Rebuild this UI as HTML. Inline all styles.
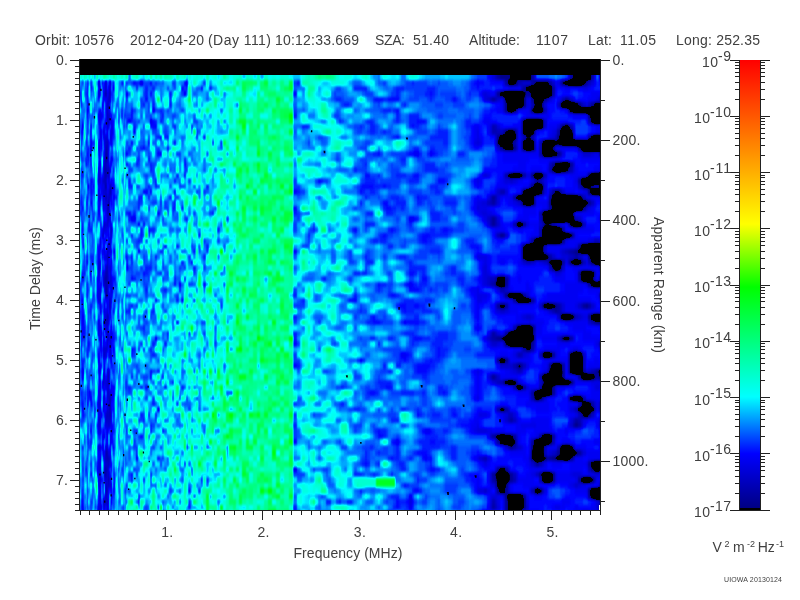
<!DOCTYPE html>
<html><head><meta charset="utf-8"><title>MARSIS AIS ionogram</title>
<style>
html,body{margin:0;padding:0;background:#fff;}
body{width:800px;height:600px;overflow:hidden;}
svg{display:block;}
text{font-family:"Liberation Sans",Arial,Helvetica,sans-serif;font-size:14px;fill:#404040;}
.t{stroke:#222;stroke-width:1;shape-rendering:crispEdges;fill:none;}
</style></head><body>
<svg width="800" height="600" viewBox="0 0 800 600">
<rect width="800" height="600" fill="#fff"/>
<defs><clipPath id="pc"><rect x="80" y="59" width="520" height="451"/></clipPath><filter id="spl" x="70" y="60" width="540" height="460" filterUnits="userSpaceOnUse" color-interpolation-filters="sRGB"><feConvolveMatrix order="3 1" kernelMatrix="0.22 0.56 0.22" edgeMode="duplicate" preserveAlpha="true"/><feGaussianBlur stdDeviation="0.1 1.5"/><feComponentTransfer><feFuncR type="table" tableValues="0 0 0 0 0 0 0 0 0 0 0 0 0 0 0 0 0 0 0 0 0 0 0 0 0 0 0 0 0 0 0 0 0 0 0 0 0 0 0 0 0 0 0 0 0 0 0 0 0 0 0 0 0 0 0 0 0 0 0 0 0 0 0 0 0 0 0 0 0 0 0 0 0 0 0 0 0 0 0 0 0 0 0 0 0 0 0 0 0 0 0 0 0 0 0 0 0 0 0 0 0 0 0 0 0 0 0 0 0 0 0.027 0.0721 0.117 0.162 0.207 0.252 0.297 0.342 0.387 0.432 0.477"/><feFuncG type="table" tableValues="0 0 0 0 0 0 0 0 0 0 0 0 0 0 0 0 0 0 0 0 0 0 0 0 0 0 0 0 0 0 0 0 0 0 0 0 0 0 0 0 0 0 0 0 0 0 0 0 0 0 0 0.05 0.1 0.15 0.2 0.25 0.3 0.35 0.4 0.45 0.5 0.55 0.6 0.65 0.7 0.75 0.8 0.85 0.9 0.95 1 1 1 1 1 1 1 1 1 1 1 1 1 1 1 1 1 1 1 1 1 1 1 1 1 1 1 1 1 1 1 1 1 1 1 1 1 1 1 1 1 1 1 1 1 1 1 1 1 1 1"/><feFuncB type="table" tableValues="0 0 0 0 0 0 0 0 0 0 0 0 0 0 0 0 0 0 0 0 0 0 0 0 0 0 0 0 0 0 0.54 0.563 0.586 0.609 0.632 0.655 0.678 0.701 0.724 0.747 0.77 0.793 0.816 0.839 0.862 0.885 0.908 0.931 0.954 0.977 1 1 1 1 1 1 1 1 1 1 1 1 1 1 1 1 1 1 1 1 1 0.975 0.949 0.924 0.898 0.873 0.848 0.822 0.797 0.772 0.746 0.721 0.695 0.67 0.645 0.619 0.594 0.569 0.543 0.518 0.492 0.467 0.442 0.416 0.391 0.365 0.34 0.315 0.289 0.264 0.239 0.213 0.188 0.162 0.137 0.112 0.0863 0.0609 0.0355 0.0102 0 0 0 0 0 0 0 0 0 0 0"/><feFuncA type="linear" slope="0" intercept="1"/></feComponentTransfer></filter></defs>
<g clip-path="url(#pc)" shape-rendering="crispEdges" fill="none" stroke-width="1"><g filter="url(#spl)"><g transform="translate(70,69.5625) scale(1,5.4375)"><path stroke="#4a4a4a" d="M36.5 8.5h1.1M35.3 15.5h1.2M35.3 16.5h1.2M35.3 21.5h1.2M39.9 21.5h1.2M37.6 24.5h1.2M37.6 25.5h1.2M36.5 36.5h1.1M35.3 38.5h1.2M35.3 40.5h1.2M35.3 41.5h1.2M38.8 43.5h1.1M39.9 51.5h1.2M37.6 57.5h1.2M39.9 61.5h1.2M37.6 75.5h1.2"/><path stroke="#4f4f4f" d="M39.9 2.5h1.2M35.3 4.5h1.2M38.8 4.5h1.1M38.8 5.5h1.1M36.5 7.5h1.1M38.8 8.5h1.1M36.5 9.5h1.1M35.3 14.5h1.2M36.5 15.5h1.1M37.6 17.5h1.2M34.2 18.5h2.3M37.6 18.5h1.2M35.3 19.5h1.2M39.9 22.5h1.2M35.3 23.5h1.2M38.8 23.5h1.1M33 24.5h1.2M36.5 25.5h1.1M36.5 26.5h1.1M34.2 28.5h1.1M33 30.5h1.2M29.6 31.5h1.1M36.5 34.5h1.1M35.3 37.5h2.3M35.3 39.5h1.2M38.8 42.5h1.1M36.5 44.5h1.1M36.5 45.5h1.1M36.5 48.5h1.1M39.9 50.5h1.2M33 51.5h1.2M37.6 56.5h1.2M33 57.5h1.2M39.9 60.5h1.2M33 61.5h1.2M38.8 61.5h1.1M39.9 62.5h1.2M39.9 63.5h1.2M36.5 67.5h1.1M35.3 70.5h2.3M36.5 71.5h1.1M35.3 73.5h1.2M34.2 74.5h2.3M37.6 74.5h1.2M29.6 75.5h1.1M37.6 76.5h1.2M35.3 77.5h1.2M29.6 78.5h1.1"/><path stroke="#535353" d="M36.5 6.5h1.1M37.6 9.5h1.2M36.5 10.5h1.1M36.5 11.5h1.1M39.9 12.5h1.2M36.5 13.5h1.1M36.5 14.5h1.1M33 16.5h1.2M34.2 17.5h2.3M34.2 19.5h1.1M37.6 19.5h1.2M34.2 20.5h2.3M38.8 22.5h1.1M33 23.5h1.2M38.8 24.5h1.1M37.6 27.5h1.2M39.9 28.5h1.2M41.1 29.5h1.1M37.6 30.5h1.2M39.9 31.5h1.2M39.9 32.5h1.2M36.5 33.5h1.1M36.5 35.5h1.1M41.1 35.5h1.1M39.9 37.5h1.2M34.2 38.5h1.1M36.5 38.5h2.3M39.9 38.5h1.2M36.5 39.5h1.1M36.5 40.5h1.1M36.5 41.5h1.1M36.5 43.5h1.1M38.8 44.5h1.1M37.6 45.5h1.2M34.2 46.5h3.4M30.7 48.5h1.2M36.5 49.5h1.1M33 50.5h1.2M36.5 50.5h1.1M33 52.5h1.2M34.2 55.5h1.1M33 56.5h1.2M36.5 59.5h1.1M34.2 60.5h1.1M36.5 60.5h1.1M38.8 60.5h1.1M36.5 62.5h1.1M38.8 62.5h1.1M36.5 63.5h1.1M38.8 63.5h1.1M33 70.5h1.2M29.6 71.5h1.1M35.3 71.5h1.2M37.6 71.5h1.2M37.6 72.5h1.2M29.6 73.5h1.1M34.2 73.5h1.1M35.3 76.5h1.2M36.5 77.5h1.1M35.3 78.5h1.2M41.1 78.5h1.1M29.6 79.5h1.1M33 79.5h2.3M36.5 79.5h1.1M36.5 80.5h1.1"/><path stroke="#585858" d="M28.4 2.5h1.2M35.3 2.5h1.2M35.3 3.5h1.2M38.8 3.5h1.1M28.4 4.5h1.2M39.9 4.5h1.2M37.6 5.5h1.2M37.6 6.5h1.2M38.8 9.5h1.1M41.1 9.5h1.1M29.6 11.5h1.1M33 11.5h1.2M36.5 12.5h1.1M35.3 13.5h1.2M36.5 16.5h2.3M28.4 19.5h1.2M28.4 20.5h1.2M31.9 20.5h2.3M37.6 20.5h1.2M33 22.5h1.2M35.3 22.5h1.2M41.1 22.5h1.1M28.4 23.5h1.2M37.6 23.5h1.2M35.3 24.5h1.2M33 25.5h1.2M37.6 26.5h1.2M36.5 27.5h1.1M39.9 27.5h1.2M36.5 28.5h1.1M33 29.5h1.2M39.9 29.5h1.2M31.9 30.5h1.1M39.9 30.5h2.3M29.6 32.5h1.1M34.2 33.5h1.1M28.4 36.5h1.2M35.3 36.5h1.2M39.9 36.5h1.2M33 38.5h1.2M33 39.5h2.3M39.9 39.5h1.2M41.1 40.5h1.1M29.6 42.5h1.1M39.9 42.5h1.2M29.6 43.5h1.1M34.2 43.5h1.1M39.9 43.5h1.2M34.2 44.5h1.1M37.6 46.5h1.2M36.5 47.5h1.1M33 48.5h1.2M37.6 48.5h1.2M30.7 49.5h1.2M33 49.5h1.2M37.6 49.5h1.2M39.9 49.5h1.2M35.3 51.5h1.2M34.2 52.5h1.1M39.9 52.5h1.2M36.5 55.5h2.3M34.2 56.5h1.1M36.5 56.5h1.1M29.6 57.5h1.1M37.6 58.5h1.2M37.6 59.5h1.2M29.6 61.5h1.1M36.5 61.5h1.1M33 62.5h1.2M35.3 63.5h1.2M37.6 63.5h1.2M28.4 64.5h1.2M35.3 64.5h5.8M37.6 65.5h2.3M36.5 66.5h1.1M39.9 68.5h1.2M28.4 69.5h2.3M36.5 69.5h1.1M38.8 71.5h2.3M29.6 72.5h1.1M35.3 72.5h2.3M38.8 72.5h1.1M36.5 73.5h2.3M29.6 74.5h1.1M35.3 75.5h1.2M39.9 76.5h2.3M35.3 79.5h1.2M37.6 79.5h1.2M30.7 80.5h1.2M34.2 80.5h1.1M37.6 81.5h1.2"/><path stroke="#5d5d5d" d="M29.6 3.5h1.1M39.9 3.5h1.2M34.2 4.5h1.1M30.7 8.5h1.2M41.1 10.5h1.1M41.1 11.5h1.1M29.6 12.5h2.3M34.2 12.5h2.3M30.7 13.5h1.2M34.2 13.5h1.1M37.6 13.5h1.2M28.4 14.5h1.2M37.6 14.5h1.2M29.6 17.5h1.1M33 17.5h1.2M39.9 17.5h1.2M28.4 18.5h1.2M36.5 18.5h1.1M38.8 18.5h1.1M36.5 19.5h1.1M38.8 19.5h1.1M29.6 20.5h1.1M31.9 21.5h1.1M34.2 21.5h1.1M41.1 21.5h1.1M30.7 22.5h1.2M34.2 22.5h1.1M41.1 23.5h1.1M41.1 24.5h1.1M38.8 26.5h1.1M35.3 28.5h1.2M37.6 28.5h1.2M37.6 29.5h1.2M36.5 32.5h1.1M38.8 32.5h1.1M31.9 33.5h1.1M37.6 33.5h3.5M31.9 34.5h1.1M34.2 34.5h1.1M41.1 34.5h1.1M28.4 35.5h2.3M29.6 36.5h1.1M38.8 36.5h1.1M28.4 37.5h1.2M37.6 37.5h1.2M41.1 38.5h1.1M30.7 39.5h1.2M37.6 39.5h1.2M41.1 39.5h1.1M29.6 41.5h1.1M28.4 42.5h1.2M29.6 44.5h1.1M39.9 44.5h1.2M34.2 45.5h2.3M28.4 46.5h1.2M41.1 46.5h1.1M28.4 47.5h1.2M30.7 47.5h1.2M35.3 47.5h1.2M41.1 47.5h1.1M28.4 48.5h1.2M29.6 49.5h1.1M29.6 50.5h2.3M30.7 51.5h1.2M34.2 51.5h1.1M36.5 51.5h1.1M30.7 52.5h1.2M35.3 52.5h1.2M28.4 53.5h1.2M41.1 53.5h1.1M34.2 54.5h1.1M12.3 55.5h1.2M35.3 57.5h2.3M29.6 58.5h1.1M33 58.5h1.2M36.5 58.5h1.1M41.1 58.5h1.1M28.4 59.5h1.2M39.9 59.5h1.2M33 60.5h1.2M37.6 60.5h1.2M41.1 60.5h1.1M28.4 61.5h1.2M37.6 62.5h1.2M4.2 63.5h1.2M41.1 63.5h1.1M29.6 64.5h1.1M28.4 65.5h2.3M35.3 65.5h1.2M29.6 66.5h1.1M33 67.5h1.2M36.5 68.5h1.1M31.9 69.5h2.3M35.3 69.5h1.2M39.9 69.5h1.2M39.9 70.5h1.2M34.2 72.5h1.1M41.1 73.5h1.1M38.8 75.5h1.1M28.4 76.5h2.3M36.5 76.5h1.1M38.8 76.5h1.1M41.1 77.5h1.1M28.4 80.5h2.3M33 80.5h1.2M28.4 81.5h1.2M36.5 81.5h1.1"/><path stroke="#616161" d="M31.9 2.5h1.1M70.4 2.5h2.4M28.4 3.5h1.2M37.6 4.5h1.2M33 5.5h1.2M36.5 5.5h1.1M39.9 5.5h1.2M31.9 6.5h2.3M38.8 6.5h1.1M16.9 7.5h1.2M29.6 7.5h1.1M38.8 7.5h1.1M28.4 8.5h2.3M37.6 8.5h1.2M41.1 8.5h1.1M80 9.5h2.4M12.3 10.5h1.2M34.2 10.5h1.1M37.6 10.5h1.2M42.2 10.5h1.2M34.2 11.5h1.1M42.2 11.5h1.2M41.1 12.5h1.1M11.2 13.5h1.1M23.8 13.5h1.2M28.4 13.5h1.2M41.1 13.5h1.1M20.4 14.5h1.1M30.7 14.5h1.2M37.6 15.5h1.2M41.1 16.5h1.1M36.5 17.5h1.1M33 18.5h1.2M39.9 18.5h1.2M38.8 20.5h1.1M41.1 20.5h1.1M18.1 21.5h1.1M38.8 21.5h1.1M28.4 22.5h1.2M37.6 22.5h1.2M29.6 23.5h1.1M36.5 23.5h1.1M36.5 24.5h1.1M28.4 25.5h1.2M35.3 25.5h1.2M38.8 25.5h1.1M33 26.5h1.2M33 27.5h1.2M38.8 27.5h1.1M34.2 29.5h2.3M29.6 30.5h1.1M37.6 31.5h1.2M37.6 32.5h1.2M41.1 33.5h1.1M35.3 34.5h1.2M37.6 34.5h1.2M16.9 35.5h1.2M31.9 36.5h1.1M31.9 37.5h3.4M28.4 38.5h1.2M27.3 39.5h1.1M28.4 40.5h2.3M37.6 40.5h1.2M27.3 41.5h2.3M38.8 41.5h1.1M41.1 41.5h1.1M36.5 42.5h1.1M41.1 42.5h1.1M33 46.5h1.2M39.9 48.5h2.3M38.8 49.5h1.1M11.2 50.5h1.1M23.8 50.5h1.2M38.8 51.5h1.1M38.8 52.5h1.1M33 53.5h1.2M28.4 54.5h1.2M30.7 54.5h1.2M28.4 55.5h2.3M33 55.5h1.2M38.8 55.5h1.1M12.3 56.5h1.2M38.8 56.5h1.1M16.9 58.5h1.2M35.3 58.5h1.2M19.2 59.5h1.2M29.6 59.5h1.1M34.2 59.5h1.1M38.8 59.5h1.1M41.1 59.5h1.1M28.4 60.5h2.3M16.9 61.5h1.2M28.4 62.5h2.3M28.4 63.5h3.5M41.1 64.5h1.1M36.5 65.5h1.1M41.1 65.5h1.1M8.9 66.5h1.1M28.4 66.5h1.2M41.1 66.5h1.1M39.9 67.5h2.3M31.9 68.5h1.1M37.6 70.5h2.3M34.2 71.5h1.1M28.4 72.5h1.2M41.1 72.5h1.1M27.3 73.5h2.3M27.3 74.5h2.3M36.5 74.5h1.1M16.9 75.5h1.2M28.4 75.5h1.2M31.9 75.5h1.1M36.5 75.5h1.1M39.9 75.5h1.2M16.9 76.5h1.2M33 76.5h1.2M29.6 77.5h1.1M33 77.5h1.2M36.5 78.5h2.3M16.9 79.5h1.2M41.1 79.5h1.1M37.6 80.5h1.2M30.7 81.5h1.2"/><path stroke="#666666" d="M116 2.5h2.4M37.6 3.5h1.2M43.4 3.5h1.1M10 4.5h1.2M16.9 4.5h1.2M33 4.5h1.2M56 4.5h2.4M113.6 4.5h2.4M11.2 5.5h1.1M35.3 5.5h1.2M11.2 6.5h1.1M35.3 6.5h1.2M33 7.5h1.2M35.3 7.5h1.2M37.6 7.5h1.2M82.4 7.5h2.4M16.9 8.5h1.2M33 8.5h1.2M28.4 9.5h2.3M35.3 9.5h1.2M58.4 9.5h2.4M20.4 10.5h1.1M29.6 10.5h1.1M20.4 11.5h1.1M30.7 11.5h1.2M33 12.5h1.2M20.4 13.5h1.1M39.9 13.5h1.2M18.1 14.5h1.1M23.8 14.5h1.2M28.4 15.5h1.2M33 15.5h1.2M52.6 15.5h1.1M18.1 16.5h1.1M29.6 16.5h1.1M34.2 16.5h1.1M42.2 16.5h1.2M15.8 17.5h1.1M23.8 17.5h1.2M28.4 17.5h1.2M29.6 18.5h1.1M33 19.5h1.2M28.4 21.5h1.2M30.7 21.5h1.2M33 21.5h1.2M37.6 21.5h1.2M43.4 21.5h1.1M31.9 22.5h1.1M36.5 22.5h1.1M34.2 23.5h1.1M39.9 23.5h1.2M43.4 23.5h1.1M45.7 23.5h1.1M15.8 24.5h1.1M28.4 24.5h2.3M21.5 25.5h1.2M19.2 26.5h1.2M28.4 26.5h1.2M35.3 26.5h1.2M39.9 26.5h1.2M19.2 27.5h1.2M60.8 27.5h4.8M29.6 28.5h1.1M68 28.5h2.4M35.3 30.5h1.2M16.9 31.5h1.2M34.2 31.5h1.1M16.9 32.5h1.2M23.8 32.5h1.2M27.3 32.5h1.1M33 32.5h2.3M28.4 33.5h1.2M43.4 33.5h1.1M68 33.5h2.4M13.5 34.5h1.1M16.9 34.5h1.2M22.7 34.5h1.1M28.4 34.5h1.2M31.9 35.5h1.1M37.6 35.5h2.3M22.7 36.5h1.1M37.6 36.5h1.2M56 36.5h2.4M20.4 37.5h1.1M27.3 38.5h1.1M38.8 39.5h1.1M42.2 39.5h1.2M108.8 39.5h2.4M27.3 40.5h1.1M39.9 40.5h1.2M42.2 40.5h1.2M16.9 41.5h1.2M39.9 41.5h1.2M35.3 44.5h1.2M48 44.5h1.1M12.3 45.5h1.2M30.7 45.5h1.2M39.9 45.5h1.2M12.3 46.5h1.2M14.6 46.5h1.2M30.7 46.5h1.2M33 47.5h1.2M35.3 48.5h1.2M11.2 49.5h1.1M41.1 49.5h1.1M84.8 49.5h2.4M35.3 50.5h1.2M11.2 51.5h1.1M43.4 51.5h1.1M23.8 52.5h1.2M28.4 52.5h1.2M41.1 52.5h1.1M37.6 53.5h1.2M23.8 56.5h1.2M29.6 56.5h1.1M21.5 57.5h1.2M23.8 57.5h1.2M31.9 57.5h1.1M34.2 57.5h1.1M41.1 57.5h1.1M48 57.5h1.1M28.4 58.5h1.2M31.9 58.5h1.1M43.4 58.5h1.1M16.9 59.5h1.2M23.8 59.5h1.2M43.4 59.5h1.1M14.6 60.5h1.2M16.9 60.5h1.2M20.4 60.5h1.1M27.3 61.5h1.1M34.2 61.5h1.1M37.6 61.5h1.2M42.2 61.5h1.2M12.3 62.5h1.2M87.2 62.5h2.4M23.8 63.5h1.2M4.2 64.5h1.2M39.9 65.5h1.2M20.4 66.5h1.1M33 66.5h1.2M31.9 67.5h1.1M34.2 67.5h1.1M42.2 68.5h1.2M27.3 70.5h1.1M29.6 70.5h1.1M52.6 70.5h1.1M33 71.5h1.2M65.6 71.5h2.4M39.9 72.5h1.2M52.6 72.5h1.1M48 73.5h1.1M222.9 73.5h4.4M16.9 74.5h1.2M38.8 74.5h1.1M34.2 75.5h1.1M41.1 75.5h1.1M43.4 76.5h1.1M16.9 77.5h1.2M28.4 77.5h1.2M43.4 77.5h1.1M16.9 78.5h1.2M28.4 78.5h1.2M28.4 79.5h1.2M12.3 80.5h1.2M16.9 80.5h1.2M12.3 81.5h1.2M33 81.5h1.2"/><path stroke="#6b6b6b" d="M14.6 2.5h1.2M16.9 2.5h1.2M38.8 2.5h1.1M52.6 2.5h1.1M63.2 2.5h2.4M80 2.5h2.4M113.6 2.5h2.4M4.2 3.5h1.2M16.9 3.5h1.2M33 3.5h2.3M111.2 3.5h2.4M130.7 3.5h2.6M29.6 4.5h1.1M36.5 4.5h1.1M42.2 4.5h1.2M80 4.5h2.4M222.9 4.5h4.4M10 5.5h1.2M16.9 5.5h1.2M28.4 5.5h1.2M42.2 5.5h1.2M75.2 5.5h2.4M16.9 6.5h2.3M23.8 6.5h1.2M42.2 6.5h1.2M23.8 7.5h1.2M31.9 7.5h1.1M48 7.5h1.1M60.8 7.5h2.4M23.8 8.5h1.2M35.3 8.5h1.2M48 8.5h1.1M51.4 8.5h1.2M53.7 8.5h1.2M60.8 8.5h2.4M18.1 9.5h1.1M43.4 9.5h1.1M48 9.5h2.3M82.4 9.5h2.4M33 10.5h1.2M35.3 10.5h1.2M38.8 10.5h1.1M80 10.5h7.2M12.3 11.5h1.2M39.9 11.5h1.2M63.2 11.5h2.4M11.2 12.5h1.1M20.4 12.5h1.1M23.8 12.5h1.2M89.6 12.5h2.4M15.8 13.5h1.1M60.8 13.5h2.4M77.6 13.5h2.4M104 13.5h2.4M5.4 14.5h1.2M11.2 14.5h1.1M42.2 14.5h1.2M72.8 14.5h2.4M96.8 14.5h2.4M11.2 15.5h1.1M16.9 15.5h2.3M20.4 15.5h1.1M23.8 15.5h1.2M30.7 15.5h1.2M42.2 15.5h1.2M56 15.5h2.4M87.2 15.5h4.8M20.4 16.5h1.1M39.9 16.5h1.2M52.6 16.5h1.1M77.6 16.5h2.4M18.1 17.5h1.1M20.4 17.5h1.1M41.1 17.5h1.1M56 17.5h2.4M113.6 17.5h2.4M11.2 18.5h1.1M23.8 18.5h1.2M45.7 18.5h1.1M12.3 19.5h1.2M29.6 19.5h1.1M31.9 19.5h1.1M52.6 19.5h1.1M113.6 19.5h2.4M16.9 20.5h1.2M20.4 20.5h2.3M23.8 20.5h1.2M43.4 20.5h1.1M52.6 20.5h1.1M16.9 21.5h1.2M20.4 21.5h1.1M22.7 21.5h2.3M29.6 21.5h1.1M42.2 21.5h1.2M20.4 22.5h1.1M23.8 22.5h1.2M43.4 22.5h1.1M72.8 22.5h4.8M80 22.5h2.4M104 22.5h2.4M222.9 22.5h4.4M16.9 23.5h1.2M23.8 23.5h1.2M10 24.5h1.2M16.9 24.5h1.2M20.4 24.5h2.3M34.2 24.5h1.1M43.4 24.5h1.1M12.3 25.5h1.2M16.9 25.5h1.2M34.2 25.5h1.1M41.1 25.5h1.1M43.4 25.5h1.1M222.9 25.5h4.4M58.4 26.5h2.4M87.2 26.5h2.4M34.2 27.5h2.3M42.2 27.5h1.2M48 27.5h1.1M18.1 28.5h2.3M21.5 28.5h1.2M33 28.5h1.2M72.8 28.5h2.4M11.2 29.5h1.1M29.6 29.5h2.3M36.5 29.5h1.1M42.2 29.5h1.2M52.6 30.5h1.1M23.8 31.5h1.2M33 31.5h1.2M35.3 31.5h1.2M38.8 31.5h1.1M52.6 31.5h1.1M52.6 32.5h1.1M94.4 32.5h2.4M16.9 33.5h1.2M29.6 33.5h1.1M33 33.5h1.2M222.9 33.5h4.4M5.4 34.5h1.2M38.8 34.5h1.1M52.6 34.5h1.1M5.4 35.5h1.2M21.5 35.5h2.3M34.2 35.5h1.1M52.6 35.5h1.1M56 35.5h2.4M120.8 35.5h2.4M41.1 36.5h1.1M48 36.5h1.1M48 37.5h1.1M72.8 37.5h2.4M12.3 38.5h1.2M20.4 38.5h1.1M23.8 38.5h1.2M30.7 38.5h1.2M42.2 38.5h2.3M60.8 38.5h2.4M28.4 39.5h1.2M104 39.5h2.4M133.3 39.5h2.7M16.9 40.5h1.2M23.8 41.5h1.2M37.6 41.5h1.2M42.2 41.5h1.2M52.6 41.5h1.1M11.2 42.5h2.3M16.9 42.5h1.2M27.3 42.5h1.1M33 42.5h1.2M35.3 42.5h1.2M54.9 42.5h1.1M84.8 42.5h2.4M111.2 42.5h2.4M12.3 43.5h1.2M16.9 43.5h1.2M54.9 43.5h1.1M10 44.5h1.2M12.3 44.5h1.2M16.9 44.5h1.2M30.7 44.5h1.2M43.4 44.5h1.1M52.6 44.5h1.1M54.9 44.5h1.1M23.8 45.5h1.2M48 45.5h1.1M54.9 45.5h1.1M106.4 46.5h2.4M11.2 47.5h3.4M29.6 47.5h1.1M11.2 48.5h3.4M42.2 48.5h1.2M50.3 48.5h1.1M23.8 49.5h1.2M28.4 49.5h1.2M42.2 49.5h2.3M45.7 49.5h1.1M50.3 49.5h1.1M18.1 50.5h2.3M37.6 50.5h2.3M41.1 50.5h2.3M222.9 50.5h4.4M6.6 51.5h1.1M23.8 51.5h1.2M29.6 51.5h1.1M60.8 51.5h2.4M11.2 52.5h1.1M21.5 52.5h1.2M37.6 52.5h1.2M43.4 52.5h1.1M21.5 53.5h1.2M30.7 53.5h1.2M39.9 53.5h1.2M12.3 54.5h1.2M37.6 54.5h1.2M41.1 54.5h1.1M222.9 54.5h4.4M49.1 55.5h1.2M80 55.5h2.4M21.5 56.5h1.2M28.4 56.5h1.2M80 56.5h2.4M38.8 57.5h1.1M54.9 57.5h1.1M8.9 58.5h1.1M23.8 58.5h1.2M42.2 58.5h1.2M54.9 58.5h1.1M75.2 58.5h2.4M11.2 59.5h1.1M33 59.5h1.2M52.6 59.5h1.1M11.2 60.5h1.1M42.2 60.5h2.3M48 60.5h1.1M12.3 61.5h1.2M14.6 61.5h1.2M18.1 61.5h1.1M20.4 61.5h1.1M23.8 61.5h1.2M35.3 61.5h1.2M50.3 61.5h1.1M16.9 62.5h1.2M23.8 62.5h2.3M27.3 62.5h1.1M34.2 62.5h2.3M41.1 62.5h1.1M43.4 62.5h1.1M50.3 62.5h1.1M12.3 63.5h1.2M43.4 63.5h1.1M23.8 64.5h1.2M8.9 65.5h1.1M11.2 65.5h1.1M27.3 65.5h1.1M42.2 65.5h1.2M38.8 66.5h1.1M42.2 66.5h1.2M13.5 67.5h1.1M16.9 67.5h1.2M29.6 67.5h1.1M42.2 67.5h1.2M48 67.5h1.1M70.4 67.5h2.4M23.8 68.5h1.2M33 68.5h1.2M222.9 68.5h4.4M43.4 69.5h1.1M28.4 70.5h1.2M27.3 71.5h2.3M27.3 72.5h1.1M15.8 73.5h1.1M20.4 74.5h1.1M23.8 74.5h1.2M43.4 74.5h1.1M52.6 74.5h1.1M60.8 74.5h2.4M43.4 75.5h1.1M4.2 77.5h1.2M37.6 77.5h1.2M54.9 77.5h1.1M33 78.5h1.2M11.2 79.5h2.3M14.6 80.5h1.2M25 80.5h1.1M35.3 80.5h1.2M52.6 80.5h1.1M54.9 80.5h1.1M10 81.5h1.2M27.3 81.5h1.1M52.6 81.5h1.1"/><path stroke="#6f6f6f" d="M18.1 2.5h1.1M20.4 2.5h1.1M34.2 2.5h1.1M37.6 2.5h1.2M42.2 2.5h2.3M51.4 2.5h1.2M65.6 2.5h4.8M14.6 3.5h1.2M20.4 3.5h1.1M31.9 3.5h1.1M42.2 3.5h1.2M54.9 3.5h1.1M65.6 3.5h2.4M75.2 3.5h2.4M82.4 3.5h2.4M116 3.5h2.4M138.7 3.5h2.8M11.2 4.5h1.1M75.2 4.5h2.4M99.2 4.5h2.4M23.8 5.5h1.2M34.2 5.5h1.1M52.6 5.5h1.1M56 5.5h2.4M39.9 6.5h1.2M45.7 6.5h1.1M54.9 6.5h1.1M72.8 6.5h2.4M82.4 6.5h2.4M99.2 6.5h2.4M18.1 7.5h2.3M21.5 7.5h1.2M28.4 7.5h1.2M39.9 7.5h1.2M42.2 7.5h1.2M51.4 7.5h1.2M89.6 7.5h2.4M21.5 8.5h1.2M31.9 8.5h1.1M39.9 8.5h1.2M92 8.5h2.4M222.9 8.5h4.4M12.3 9.5h1.2M16.9 9.5h1.2M30.7 9.5h1.2M39.9 9.5h1.2M42.2 9.5h1.2M53.7 9.5h1.2M56 9.5h2.4M60.8 9.5h2.4M84.8 9.5h2.4M89.6 9.5h2.4M16.9 10.5h2.3M28.4 10.5h1.2M43.4 10.5h1.1M63.2 10.5h2.4M104 10.5h2.4M120.8 10.5h2.4M10 11.5h2.3M16.9 11.5h1.2M43.4 11.5h1.1M16.9 12.5h1.2M42.2 12.5h2.3M87.2 12.5h2.4M94.4 12.5h4.8M125.7 12.5h2.5M133.3 12.5h2.7M21.5 13.5h1.2M42.2 13.5h1.2M141.5 13.5h2.8M34.2 14.5h1.1M58.4 14.5h2.4M70.4 14.5h2.4M5.4 15.5h1.2M34.2 15.5h1.1M45.7 15.5h1.1M54.9 15.5h1.1M11.2 16.5h1.1M14.6 16.5h2.3M23.8 16.5h1.2M28.4 16.5h1.2M45.7 16.5h1.1M48 16.5h1.1M68 16.5h2.4M113.6 16.5h2.4M7.7 17.5h1.2M45.7 17.5h1.1M48 17.5h1.1M65.6 17.5h2.4M80 17.5h2.4M43.4 18.5h1.1M80 18.5h2.4M10 19.5h1.2M21.5 19.5h1.2M23.8 19.5h1.2M56 19.5h2.4M106.4 19.5h2.4M30.7 20.5h1.2M42.2 20.5h1.2M58.4 20.5h2.4M84.8 20.5h2.4M104 20.5h2.4M48 21.5h1.1M52.6 21.5h1.1M54.9 21.5h1.1M58.4 21.5h4.8M77.6 21.5h2.4M84.8 21.5h2.4M136 21.5h2.7M18.1 22.5h1.1M21.5 22.5h1.2M48 22.5h1.1M10 23.5h2.3M20.4 23.5h2.3M68 23.5h4.8M77.6 23.5h2.4M99.2 23.5h2.4M11.2 24.5h1.1M23.8 24.5h1.2M45.7 24.5h1.1M68 24.5h2.4M89.6 24.5h2.4M104 24.5h2.4M15.8 25.5h1.1M48 25.5h1.1M68 25.5h2.4M77.6 25.5h2.4M101.6 25.5h4.8M111.2 25.5h2.4M4.2 26.5h2.4M11.2 26.5h1.1M15.8 26.5h1.1M21.5 26.5h1.2M23.8 26.5h1.2M42.2 26.5h1.2M56 26.5h2.4M63.2 26.5h2.4M141.5 26.5h2.8M222.9 26.5h4.4M11.2 27.5h1.1M22.7 27.5h1.1M28.4 27.5h1.2M58.4 27.5h2.4M116 27.5h2.4M7.7 28.5h1.2M12.3 28.5h1.2M26.1 28.5h1.2M30.7 28.5h1.2M41.1 28.5h2.3M54.9 28.5h1.1M12.3 29.5h1.2M18.1 29.5h4.6M31.9 29.5h1.1M70.4 29.5h2.4M77.6 29.5h7.2M147.2 29.5h2.9M11.2 30.5h1.1M16.9 30.5h1.2M21.5 30.5h1.2M60.8 30.5h2.4M70.4 30.5h2.4M77.6 30.5h2.4M128.2 30.5h2.5M12.3 31.5h1.2M21.5 31.5h1.2M31.9 31.5h1.1M41.1 31.5h1.1M56 31.5h2.4M68 31.5h2.4M4.2 32.5h1.2M12.3 32.5h2.3M21.5 32.5h1.2M28.4 32.5h1.2M106.4 32.5h2.4M136 32.5h2.7M8.9 33.5h1.1M13.5 33.5h1.1M27.3 33.5h1.1M35.3 33.5h1.2M52.6 33.5h1.1M89.6 33.5h2.4M123.2 33.5h2.5M8.9 34.5h1.1M15.8 34.5h1.1M20.4 34.5h1.1M27.3 34.5h1.1M43.4 34.5h1.1M48 34.5h1.1M54.9 34.5h3.5M60.8 34.5h2.4M84.8 34.5h2.4M133.3 34.5h2.7M13.5 35.5h1.1M15.8 35.5h1.1M35.3 35.5h1.2M48 35.5h1.1M60.8 35.5h2.4M111.2 35.5h2.4M5.4 36.5h1.2M13.5 36.5h1.1M75.2 36.5h7.2M123.2 36.5h2.5M11.2 37.5h4.6M38.8 37.5h1.1M75.2 37.5h2.4M89.6 37.5h2.4M11.2 38.5h1.1M38.8 38.5h1.1M44.5 38.5h1.2M63.2 38.5h2.4M104 38.5h2.4M113.6 38.5h2.4M10 39.5h1.2M15.8 39.5h2.3M29.6 39.5h1.1M44.5 39.5h1.2M10 40.5h1.2M30.7 40.5h1.2M34.2 40.5h1.1M45.7 40.5h1.1M75.2 40.5h2.4M94.4 40.5h2.4M108.8 40.5h2.4M11.2 41.5h1.1M21.5 41.5h1.2M44.5 41.5h1.2M222.9 41.5h4.4M21.5 42.5h1.2M23.8 42.5h1.2M34.2 42.5h1.1M44.5 42.5h1.2M49.1 42.5h1.2M106.4 42.5h2.4M20.4 43.5h1.1M27.3 43.5h1.1M31.9 43.5h1.1M41.1 43.5h1.1M43.4 43.5h1.1M48 43.5h1.1M60.8 43.5h2.4M20.4 44.5h1.1M33 44.5h1.2M56 44.5h4.8M82.4 44.5h2.4M10 45.5h1.2M16.9 45.5h1.2M28.4 45.5h1.2M38.8 45.5h1.1M52.6 45.5h1.1M72.8 45.5h2.4M222.9 45.5h4.4M5.4 46.5h1.2M11.2 46.5h1.1M23.8 46.5h1.2M38.8 46.5h1.1M52.6 46.5h1.1M54.9 46.5h1.1M6.6 47.5h1.1M14.6 47.5h1.2M18.1 47.5h1.1M21.5 47.5h1.2M37.6 47.5h1.2M39.9 47.5h1.2M43.4 47.5h1.1M45.7 47.5h1.1M50.3 47.5h1.1M72.8 47.5h2.4M14.6 48.5h1.2M18.1 48.5h1.1M43.4 48.5h1.1M45.7 48.5h1.1M96.8 48.5h2.4M222.9 48.5h4.4M12.3 49.5h2.3M18.1 49.5h1.1M34.2 49.5h1.1M222.9 49.5h4.4M5.4 50.5h2.3M16.9 50.5h1.2M34.2 50.5h1.1M43.4 50.5h1.1M52.6 50.5h1.1M82.4 50.5h2.4M94.4 50.5h2.4M5.4 51.5h1.2M13.5 51.5h1.1M16.9 51.5h3.5M28.4 51.5h1.2M42.2 51.5h1.2M63.2 51.5h2.4M68 51.5h2.4M72.8 51.5h2.4M80 51.5h2.4M16.9 52.5h2.3M60.8 52.5h2.4M82.4 52.5h2.4M11.2 53.5h3.4M23.8 53.5h1.2M34.2 53.5h2.3M23.8 54.5h1.2M29.6 54.5h1.1M33 54.5h1.2M42.2 54.5h1.2M46.8 54.5h1.2M49.1 54.5h1.2M52.6 54.5h1.1M15.8 55.5h1.1M42.2 55.5h2.3M87.2 55.5h2.4M15.8 56.5h1.1M19.2 56.5h1.2M35.3 56.5h1.2M60.8 56.5h2.4M92 56.5h2.4M7.7 57.5h1.2M12.3 57.5h1.2M19.2 57.5h1.2M28.4 57.5h1.2M101.6 57.5h2.4M7.7 58.5h1.2M10 58.5h1.2M19.2 58.5h1.2M34.2 58.5h1.1M38.8 58.5h1.1M48 58.5h1.1M52.6 58.5h1.1M58.4 58.5h2.4M70.4 58.5h2.4M94.4 58.5h2.4M111.2 58.5h2.4M14.6 59.5h1.2M20.4 59.5h1.1M42.2 59.5h1.2M48 59.5h1.1M8.9 60.5h1.1M18.1 60.5h2.3M54.9 60.5h1.1M11.2 61.5h1.1M21.5 61.5h1.2M43.4 61.5h1.1M48 61.5h1.1M82.4 61.5h2.4M42.2 62.5h1.2M34.2 63.5h1.1M70.4 63.5h2.4M77.6 63.5h2.4M84.8 63.5h2.4M21.5 64.5h1.2M43.4 64.5h1.1M72.8 64.5h2.4M18.1 65.5h1.1M20.4 65.5h1.1M43.4 65.5h1.1M80 65.5h2.4M222.9 65.5h4.4M16.9 66.5h1.2M27.3 66.5h1.1M31.9 66.5h1.1M34.2 66.5h2.3M43.4 66.5h1.1M56 66.5h2.4M65.6 66.5h2.4M80 66.5h2.4M92 66.5h2.4M8.9 67.5h1.1M18.1 67.5h1.1M28.4 67.5h1.2M13.5 68.5h1.1M16.9 68.5h2.3M20.4 68.5h1.1M29.6 68.5h1.1M35.3 68.5h1.2M41.1 68.5h1.1M48 68.5h1.1M12.3 69.5h1.2M38.8 69.5h1.1M42.2 69.5h1.2M52.6 69.5h1.1M116 69.5h2.4M16.9 70.5h1.2M43.4 70.5h1.1M65.6 70.5h2.4M6.6 71.5h1.1M16.9 71.5h1.2M54.9 71.5h1.1M87.2 71.5h2.4M6.6 72.5h1.1M20.4 72.5h1.1M54.9 72.5h1.1M113.6 72.5h2.4M12.3 73.5h1.2M14.6 73.5h1.2M43.4 73.5h1.1M52.6 73.5h1.1M14.6 74.5h1.2M39.9 74.5h2.3M48 74.5h1.1M80 74.5h2.4M10 75.5h1.2M12.3 75.5h1.2M21.5 75.5h1.2M48 75.5h1.1M52.6 75.5h1.1M60.8 75.5h2.4M72.8 75.5h2.4M130.7 75.5h2.6M10 76.5h1.2M48 76.5h1.1M56 76.5h2.4M12.3 77.5h1.2M38.8 77.5h2.3M118.4 77.5h2.4M12.3 78.5h1.2M21.5 78.5h1.2M43.4 78.5h1.1M54.9 78.5h1.1M68 78.5h2.4M21.5 79.5h1.2M68 79.5h2.4M11.2 80.5h1.1M27.3 80.5h1.1M39.9 80.5h1.2M118.4 80.5h2.4M222.9 80.5h4.4M7.7 81.5h1.2M14.6 81.5h1.2M35.3 81.5h1.2M39.9 81.5h1.2M222.9 81.5h4.4"/><path stroke="#747474" d="M7.7 2.5h1.2M12.3 2.5h1.2M33 2.5h1.2M56 2.5h2.4M60.8 2.5h2.4M72.8 2.5h7.2M84.8 2.5h2.4M101.6 2.5h4.8M133.3 2.5h2.7M222.9 2.5h4.4M10 3.5h1.2M18.1 3.5h1.1M21.5 3.5h1.2M96.8 3.5h2.4M104 3.5h2.4M113.6 3.5h2.4M14.6 4.5h2.3M26.1 4.5h1.2M48 4.5h1.1M72.8 4.5h2.4M111.2 4.5h2.4M14.6 5.5h1.2M18.1 5.5h1.1M26.1 5.5h1.2M31.9 5.5h1.1M48 5.5h1.1M70.4 5.5h2.4M82.4 5.5h2.4M89.6 5.5h2.4M99.2 5.5h2.4M21.5 6.5h1.2M26.1 6.5h1.2M48 6.5h1.1M70.4 6.5h2.4M77.6 6.5h2.4M13.5 7.5h1.1M26.1 7.5h1.2M45.7 7.5h1.1M54.9 7.5h1.1M63.2 7.5h2.4M77.6 7.5h2.4M84.8 7.5h4.8M92 7.5h2.4M96.8 7.5h2.4M111.2 7.5h2.4M222.9 7.5h4.4M19.2 8.5h1.2M43.4 8.5h1.1M49.1 8.5h1.2M54.9 8.5h5.9M80 8.5h2.4M89.6 8.5h2.4M101.6 8.5h4.8M20.4 9.5h1.1M23.8 9.5h1.2M31.9 9.5h1.1M34.2 9.5h1.1M63.2 9.5h2.4M68 9.5h2.4M92 9.5h2.4M123.2 9.5h5M10 10.5h1.2M22.7 10.5h1.1M30.7 10.5h1.2M52.6 10.5h2.3M56 10.5h2.4M72.8 10.5h2.4M101.6 10.5h2.4M7.7 11.5h1.2M18.1 11.5h1.1M28.4 11.5h1.2M35.3 11.5h1.2M38.8 11.5h1.1M50.3 11.5h1.1M82.4 11.5h4.8M94.4 11.5h2.4M125.7 11.5h2.5M12.3 12.5h1.2M15.8 12.5h1.1M28.4 12.5h1.2M50.3 12.5h1.1M77.6 12.5h2.4M84.8 12.5h2.4M16.9 13.5h1.2M22.7 13.5h1.1M29.6 13.5h1.1M38.8 13.5h1.1M56 13.5h2.4M72.8 13.5h2.4M150.1 13.5h3M15.8 14.5h2.3M29.6 14.5h1.1M38.8 14.5h1.1M41.1 14.5h1.1M52.6 14.5h1.1M54.9 14.5h1.1M65.6 14.5h2.4M75.2 14.5h2.4M87.2 14.5h2.4M10 15.5h1.2M15.8 15.5h1.1M29.6 15.5h1.1M39.9 15.5h2.3M48 15.5h1.1M58.4 15.5h2.4M68 15.5h2.4M77.6 15.5h2.4M106.4 15.5h4.8M5.4 16.5h1.2M12.3 16.5h1.2M16.9 16.5h1.2M54.9 16.5h1.1M65.6 16.5h2.4M11.2 17.5h1.1M52.6 17.5h1.1M68 17.5h2.4M82.4 17.5h2.4M20.4 18.5h1.1M52.6 18.5h1.1M58.4 18.5h4.8M82.4 18.5h2.4M113.6 18.5h4.8M11.2 19.5h1.1M16.9 19.5h1.2M30.7 19.5h1.2M42.2 19.5h2.3M45.7 19.5h1.1M75.2 19.5h2.4M82.4 19.5h2.4M96.8 19.5h2.4M11.2 20.5h1.1M27.3 20.5h1.1M36.5 20.5h1.1M39.9 20.5h1.2M48 20.5h1.1M54.9 20.5h1.1M118.4 20.5h2.4M222.9 20.5h4.4M11.2 21.5h1.1M21.5 21.5h1.2M36.5 21.5h1.1M65.6 21.5h4.8M87.2 21.5h2.4M108.8 21.5h4.8M222.9 21.5h4.4M16.9 22.5h1.2M22.7 22.5h1.1M42.2 22.5h1.2M125.7 22.5h2.5M133.3 22.5h2.7M15.8 23.5h1.1M18.1 23.5h1.1M31.9 23.5h1.1M44.5 23.5h1.2M89.6 23.5h2.4M106.4 23.5h2.4M12.3 24.5h1.2M42.2 24.5h1.2M70.4 24.5h2.4M82.4 24.5h4.8M94.4 24.5h2.4M101.6 24.5h2.4M5.4 25.5h1.2M10 25.5h2.3M19.2 25.5h1.2M23.8 25.5h1.2M42.2 25.5h1.2M89.6 25.5h2.4M94.4 25.5h4.8M8.9 26.5h2.3M16.9 26.5h1.2M29.6 26.5h1.1M43.4 26.5h1.1M45.7 26.5h1.1M48 26.5h1.1M54.9 26.5h1.1M96.8 26.5h2.4M101.6 26.5h2.4M123.2 26.5h2.5M138.7 26.5h2.8M7.7 27.5h1.2M21.5 27.5h1.2M23.8 27.5h1.2M27.3 27.5h1.1M29.6 27.5h1.1M49.1 27.5h1.2M70.4 27.5h2.4M92 27.5h2.4M113.6 27.5h2.4M156.2 27.5h3.1M11.2 28.5h1.1M38.8 28.5h1.1M44.5 28.5h1.2M48 28.5h1.1M222.9 28.5h4.4M222.9 29.5h4.4M12.3 30.5h1.2M36.5 30.5h1.1M4.2 31.5h1.2M19.2 31.5h1.2M65.6 31.5h2.4M70.4 31.5h2.4M133.3 31.5h2.7M147.2 31.5h2.9M30.7 32.5h1.2M43.4 32.5h1.1M65.6 32.5h2.4M120.8 32.5h2.4M23.8 33.5h1.2M54.9 33.5h1.1M92 33.5h2.4M136 33.5h2.7M21.5 34.5h1.2M29.6 34.5h1.1M39.9 34.5h1.2M44.5 34.5h1.2M72.8 34.5h2.4M118.4 34.5h2.4M20.4 35.5h1.1M27.3 35.5h1.1M39.9 35.5h1.2M50.3 35.5h1.1M72.8 35.5h2.4M80 35.5h2.4M92 35.5h2.4M12.3 36.5h1.2M15.8 36.5h2.3M20.4 36.5h1.1M27.3 36.5h1.1M33 36.5h1.2M42.2 36.5h1.2M58.4 36.5h4.8M70.4 36.5h2.4M84.8 36.5h2.4M92 36.5h2.4M108.8 36.5h2.4M113.6 36.5h2.4M133.3 36.5h2.7M27.3 37.5h1.1M29.6 37.5h1.1M41.1 37.5h3.4M60.8 37.5h2.4M65.6 37.5h4.8M77.6 37.5h2.4M87.2 37.5h2.4M96.8 37.5h2.4M123.2 37.5h2.5M16.9 38.5h1.2M72.8 38.5h2.4M77.6 38.5h2.4M92 38.5h2.4M11.2 39.5h1.1M23.8 39.5h1.2M43.4 39.5h1.1M45.7 39.5h1.1M58.4 39.5h2.4M72.8 39.5h4.8M118.4 39.5h4.8M4.2 40.5h1.2M11.2 40.5h1.1M15.8 40.5h1.1M19.2 40.5h1.2M50.3 40.5h1.1M92 40.5h2.4M222.9 40.5h4.4M12.3 41.5h1.2M15.8 41.5h1.1M19.2 41.5h1.2M22.7 41.5h1.1M33 41.5h1.2M45.7 41.5h1.1M56 41.5h4.8M75.2 41.5h2.4M106.4 41.5h2.4M37.6 42.5h1.2M48 42.5h1.1M51.4 42.5h1.2M123.2 42.5h2.5M11.2 43.5h1.1M21.5 43.5h1.2M23.8 43.5h1.2M28.4 43.5h1.2M30.7 43.5h1.2M58.4 43.5h2.4M65.6 43.5h2.4M92 43.5h2.4M150.1 43.5h3M222.9 43.5h4.4M11.2 44.5h1.1M19.2 44.5h1.2M23.8 44.5h1.2M42.2 44.5h1.2M75.2 44.5h2.4M80 44.5h2.4M94.4 44.5h2.4M5.4 45.5h1.2M11.2 45.5h1.1M14.6 45.5h1.2M20.4 45.5h1.1M33 45.5h1.2M41.1 45.5h1.1M80 45.5h2.4M16.9 46.5h1.2M45.7 46.5h1.1M68 46.5h2.4M75.2 46.5h2.4M130.7 46.5h5.3M222.9 46.5h4.4M16.9 47.5h1.2M34.2 47.5h1.1M54.9 47.5h1.1M70.4 47.5h2.4M7.7 48.5h1.2M16.9 48.5h1.2M29.6 48.5h1.1M56 48.5h2.4M72.8 48.5h2.4M118.4 48.5h2.4M133.3 48.5h2.7M14.6 49.5h1.2M16.9 49.5h1.2M52.6 49.5h1.1M96.8 49.5h2.4M13.5 50.5h1.1M26.1 50.5h1.2M49.1 50.5h1.2M70.4 50.5h2.4M144.3 50.5h2.9M15.8 51.5h1.1M37.6 51.5h1.2M51.4 51.5h1.2M92 51.5h2.4M6.6 52.5h1.1M13.5 52.5h1.1M15.8 52.5h1.1M52.6 52.5h1.1M63.2 52.5h2.4M80 52.5h2.4M84.8 52.5h2.4M222.9 52.5h4.4M44.5 53.5h1.2M52.6 53.5h1.1M222.9 53.5h4.4M21.5 54.5h1.2M39.9 54.5h1.2M43.4 54.5h2.3M65.6 54.5h2.4M10 55.5h2.3M16.9 55.5h1.2M19.2 55.5h1.2M23.8 55.5h1.2M46.8 55.5h1.2M68 55.5h2.4M82.4 55.5h2.4M10 56.5h1.2M26.1 56.5h1.2M43.4 56.5h1.1M48 56.5h1.1M52.6 56.5h1.1M65.6 56.5h2.4M72.8 56.5h4.8M4.2 57.5h1.2M8.9 57.5h1.1M16.9 57.5h1.2M56 57.5h2.4M4.2 58.5h1.2M14.6 58.5h1.2M56 58.5h2.4M4.2 59.5h1.2M8.9 59.5h1.1M12.3 59.5h1.2M18.1 59.5h1.1M54.9 59.5h1.1M58.4 59.5h2.4M12.3 60.5h1.2M23.8 60.5h1.2M35.3 60.5h1.2M52.6 60.5h1.1M75.2 60.5h2.4M82.4 60.5h2.4M101.6 60.5h2.4M108.8 60.5h2.4M116 60.5h2.4M125.7 60.5h2.5M141.5 60.5h2.8M52.6 61.5h1.1M106.4 61.5h2.4M222.9 61.5h4.4M4.2 62.5h1.2M21.5 62.5h1.2M46.8 62.5h1.2M118.4 62.5h2.4M13.5 63.5h2.3M16.9 63.5h1.2M31.9 63.5h1.1M48 63.5h1.1M72.8 63.5h2.4M222.9 63.5h4.4M8.9 64.5h1.1M11.2 64.5h2.3M16.9 64.5h1.2M31.9 64.5h1.1M45.7 64.5h1.1M48 64.5h1.1M68 64.5h4.8M84.8 64.5h2.4M4.2 65.5h1.2M23.8 65.5h1.2M34.2 65.5h1.1M45.7 65.5h1.1M82.4 65.5h2.4M6.6 66.5h1.1M18.1 66.5h1.1M30.7 66.5h1.2M37.6 66.5h1.2M63.2 66.5h2.4M222.9 66.5h4.4M20.4 67.5h1.1M35.3 67.5h1.2M68 67.5h2.4M77.6 67.5h2.4M222.9 67.5h4.4M43.4 68.5h1.1M63.2 68.5h2.4M14.6 69.5h1.2M16.9 69.5h4.6M27.3 69.5h1.1M30.7 69.5h1.2M48 69.5h1.1M63.2 69.5h4.8M82.4 69.5h2.4M89.6 69.5h2.4M48 70.5h1.1M5.4 71.5h1.2M12.3 71.5h1.2M25 71.5h1.1M52.6 71.5h1.1M92 71.5h2.4M12.3 72.5h1.2M15.8 72.5h1.1M25 72.5h1.1M45.7 72.5h1.1M49.1 72.5h1.2M89.6 72.5h2.4M20.4 73.5h1.1M23.8 73.5h1.2M38.8 73.5h1.1M45.7 73.5h1.1M51.4 73.5h1.2M63.2 73.5h2.4M120.8 73.5h2.4M12.3 74.5h1.2M58.4 74.5h2.4M65.6 74.5h2.4M222.9 74.5h4.4M50.3 75.5h1.1M80 75.5h2.4M136 75.5h2.7M12.3 76.5h1.2M22.7 76.5h1.1M31.9 76.5h1.1M21.5 77.5h2.3M25 77.5h1.1M99.2 77.5h2.4M128.2 77.5h2.5M4.2 78.5h1.2M11.2 78.5h1.1M14.6 78.5h1.2M50.3 78.5h1.1M20.4 79.5h1.1M25 79.5h1.1M39.9 79.5h1.2M43.4 79.5h1.1M48 79.5h1.1M50.3 79.5h1.1M118.4 79.5h2.4M20.4 80.5h1.1M41.1 80.5h1.1M43.4 80.5h1.1M75.2 80.5h2.4M5.4 81.5h1.2M18.1 81.5h1.1M20.4 81.5h1.1M29.6 81.5h1.1M41.1 81.5h1.1M45.7 81.5h1.1M48 81.5h1.1M92 81.5h2.4"/><path stroke="#797979" d="M4.2 2.5h1.2M26.1 2.5h1.2M49.1 2.5h1.2M54.9 2.5h1.1M58.4 2.5h2.4M82.4 2.5h2.4M87.2 2.5h2.4M92 2.5h2.4M7.7 3.5h1.2M11.2 3.5h1.1M26.1 3.5h1.2M36.5 3.5h1.1M50.3 3.5h1.1M52.6 3.5h1.1M72.8 3.5h2.4M77.6 3.5h4.8M125.7 3.5h5M222.9 3.5h4.4M13.5 4.5h1.1M20.4 4.5h1.1M41.1 4.5h1.1M43.4 4.5h1.1M52.6 4.5h1.1M58.4 4.5h2.4M82.4 4.5h2.4M116 4.5h2.4M123.2 4.5h2.5M15.8 5.5h1.1M43.4 5.5h1.1M72.8 5.5h2.4M136 5.5h2.7M19.2 6.5h1.2M56 6.5h2.4M60.8 6.5h2.4M108.8 6.5h2.4M222.9 6.5h4.4M11.2 7.5h1.1M15.8 7.5h1.1M30.7 7.5h1.2M44.5 7.5h1.2M56 7.5h2.4M150.1 7.5h3M13.5 8.5h1.1M15.8 8.5h1.1M18.1 8.5h1.1M45.7 8.5h1.1M70.4 8.5h2.4M75.2 8.5h4.8M123.2 8.5h2.5M10 9.5h1.2M33 9.5h1.2M45.7 9.5h1.1M65.6 9.5h2.4M101.6 9.5h2.4M5.4 10.5h1.2M14.6 10.5h1.2M48 10.5h1.1M65.6 10.5h2.4M94.4 10.5h2.4M14.6 11.5h1.2M26.1 11.5h1.2M31.9 11.5h1.1M52.6 11.5h1.1M70.4 11.5h2.4M96.8 11.5h2.4M104 11.5h2.4M128.2 11.5h2.5M222.9 11.5h4.4M37.6 12.5h1.2M72.8 12.5h2.4M111.2 12.5h2.4M5.4 13.5h1.2M70.4 13.5h2.4M82.4 13.5h4.8M21.5 14.5h1.2M48 14.5h1.1M56 14.5h2.4M68 14.5h2.4M77.6 14.5h2.4M84.8 14.5h2.4M150.1 14.5h3M84.8 15.5h2.4M118.4 15.5h2.4M136 15.5h2.7M43.4 16.5h1.1M84.8 16.5h2.4M108.8 16.5h2.4M120.8 16.5h2.4M14.6 17.5h1.2M16.9 17.5h1.2M42.2 17.5h2.3M58.4 17.5h2.4M75.2 17.5h4.8M84.8 17.5h2.4M116 17.5h2.4M12.3 18.5h1.2M21.5 18.5h1.2M42.2 18.5h1.2M48 18.5h1.1M99.2 18.5h2.4M104 18.5h2.4M133.3 18.5h2.7M15.8 19.5h1.1M19.2 19.5h1.2M48 19.5h1.1M72.8 19.5h2.4M89.6 19.5h2.4M10 20.5h1.2M12.3 20.5h1.2M14.6 20.5h1.2M18.1 20.5h1.1M22.7 20.5h1.1M45.7 20.5h1.1M75.2 20.5h2.4M82.4 20.5h2.4M108.8 20.5h2.4M19.2 21.5h1.2M75.2 21.5h2.4M80 21.5h2.4M99.2 21.5h2.4M113.6 21.5h2.4M123.2 21.5h2.5M10 22.5h2.3M13.5 22.5h1.1M29.6 22.5h1.1M45.7 22.5h1.1M52.6 22.5h1.1M54.9 22.5h1.1M77.6 22.5h2.4M128.2 22.5h2.5M136 22.5h2.7M12.3 23.5h1.2M30.7 23.5h1.2M42.2 23.5h1.2M104 23.5h2.4M5.4 24.5h1.2M31.9 24.5h1.1M65.6 24.5h2.4M80 24.5h2.4M96.8 24.5h2.4M4.2 25.5h1.2M20.4 25.5h1.1M29.6 25.5h1.1M39.9 25.5h1.2M63.2 25.5h4.8M144.3 25.5h2.9M12.3 26.5h1.2M22.7 26.5h1.1M34.2 26.5h1.1M49.1 26.5h1.2M60.8 26.5h2.4M89.6 26.5h2.4M106.4 26.5h2.4M12.3 27.5h2.3M30.7 27.5h1.2M45.7 27.5h1.1M54.9 27.5h1.1M72.8 27.5h4.8M104 27.5h4.8M222.9 27.5h4.4M20.4 28.5h1.1M23.8 28.5h1.2M60.8 28.5h7.2M92 28.5h4.8M16.9 29.5h1.2M26.1 29.5h1.2M44.5 29.5h1.2M52.6 29.5h1.1M56 29.5h2.4M99.2 29.5h4.8M106.4 29.5h4.8M19.2 30.5h1.2M30.7 30.5h1.2M42.2 30.5h1.2M48 30.5h1.1M51.4 30.5h1.2M72.8 30.5h2.4M30.7 31.5h1.2M63.2 31.5h2.4M75.2 31.5h2.4M87.2 31.5h2.4M50.3 32.5h1.1M123.2 32.5h2.5M128.2 32.5h2.5M153.1 32.5h3.1M20.4 33.5h1.1M22.7 33.5h1.1M30.7 33.5h1.2M44.5 33.5h1.2M48 33.5h1.1M104 33.5h2.4M111.2 33.5h4.8M128.2 33.5h2.5M33 34.5h1.2M50.3 34.5h1.1M58.4 34.5h2.4M65.6 34.5h2.4M75.2 34.5h2.4M80 34.5h2.4M99.2 34.5h2.4M222.9 34.5h4.4M8.9 35.5h1.1M12.3 35.5h1.2M26.1 35.5h1.2M75.2 35.5h2.4M99.2 35.5h2.4M118.4 35.5h2.4M14.6 36.5h1.2M34.2 36.5h1.1M43.4 36.5h1.1M50.3 36.5h1.1M94.4 36.5h2.4M111.2 36.5h2.4M222.9 36.5h4.4M16.9 37.5h1.2M19.2 37.5h1.2M22.7 37.5h2.3M45.7 37.5h1.1M50.3 37.5h1.1M58.4 37.5h2.4M63.2 37.5h2.4M70.4 37.5h2.4M94.4 37.5h2.4M104 37.5h2.4M150.1 37.5h3M13.5 38.5h1.1M22.7 38.5h1.1M58.4 38.5h2.4M65.6 38.5h4.8M75.2 38.5h2.4M94.4 38.5h4.8M106.4 38.5h4.8M12.3 39.5h1.2M18.1 39.5h1.1M20.4 39.5h1.1M65.6 39.5h2.4M111.2 39.5h2.4M123.2 39.5h2.5M153.1 39.5h3.1M8.9 40.5h1.1M18.1 40.5h1.1M21.5 40.5h1.2M23.8 40.5h1.2M38.8 40.5h1.1M43.4 40.5h1.1M89.6 40.5h2.4M125.7 40.5h2.5M8.9 41.5h2.3M26.1 41.5h1.2M49.1 41.5h1.2M54.9 41.5h1.1M63.2 41.5h4.8M82.4 41.5h2.4M92 41.5h2.4M104 41.5h2.4M144.3 41.5h2.9M4.2 42.5h1.2M8.9 42.5h2.3M19.2 42.5h1.2M22.7 42.5h1.1M43.4 42.5h1.1M68 42.5h4.8M150.1 42.5h3M4.2 43.5h1.2M8.9 43.5h1.1M19.2 43.5h1.2M33 43.5h1.2M35.3 43.5h1.2M37.6 43.5h1.2M51.4 43.5h1.2M63.2 43.5h2.4M82.4 43.5h2.4M116 43.5h2.4M8.9 44.5h1.1M18.1 44.5h1.1M46.8 44.5h1.2M8.9 45.5h1.1M13.5 45.5h1.1M18.1 45.5h1.1M43.4 45.5h1.1M51.4 45.5h1.2M58.4 45.5h2.4M68 45.5h2.4M82.4 45.5h4.8M104 45.5h2.4M6.6 46.5h1.1M10 46.5h1.2M13.5 46.5h1.1M18.1 46.5h1.1M21.5 46.5h1.2M27.3 46.5h1.1M48 46.5h1.1M72.8 46.5h2.4M82.4 46.5h2.4M89.6 46.5h2.4M101.6 46.5h2.4M23.8 47.5h1.2M26.1 47.5h1.2M65.6 47.5h4.8M101.6 47.5h2.4M144.3 47.5h2.9M6.6 48.5h1.1M21.5 48.5h1.2M23.8 48.5h1.2M38.8 48.5h1.1M44.5 48.5h1.2M75.2 48.5h2.4M92 48.5h2.4M6.6 49.5h2.3M19.2 49.5h2.3M35.3 49.5h1.2M44.5 49.5h1.2M87.2 49.5h2.4M92 49.5h2.4M4.2 50.5h1.2M14.6 50.5h1.2M20.4 50.5h1.1M50.3 50.5h1.1M84.8 50.5h2.4M10 51.5h1.2M21.5 51.5h1.2M27.3 51.5h1.1M41.1 51.5h1.1M52.6 51.5h1.1M77.6 51.5h2.4M133.3 51.5h2.7M27.3 52.5h1.1M128.2 52.5h2.5M16.9 53.5h1.2M43.4 53.5h1.1M80 53.5h2.4M87.2 53.5h2.4M6.6 54.5h1.1M10 54.5h2.3M14.6 54.5h1.2M16.9 54.5h1.2M20.4 54.5h1.1M56 54.5h2.4M63.2 54.5h2.4M75.2 54.5h2.4M94.4 54.5h2.4M153.1 54.5h3.1M20.4 55.5h1.1M26.1 55.5h1.2M39.9 55.5h1.2M50.3 55.5h1.1M60.8 55.5h2.4M65.6 55.5h2.4M84.8 55.5h2.4M104 55.5h2.4M111.2 55.5h4.8M123.2 55.5h2.5M11.2 56.5h1.1M16.9 56.5h2.3M49.1 56.5h1.2M54.9 56.5h3.5M70.4 56.5h2.4M10 57.5h1.2M18.1 57.5h1.1M42.2 57.5h3.5M52.6 57.5h1.1M63.2 57.5h2.4M72.8 57.5h2.4M82.4 57.5h2.4M89.6 57.5h2.4M99.2 57.5h2.4M108.8 57.5h2.4M12.3 58.5h1.2M18.1 58.5h1.1M21.5 58.5h1.2M60.8 58.5h2.4M84.8 58.5h2.4M113.6 58.5h2.4M6.6 59.5h1.1M10 59.5h1.2M22.7 59.5h1.1M56 59.5h2.4M60.8 59.5h2.4M80 59.5h2.4M101.6 59.5h2.4M156.2 59.5h6.3M13.5 60.5h1.1M68 60.5h2.4M8.9 61.5h1.1M41.1 61.5h1.1M46.8 61.5h1.2M54.9 61.5h1.1M84.8 61.5h2.4M113.6 61.5h7.2M14.6 62.5h1.2M20.4 62.5h1.1M52.6 62.5h1.1M128.2 62.5h2.5M19.2 63.5h1.2M25 63.5h1.1M33 63.5h1.2M50.3 63.5h1.1M52.6 63.5h1.1M13.5 64.5h1.1M53.7 64.5h2.3M80 64.5h2.4M94.4 64.5h2.4M106.4 64.5h2.4M120.8 64.5h2.4M222.9 64.5h4.4M16.9 65.5h1.2M33 65.5h1.2M54.9 65.5h3.5M87.2 65.5h2.4M108.8 65.5h2.4M22.7 66.5h1.1M39.9 66.5h1.2M49.1 66.5h1.2M72.8 66.5h2.4M94.4 66.5h2.4M120.8 66.5h2.4M133.3 66.5h2.7M21.5 67.5h1.2M23.8 67.5h1.2M27.3 67.5h1.1M43.4 67.5h2.3M56 67.5h4.8M72.8 67.5h2.4M19.2 68.5h1.2M28.4 68.5h1.2M84.8 68.5h2.4M23.8 69.5h1.2M37.6 69.5h1.2M58.4 69.5h2.4M72.8 69.5h2.4M80 69.5h2.4M136 69.5h2.7M12.3 70.5h1.2M30.7 70.5h2.3M34.2 70.5h1.1M50.3 70.5h1.1M58.4 70.5h2.4M80 70.5h2.4M20.4 71.5h1.1M43.4 71.5h1.1M45.7 71.5h1.1M58.4 71.5h2.4M89.6 71.5h2.4M96.8 71.5h2.4M5.4 72.5h1.2M14.6 72.5h1.2M43.4 72.5h1.1M48 72.5h1.1M82.4 72.5h2.4M118.4 72.5h2.4M39.9 73.5h1.2M54.9 73.5h1.1M65.6 73.5h4.8M84.8 73.5h2.4M94.4 73.5h2.4M111.2 73.5h2.4M31.9 74.5h1.1M50.3 74.5h1.1M120.8 74.5h2.4M5.4 75.5h1.2M19.2 75.5h1.2M30.7 75.5h1.2M58.4 75.5h2.4M111.2 75.5h2.4M19.2 76.5h1.2M21.5 76.5h1.2M80 76.5h7.2M94.4 76.5h2.4M118.4 76.5h2.4M7.7 77.5h1.2M31.9 77.5h1.1M48 77.5h1.1M50.3 77.5h1.1M58.4 77.5h2.4M108.8 77.5h2.4M34.2 78.5h1.1M42.2 78.5h1.2M52.6 78.5h1.1M96.8 78.5h2.4M123.2 78.5h2.5M222.9 78.5h4.4M30.7 79.5h1.2M42.2 79.5h1.2M54.9 79.5h1.1M92 79.5h2.4M108.8 79.5h2.4M51.4 80.5h1.2M72.8 80.5h2.4M87.2 80.5h2.4M101.6 80.5h2.4M23.8 81.5h1.2M34.2 81.5h1.1M38.8 81.5h1.1M50.3 81.5h1.1M75.2 81.5h2.4M104 81.5h2.4"/><path stroke="#7d7d7d" d="M58.4 0.5h2.4M58.4 1.5h2.4M10 2.5h2.3M29.6 2.5h1.1M36.5 2.5h1.1M89.6 2.5h2.4M111.2 2.5h2.4M15.8 3.5h1.1M22.7 3.5h1.1M84.8 3.5h2.4M89.6 3.5h2.4M101.6 3.5h2.4M141.5 3.5h2.8M4.2 4.5h2.4M22.7 4.5h2.3M54.9 4.5h1.1M77.6 4.5h2.4M89.6 4.5h2.4M125.7 4.5h2.5M136 4.5h2.7M153.1 4.5h3.1M27.3 5.5h1.1M46.8 5.5h1.2M77.6 5.5h4.8M108.8 5.5h2.4M222.9 5.5h4.4M12.3 6.5h1.2M15.8 6.5h1.1M46.8 6.5h1.2M51.4 6.5h2.3M58.4 6.5h2.4M75.2 6.5h2.4M106.4 6.5h2.4M125.7 6.5h2.5M165.7 6.5h3.3M12.3 7.5h1.2M53.7 7.5h1.2M58.4 7.5h2.4M70.4 7.5h2.4M75.2 7.5h2.4M94.4 7.5h2.4M99.2 7.5h2.4M108.8 7.5h2.4M11.2 8.5h2.3M20.4 8.5h1.1M42.2 8.5h1.2M44.5 8.5h1.2M63.2 8.5h2.4M96.8 8.5h4.8M106.4 8.5h2.4M8.9 9.5h1.1M11.2 9.5h1.1M51.4 9.5h1.2M77.6 9.5h2.4M113.6 9.5h2.4M153.1 9.5h3.1M4.2 10.5h1.2M8.9 10.5h1.1M11.2 10.5h1.1M26.1 10.5h1.2M31.9 10.5h1.1M39.9 10.5h1.2M49.1 10.5h1.2M96.8 10.5h2.4M116 10.5h2.4M125.7 10.5h2.5M130.7 10.5h2.6M222.9 10.5h4.4M72.8 11.5h2.4M87.2 11.5h2.4M92 11.5h2.4M120.8 11.5h2.4M5.4 12.5h1.2M70.4 12.5h2.4M113.6 12.5h2.4M222.9 12.5h4.4M14.6 13.5h1.2M31.9 13.5h2.3M43.4 13.5h1.1M58.4 13.5h2.4M68 13.5h2.4M89.6 13.5h4.8M101.6 13.5h2.4M111.2 13.5h2.4M13.5 14.5h2.3M31.9 14.5h2.3M45.7 14.5h1.1M60.8 14.5h2.4M123.2 14.5h2.5M12.3 15.5h2.3M19.2 15.5h1.2M38.8 15.5h1.1M63.2 15.5h2.4M75.2 15.5h2.4M80 15.5h2.4M120.8 15.5h2.4M7.7 16.5h1.2M80 16.5h2.4M87.2 16.5h2.4M133.3 16.5h2.7M5.4 17.5h1.2M12.3 17.5h1.2M38.8 17.5h1.1M63.2 17.5h2.4M94.4 17.5h2.4M99.2 17.5h7.2M108.8 17.5h2.4M123.2 17.5h2.5M133.3 17.5h2.7M222.9 17.5h4.4M15.8 18.5h1.1M18.1 18.5h2.3M68 18.5h2.4M101.6 18.5h2.4M108.8 18.5h2.4M144.3 18.5h2.9M20.4 19.5h1.1M41.1 19.5h1.1M77.6 19.5h4.8M92 19.5h4.8M125.7 19.5h2.5M63.2 20.5h2.4M106.4 20.5h2.4M141.5 20.5h2.8M12.3 21.5h1.2M45.7 21.5h1.1M19.2 22.5h1.2M44.5 22.5h1.2M46.8 22.5h1.2M58.4 22.5h4.8M70.4 22.5h2.4M7.7 23.5h1.2M13.5 23.5h1.1M48 23.5h1.1M52.6 23.5h1.1M82.4 23.5h4.8M96.8 23.5h2.4M128.2 23.5h2.5M39.9 24.5h1.2M48 24.5h1.1M52.6 24.5h1.1M58.4 24.5h7.2M111.2 24.5h2.4M8.9 25.5h1.1M31.9 25.5h1.1M56 25.5h2.4M87.2 25.5h2.4M141.5 25.5h2.8M13.5 26.5h1.1M27.3 26.5h1.1M51.4 26.5h1.2M70.4 26.5h2.4M104 26.5h2.4M118.4 26.5h2.4M26.1 27.5h1.2M43.4 27.5h1.1M84.8 27.5h4.8M101.6 27.5h2.4M125.7 27.5h2.5M27.3 28.5h1.1M58.4 28.5h2.4M77.6 28.5h2.4M123.2 28.5h5M150.1 28.5h3M51.4 29.5h1.2M58.4 29.5h2.4M84.8 29.5h2.4M113.6 29.5h2.4M128.2 29.5h2.5M20.4 30.5h1.1M23.8 30.5h1.2M68 30.5h2.4M82.4 30.5h2.4M89.6 30.5h2.4M28.4 31.5h1.2M50.3 31.5h1.1M60.8 31.5h2.4M136 31.5h2.7M156.2 31.5h3.1M19.2 32.5h2.3M31.9 32.5h1.1M41.1 32.5h1.1M49.1 32.5h1.2M63.2 32.5h2.4M68 32.5h2.4M72.8 32.5h2.4M92 32.5h2.4M133.3 32.5h2.7M21.5 33.5h1.2M56 33.5h2.4M70.4 33.5h7.2M80 33.5h2.4M87.2 33.5h2.4M96.8 33.5h2.4M120.8 33.5h2.4M87.2 34.5h2.4M106.4 34.5h2.4M130.7 34.5h2.6M147.2 34.5h2.9M43.4 35.5h1.1M77.6 35.5h2.4M82.4 35.5h4.8M104 35.5h2.4M133.3 35.5h2.7M4.2 36.5h1.2M19.2 36.5h1.2M63.2 36.5h4.8M72.8 36.5h2.4M82.4 36.5h2.4M104 36.5h2.4M153.1 36.5h3.1M44.5 37.5h1.2M56 37.5h2.4M80 37.5h2.4M84.8 37.5h2.4M108.8 37.5h2.4M6.6 38.5h1.1M26.1 38.5h1.2M29.6 38.5h1.1M31.9 38.5h1.1M56 38.5h2.4M70.4 38.5h2.4M82.4 38.5h2.4M4.2 39.5h1.2M21.5 39.5h1.2M77.6 39.5h2.4M101.6 39.5h2.4M106.4 39.5h2.4M7.7 40.5h1.2M22.7 40.5h1.1M44.5 40.5h1.2M52.6 40.5h1.1M56 40.5h2.4M72.8 40.5h2.4M80 40.5h2.4M96.8 40.5h4.8M133.3 40.5h2.7M46.8 41.5h2.3M50.3 41.5h1.1M60.8 41.5h2.4M77.6 41.5h4.8M94.4 41.5h2.4M111.2 41.5h2.4M46.8 42.5h1.2M75.2 42.5h2.4M87.2 42.5h2.4M99.2 42.5h4.8M10 43.5h1.2M44.5 43.5h1.2M49.1 43.5h1.2M4.2 44.5h2.4M13.5 44.5h1.1M28.4 44.5h1.2M37.6 44.5h1.2M63.2 44.5h2.4M7.7 45.5h1.2M19.2 45.5h1.2M22.7 45.5h1.1M29.6 45.5h1.1M42.2 45.5h1.2M46.8 45.5h1.2M63.2 45.5h2.4M101.6 45.5h2.4M144.3 45.5h2.9M19.2 46.5h2.3M26.1 46.5h1.2M29.6 46.5h1.1M43.4 46.5h1.1M49.1 46.5h1.2M77.6 46.5h2.4M84.8 46.5h2.4M125.7 46.5h2.5M27.3 47.5h1.1M38.8 47.5h1.1M75.2 47.5h4.8M87.2 47.5h4.8M77.6 48.5h2.4M94.4 48.5h2.4M123.2 48.5h2.5M144.3 48.5h2.9M26.1 49.5h1.2M49.1 49.5h1.2M82.4 49.5h2.4M120.8 49.5h2.4M144.3 49.5h2.9M12.3 50.5h1.2M28.4 50.5h1.2M58.4 50.5h2.4M68 50.5h2.4M136 50.5h2.7M4.2 51.5h1.2M7.7 51.5h1.2M31.9 51.5h1.1M82.4 51.5h2.4M29.6 52.5h1.1M36.5 52.5h1.1M42.2 52.5h1.2M44.5 52.5h1.2M48 52.5h1.1M6.6 53.5h1.1M10 53.5h1.2M14.6 53.5h1.2M20.4 53.5h1.1M53.7 53.5h1.2M111.2 53.5h2.4M120.8 53.5h2.4M35.3 54.5h2.3M60.8 54.5h2.4M68 54.5h2.4M128.2 54.5h2.5M8.9 55.5h1.1M21.5 55.5h1.2M30.7 55.5h1.2M35.3 55.5h1.2M45.7 55.5h1.1M52.6 55.5h1.1M58.4 55.5h2.4M77.6 55.5h2.4M92 55.5h2.4M20.4 56.5h1.1M39.9 56.5h1.2M50.3 56.5h1.1M77.6 56.5h2.4M111.2 56.5h2.4M39.9 57.5h1.2M50.3 57.5h1.1M75.2 57.5h2.4M87.2 57.5h2.4M39.9 58.5h1.2M50.3 58.5h1.1M63.2 58.5h2.4M68 58.5h2.4M72.8 58.5h2.4M77.6 58.5h2.4M123.2 58.5h2.5M222.9 58.5h4.4M13.5 59.5h1.1M21.5 59.5h1.2M35.3 59.5h1.2M75.2 59.5h4.8M87.2 59.5h4.8M108.8 59.5h2.4M6.6 60.5h1.1M22.7 60.5h1.1M27.3 60.5h1.1M46.8 60.5h1.2M50.3 60.5h1.1M92 60.5h2.4M10 61.5h1.2M80 61.5h2.4M111.2 61.5h2.4M128.2 61.5h2.5M19.2 62.5h1.2M30.7 62.5h1.2M48 62.5h1.1M80 62.5h2.4M101.6 62.5h2.4M133.3 62.5h2.7M11.2 63.5h1.1M20.4 63.5h1.1M104 63.5h2.4M108.8 63.5h2.4M10 64.5h1.2M77.6 64.5h2.4M82.4 64.5h2.4M96.8 64.5h2.4M21.5 65.5h2.3M26.1 65.5h1.2M31.9 65.5h1.1M49.1 65.5h1.2M72.8 65.5h4.8M106.4 65.5h2.4M111.2 65.5h2.4M130.7 65.5h5.3M44.5 66.5h1.2M48 66.5h1.1M52.6 66.5h1.1M82.4 66.5h2.4M147.2 66.5h2.9M6.6 67.5h1.1M54.9 67.5h1.1M63.2 67.5h2.4M87.2 67.5h2.4M6.6 68.5h1.1M8.9 68.5h1.1M11.2 68.5h1.1M14.6 68.5h1.2M21.5 68.5h1.2M49.1 68.5h1.2M54.9 68.5h3.5M68 68.5h7.2M96.8 68.5h2.4M6.6 69.5h1.1M11.2 69.5h1.1M50.3 69.5h1.1M60.8 69.5h2.4M5.4 70.5h1.2M14.6 70.5h1.2M18.1 70.5h1.1M23.8 70.5h1.2M54.9 70.5h1.1M111.2 70.5h2.4M15.8 71.5h1.1M48 71.5h1.1M77.6 71.5h2.4M222.9 71.5h4.4M16.9 72.5h1.2M23.8 72.5h1.2M26.1 72.5h1.2M56 72.5h2.4M65.6 72.5h2.4M96.8 72.5h2.4M6.6 73.5h1.1M16.9 73.5h1.2M26.1 73.5h1.2M108.8 73.5h2.4M5.4 74.5h1.2M15.8 74.5h1.1M21.5 74.5h1.2M30.7 74.5h1.2M45.7 74.5h1.1M51.4 74.5h1.2M23.8 75.5h1.2M44.5 75.5h1.2M104 75.5h2.4M4.2 76.5h1.2M52.6 76.5h1.1M68 76.5h2.4M125.7 76.5h2.5M130.7 76.5h2.6M136 76.5h2.7M11.2 77.5h1.1M19.2 77.5h1.2M49.1 77.5h1.2M52.6 77.5h1.1M77.6 77.5h2.4M101.6 77.5h2.4M7.7 78.5h1.2M23.8 78.5h2.3M31.9 78.5h1.1M49.1 78.5h1.2M8.9 79.5h1.1M14.6 79.5h1.2M31.9 79.5h1.1M45.7 79.5h1.1M49.1 79.5h1.2M52.6 79.5h1.1M56 79.5h2.4M65.6 79.5h2.4M147.2 79.5h2.9M222.9 79.5h4.4M7.7 80.5h1.2M10 80.5h1.2M19.2 80.5h1.2M21.5 80.5h1.2M48 80.5h1.1M68 80.5h2.4M77.6 80.5h2.4M11.2 81.5h1.1M13.5 81.5h1.1M54.9 81.5h1.1M65.6 81.5h2.4M72.8 81.5h2.4"/><path stroke="#828282" d="M23.8 0.5h1.2M23.8 1.5h1.2M21.5 2.5h1.2M45.7 2.5h1.1M50.3 2.5h1.1M108.8 2.5h2.4M138.7 2.5h2.8M48 3.5h2.3M87.2 3.5h2.4M92 3.5h2.4M120.8 3.5h2.4M144.3 3.5h2.9M18.1 4.5h1.1M21.5 4.5h1.2M31.9 4.5h1.1M92 4.5h2.4M108.8 4.5h2.4M4.2 5.5h1.2M6.6 5.5h1.1M20.4 5.5h1.1M41.1 5.5h1.1M125.7 5.5h2.5M10 6.5h1.2M14.6 6.5h1.2M27.3 6.5h2.3M84.8 6.5h2.4M123.2 6.5h2.5M130.7 6.5h2.6M25 7.5h1.1M52.6 7.5h1.1M65.6 7.5h2.4M104 7.5h2.4M113.6 7.5h2.4M128.2 7.5h2.5M7.7 8.5h1.2M10 8.5h1.2M82.4 8.5h2.4M87.2 8.5h2.4M94.4 8.5h2.4M138.7 8.5h2.8M5.4 9.5h1.2M15.8 9.5h1.1M22.7 9.5h1.1M52.6 9.5h1.1M70.4 9.5h2.4M75.2 9.5h2.4M87.2 9.5h2.4M108.8 9.5h2.4M128.2 9.5h2.5M147.2 9.5h2.9M45.7 10.5h1.1M54.9 10.5h1.1M92 10.5h2.4M106.4 10.5h2.4M128.2 10.5h2.5M15.8 11.5h1.1M23.8 11.5h1.2M37.6 11.5h1.2M53.7 11.5h2.3M58.4 11.5h2.4M75.2 11.5h4.8M150.1 11.5h3M19.2 12.5h1.2M31.9 12.5h1.1M38.8 12.5h1.1M49.1 12.5h1.2M58.4 12.5h2.4M108.8 12.5h2.4M12.3 13.5h1.2M45.7 13.5h1.1M63.2 13.5h2.4M75.2 13.5h2.4M96.8 13.5h2.4M19.2 14.5h1.2M92 14.5h4.8M111.2 14.5h2.4M120.8 14.5h2.4M147.2 14.5h2.9M222.9 14.5h4.4M44.5 15.5h1.2M60.8 15.5h2.4M65.6 15.5h2.4M96.8 15.5h2.4M101.6 15.5h2.4M156.2 15.5h3.1M13.5 16.5h1.1M19.2 16.5h1.2M38.8 16.5h1.1M44.5 16.5h1.2M50.3 16.5h1.1M70.4 16.5h2.4M82.4 16.5h2.4M94.4 16.5h2.4M116 16.5h2.4M123.2 16.5h2.5M150.1 16.5h3M50.3 17.5h1.1M54.9 17.5h1.1M70.4 17.5h2.4M92 17.5h2.4M118.4 17.5h2.4M125.7 17.5h2.5M138.7 17.5h2.8M16.9 18.5h1.2M65.6 18.5h2.4M70.4 18.5h2.4M153.1 18.5h3.1M14.6 19.5h1.2M39.9 19.5h1.2M54.9 19.5h1.1M58.4 19.5h2.4M101.6 19.5h2.4M141.5 19.5h2.8M222.9 19.5h4.4M4.2 20.5h1.2M19.2 20.5h1.2M51.4 20.5h1.2M89.6 20.5h2.4M99.2 20.5h4.8M14.6 21.5h1.2M82.4 21.5h2.4M128.2 21.5h2.5M141.5 21.5h2.8M162.5 21.5h3.2M7.7 22.5h1.2M12.3 22.5h1.2M101.6 22.5h2.4M118.4 22.5h4.8M46.8 23.5h1.2M63.2 23.5h2.4M75.2 23.5h2.4M138.7 23.5h2.8M222.9 23.5h4.4M27.3 24.5h1.1M77.6 24.5h2.4M136 24.5h5.5M222.9 24.5h4.4M7.7 25.5h1.2M50.3 25.5h1.1M54.9 25.5h1.1M58.4 25.5h4.8M118.4 25.5h2.4M133.3 25.5h2.7M138.7 25.5h2.8M14.6 26.5h1.2M20.4 26.5h1.1M26.1 26.5h1.2M65.6 26.5h2.4M77.6 26.5h2.4M113.6 26.5h2.4M133.3 26.5h5.4M16.9 27.5h1.2M65.6 27.5h4.8M77.6 27.5h2.4M6.6 28.5h1.1M75.2 28.5h2.4M82.4 28.5h4.8M99.2 28.5h2.4M116 28.5h2.4M38.8 29.5h1.1M65.6 29.5h2.4M72.8 29.5h2.4M26.1 30.5h1.2M34.2 30.5h1.1M38.8 30.5h1.1M58.4 30.5h2.4M106.4 30.5h2.4M141.5 30.5h2.8M222.9 30.5h4.4M11.2 31.5h1.1M13.5 31.5h1.1M20.4 31.5h1.1M22.7 31.5h1.1M27.3 31.5h1.1M36.5 31.5h1.1M44.5 31.5h1.2M120.8 31.5h2.4M138.7 31.5h2.8M153.1 31.5h3.1M35.3 32.5h1.2M44.5 32.5h1.2M58.4 32.5h2.4M108.8 32.5h2.4M222.9 32.5h4.4M5.4 33.5h1.2M19.2 33.5h1.2M50.3 33.5h1.1M133.3 33.5h2.7M162.5 33.5h3.2M19.2 34.5h1.2M25 34.5h2.3M70.4 34.5h2.4M82.4 34.5h2.4M92 34.5h2.4M104 34.5h2.4M123.2 34.5h2.5M14.6 35.5h1.2M58.4 35.5h2.4M63.2 35.5h4.8M113.6 35.5h2.4M52.6 36.5h1.1M96.8 36.5h2.4M106.4 36.5h2.4M125.7 36.5h2.5M136 36.5h5.5M5.4 37.5h1.2M106.4 37.5h2.4M125.7 37.5h2.5M153.1 37.5h3.1M222.9 37.5h4.4M14.6 38.5h2.3M45.7 38.5h1.1M48 38.5h1.1M54.9 38.5h1.1M84.8 38.5h2.4M120.8 38.5h2.4M125.7 38.5h2.5M13.5 39.5h1.1M22.7 39.5h1.1M56 39.5h2.4M70.4 39.5h2.4M99.2 39.5h2.4M13.5 40.5h1.1M26.1 40.5h1.2M33 40.5h1.2M60.8 40.5h2.4M111.2 40.5h2.4M4.2 41.5h1.2M7.7 41.5h1.2M72.8 41.5h2.4M99.2 41.5h2.4M118.4 41.5h4.8M15.8 42.5h1.1M20.4 42.5h1.1M45.7 42.5h1.1M52.6 42.5h1.1M104 42.5h2.4M133.3 42.5h2.7M147.2 42.5h2.9M222.9 42.5h4.4M18.1 43.5h1.1M22.7 43.5h1.1M96.8 43.5h2.4M27.3 44.5h1.1M41.1 44.5h1.1M51.4 44.5h1.2M72.8 44.5h2.4M92 44.5h2.4M25 45.5h1.1M27.3 45.5h1.1M56 45.5h2.4M70.4 45.5h2.4M75.2 45.5h2.4M39.9 46.5h1.2M50.3 46.5h1.1M56 46.5h2.4M92 46.5h4.8M147.2 46.5h2.9M156.2 46.5h3.1M7.7 47.5h1.2M19.2 47.5h2.3M42.2 47.5h1.2M60.8 47.5h2.4M130.7 47.5h2.6M15.8 48.5h1.1M20.4 48.5h1.1M27.3 48.5h1.1M63.2 48.5h2.4M70.4 48.5h2.4M113.6 48.5h2.4M56 49.5h2.4M75.2 49.5h2.4M94.4 49.5h2.4M104 49.5h4.8M113.6 49.5h2.4M133.3 49.5h2.7M153.1 49.5h3.1M159.3 49.5h3.2M7.7 50.5h1.2M63.2 50.5h2.4M75.2 50.5h2.4M80 50.5h2.4M14.6 51.5h1.2M20.4 51.5h1.1M26.1 51.5h1.2M49.1 51.5h1.2M144.3 51.5h2.9M159.3 51.5h3.2M5.4 52.5h1.2M20.4 52.5h1.1M22.7 52.5h1.1M75.2 52.5h4.8M92 52.5h2.4M125.7 52.5h2.5M5.4 53.5h1.2M38.8 53.5h1.1M42.2 53.5h1.2M46.8 53.5h1.2M56 53.5h2.4M63.2 53.5h2.4M68 53.5h2.4M84.8 53.5h2.4M118.4 53.5h2.4M128.2 53.5h2.5M38.8 54.5h1.1M53.7 54.5h1.2M58.4 54.5h2.4M77.6 54.5h2.4M99.2 54.5h2.4M6.6 55.5h1.1M41.1 55.5h1.1M44.5 55.5h1.2M75.2 55.5h2.4M96.8 55.5h2.4M144.3 55.5h2.9M41.1 56.5h2.3M44.5 56.5h1.2M89.6 56.5h2.4M96.8 56.5h2.4M125.7 56.5h2.5M65.6 57.5h4.8M80 57.5h2.4M141.5 57.5h2.8M11.2 58.5h1.1M30.7 58.5h1.2M44.5 58.5h1.2M65.6 58.5h2.4M89.6 58.5h4.8M118.4 58.5h2.4M15.8 59.5h1.1M30.7 59.5h1.2M111.2 59.5h2.4M128.2 59.5h2.5M21.5 60.5h1.2M30.7 60.5h1.2M60.8 60.5h2.4M72.8 60.5h2.4M128.2 60.5h2.5M13.5 61.5h1.1M25 61.5h1.1M56 61.5h2.4M60.8 61.5h2.4M94.4 61.5h2.4M8.9 62.5h3.4M31.9 62.5h1.1M54.9 62.5h1.1M60.8 62.5h2.4M72.8 62.5h2.4M77.6 62.5h2.4M113.6 62.5h2.4M136 62.5h2.7M15.8 63.5h1.1M27.3 63.5h1.1M46.8 63.5h1.2M53.7 63.5h1.2M65.6 63.5h2.4M106.4 63.5h2.4M14.6 64.5h1.2M18.1 64.5h1.1M20.4 64.5h1.1M27.3 64.5h1.1M34.2 64.5h1.1M58.4 64.5h4.8M108.8 64.5h2.4M12.3 65.5h1.2M53.7 65.5h1.2M101.6 65.5h2.4M144.3 66.5h2.9M30.7 67.5h1.2M49.1 67.5h1.2M65.6 67.5h2.4M84.8 67.5h2.4M96.8 67.5h2.4M4.2 68.5h1.2M27.3 68.5h1.1M44.5 68.5h1.2M51.4 68.5h2.3M65.6 68.5h2.4M92 68.5h2.4M4.2 69.5h1.2M51.4 69.5h1.2M54.9 69.5h1.1M92 69.5h2.4M123.2 69.5h5M156.2 69.5h3.1M11.2 70.5h1.1M20.4 70.5h1.1M42.2 70.5h1.2M45.7 70.5h1.1M56 70.5h2.4M63.2 70.5h2.4M106.4 70.5h2.4M11.2 71.5h1.1M18.1 71.5h1.1M22.7 71.5h2.3M41.1 71.5h1.1M50.3 71.5h1.1M56 71.5h2.4M11.2 72.5h1.1M18.1 72.5h1.1M33 72.5h1.2M58.4 72.5h4.8M68 72.5h4.8M94.4 72.5h2.4M108.8 72.5h2.4M5.4 73.5h1.2M25 73.5h1.1M33 73.5h1.2M49.1 73.5h1.2M80 73.5h2.4M89.6 73.5h4.8M141.5 73.5h2.8M44.5 74.5h1.2M84.8 74.5h2.4M111.2 74.5h2.4M14.6 75.5h1.2M20.4 75.5h1.1M27.3 75.5h1.1M33 75.5h1.2M108.8 75.5h2.4M7.7 76.5h1.2M49.1 76.5h2.3M54.9 76.5h1.1M99.2 76.5h2.4M222.9 76.5h4.4M42.2 77.5h1.2M53.7 77.5h1.2M56 77.5h2.4M65.6 77.5h2.4M20.4 78.5h1.1M45.7 78.5h1.1M70.4 78.5h2.4M87.2 78.5h2.4M153.1 78.5h3.1M23.8 79.5h1.2M27.3 79.5h1.1M75.2 79.5h2.4M94.4 79.5h2.4M104 79.5h2.4M23.8 80.5h1.2M26.1 80.5h1.2M31.9 80.5h1.1M42.2 80.5h1.2M45.7 80.5h1.1M123.2 80.5h2.5M130.7 80.5h2.6M16.9 81.5h1.2M70.4 81.5h2.4M77.6 81.5h2.4M94.4 81.5h2.4M116 81.5h2.4"/><path stroke="#868686" d="M25 0.5h1.1M190.3 0.5h3.8M25 1.5h1.1M190.3 1.5h3.8M15.8 2.5h1.1M30.7 2.5h1.2M41.1 2.5h1.1M94.4 2.5h2.4M130.7 2.5h2.6M8.9 3.5h1.1M12.3 3.5h1.2M41.1 3.5h1.1M51.4 3.5h1.2M56 3.5h2.4M63.2 3.5h2.4M68 3.5h4.8M94.4 3.5h2.4M99.2 3.5h2.4M123.2 3.5h2.5M7.7 4.5h1.2M101.6 4.5h2.4M120.8 4.5h2.4M128.2 4.5h7.8M21.5 5.5h1.2M54.9 5.5h1.1M60.8 5.5h2.4M106.4 5.5h2.4M120.8 5.5h2.4M133.3 5.5h2.7M138.7 5.5h2.8M150.1 5.5h3M13.5 6.5h1.1M25 6.5h1.1M92 6.5h2.4M104 6.5h2.4M111.2 6.5h2.4M22.7 7.5h1.1M27.3 7.5h1.1M41.1 7.5h1.1M49.1 7.5h2.3M68 7.5h2.4M106.4 7.5h2.4M27.3 8.5h1.1M34.2 8.5h1.1M65.6 8.5h2.4M113.6 8.5h2.4M118.4 8.5h4.8M133.3 8.5h2.7M6.6 9.5h1.1M14.6 9.5h1.2M21.5 9.5h1.2M72.8 9.5h2.4M94.4 9.5h2.4M99.2 9.5h2.4M106.4 9.5h2.4M130.7 9.5h2.6M136 9.5h2.7M222.9 9.5h4.4M7.7 10.5h1.2M15.8 10.5h1.1M23.8 10.5h1.2M123.2 10.5h2.5M138.7 10.5h2.8M147.2 10.5h2.9M156.2 10.5h3.1M4.2 11.5h1.2M27.3 11.5h1.1M49.1 11.5h1.2M56 11.5h2.4M99.2 11.5h2.4M106.4 11.5h2.4M147.2 11.5h2.9M153.1 11.5h3.1M7.7 12.5h1.2M10 12.5h1.2M14.6 12.5h1.2M27.3 12.5h1.1M44.5 12.5h2.3M51.4 12.5h1.2M104 12.5h4.8M18.1 13.5h2.3M44.5 13.5h1.2M48 13.5h1.1M50.3 13.5h1.1M54.9 13.5h1.1M128.2 13.5h2.5M222.9 13.5h4.4M22.7 14.5h1.1M44.5 14.5h1.2M89.6 14.5h2.4M99.2 14.5h2.4M113.6 14.5h2.4M128.2 14.5h2.5M14.6 15.5h1.2M43.4 15.5h1.1M70.4 15.5h2.4M111.2 15.5h2.4M123.2 15.5h7.5M30.7 16.5h1.2M46.8 16.5h1.2M96.8 16.5h4.8M104 16.5h2.4M111.2 16.5h2.4M128.2 16.5h2.5M147.2 16.5h2.9M222.9 16.5h4.4M19.2 17.5h1.2M30.7 17.5h1.2M44.5 17.5h1.2M136 17.5h2.7M4.2 18.5h1.2M10 18.5h1.2M13.5 18.5h1.1M30.7 18.5h2.3M41.1 18.5h1.1M63.2 18.5h2.4M72.8 18.5h2.4M77.6 18.5h2.4M130.7 18.5h2.6M222.9 18.5h4.4M27.3 19.5h1.1M70.4 19.5h2.4M84.8 19.5h2.4M111.2 19.5h2.4M15.8 20.5h1.1M113.6 20.5h2.4M133.3 20.5h2.7M4.2 21.5h1.2M27.3 21.5h1.1M44.5 21.5h1.2M118.4 21.5h2.4M144.3 21.5h2.9M14.6 22.5h1.2M65.6 22.5h4.8M89.6 22.5h2.4M138.7 22.5h2.8M19.2 23.5h1.2M58.4 23.5h2.4M80 23.5h2.4M108.8 23.5h2.4M133.3 23.5h2.7M156.2 23.5h3.1M6.6 24.5h1.1M18.1 24.5h1.1M46.8 24.5h1.2M53.7 24.5h1.2M75.2 24.5h2.4M87.2 24.5h2.4M99.2 24.5h2.4M108.8 24.5h2.4M133.3 24.5h2.7M27.3 25.5h1.1M45.7 25.5h1.1M52.6 25.5h1.1M92 25.5h2.4M130.7 25.5h2.6M7.7 26.5h1.2M25 26.5h1.1M72.8 26.5h2.4M14.6 27.5h2.3M18.1 27.5h1.1M20.4 27.5h1.1M44.5 27.5h1.2M50.3 27.5h1.1M94.4 27.5h2.4M123.2 27.5h2.5M50.3 28.5h1.1M52.6 28.5h1.1M70.4 28.5h2.4M96.8 28.5h2.4M147.2 28.5h2.9M5.4 29.5h2.3M14.6 29.5h1.2M23.8 29.5h1.2M45.7 29.5h1.1M48 29.5h3.4M54.9 29.5h1.1M104 29.5h2.4M116 29.5h2.4M150.1 29.5h3M6.6 30.5h1.1M14.6 30.5h1.2M22.7 30.5h1.1M43.4 30.5h2.3M54.9 30.5h1.1M63.2 30.5h2.4M92 30.5h4.8M99.2 30.5h2.4M147.2 30.5h2.9M26.1 31.5h1.2M42.2 31.5h2.3M48 31.5h1.1M51.4 31.5h1.2M150.1 31.5h3M22.7 32.5h1.1M42.2 32.5h1.2M54.9 32.5h1.1M80 32.5h2.4M101.6 32.5h2.4M11.2 33.5h2.3M15.8 33.5h1.1M26.1 33.5h1.2M60.8 33.5h2.4M65.6 33.5h2.4M116 33.5h2.4M130.7 33.5h2.6M153.1 33.5h3.1M12.3 34.5h1.2M159.3 34.5h3.2M25 35.5h1.1M33 35.5h1.2M42.2 35.5h1.2M44.5 35.5h1.2M96.8 35.5h2.4M101.6 35.5h2.4M130.7 35.5h2.6M21.5 36.5h1.2M68 36.5h2.4M118.4 36.5h4.8M6.6 37.5h1.1M49.1 37.5h1.2M111.2 37.5h2.4M130.7 37.5h8M133.3 38.5h2.7M194.1 38.5h3.8M8.9 39.5h1.1M19.2 39.5h1.2M26.1 39.5h1.2M46.8 39.5h1.2M80 39.5h2.4M92 39.5h2.4M136 39.5h2.7M5.4 40.5h1.2M48 40.5h1.1M65.6 40.5h4.8M147.2 40.5h2.9M18.1 41.5h1.1M43.4 41.5h1.1M70.4 41.5h2.4M25 42.5h2.3M31.9 42.5h1.1M42.2 42.5h1.2M72.8 42.5h2.4M92 42.5h2.4M108.8 42.5h2.4M130.7 42.5h2.6M5.4 43.5h1.2M42.2 43.5h1.2M46.8 43.5h1.2M52.6 43.5h1.1M56 43.5h2.4M77.6 43.5h2.4M89.6 43.5h2.4M94.4 43.5h2.4M22.7 44.5h1.1M31.9 44.5h1.1M111.2 44.5h2.4M125.7 44.5h2.5M49.1 45.5h1.2M60.8 45.5h2.4M89.6 45.5h2.4M96.8 45.5h2.4M116 45.5h2.4M159.3 45.5h3.2M8.9 46.5h1.1M25 46.5h1.1M80 46.5h2.4M128.2 46.5h2.5M10 47.5h1.2M53.7 47.5h1.2M125.7 47.5h2.5M133.3 47.5h2.7M10 48.5h1.2M31.9 48.5h1.1M54.9 48.5h1.1M111.2 48.5h2.4M125.7 48.5h2.5M130.7 48.5h2.6M4.2 49.5h1.2M48 49.5h1.1M72.8 49.5h2.4M80 49.5h2.4M89.6 49.5h2.4M118.4 49.5h2.4M123.2 49.5h2.5M150.1 49.5h3M46.8 50.5h1.2M99.2 50.5h2.4M106.4 50.5h2.4M111.2 50.5h2.4M116 50.5h2.4M48 51.5h1.1M94.4 51.5h2.4M106.4 51.5h2.4M111.2 51.5h2.4M222.9 51.5h4.4M7.7 52.5h1.2M10 52.5h1.2M12.3 52.5h1.2M31.9 52.5h1.1M87.2 52.5h2.4M101.6 52.5h2.4M118.4 52.5h2.4M133.3 52.5h2.7M29.6 53.5h1.1M60.8 53.5h2.4M77.6 53.5h2.4M113.6 53.5h2.4M141.5 53.5h2.8M13.5 54.5h1.1M45.7 54.5h1.1M50.3 54.5h1.1M70.4 54.5h4.8M87.2 54.5h4.8M111.2 54.5h2.4M18.1 55.5h1.1M53.7 55.5h1.2M56 55.5h2.4M70.4 55.5h2.4M153.1 55.5h3.1M22.7 56.5h1.1M45.7 56.5h1.1M63.2 56.5h2.4M99.2 56.5h2.4M136 56.5h2.7M11.2 57.5h1.1M26.1 57.5h1.2M49.1 57.5h1.2M138.7 57.5h2.8M222.9 57.5h4.4M125.7 58.5h5M65.6 59.5h2.4M92 59.5h2.4M10 60.5h1.2M56 60.5h2.4M94.4 60.5h4.8M123.2 60.5h2.5M22.7 61.5h1.1M70.4 61.5h2.4M77.6 61.5h2.4M120.8 61.5h2.4M13.5 62.5h1.1M15.8 62.5h1.1M116 62.5h2.4M159.3 62.5h3.2M54.9 63.5h1.1M63.2 63.5h2.4M87.2 63.5h2.4M120.8 63.5h2.4M147.2 63.5h2.9M19.2 64.5h1.2M30.7 64.5h1.2M33 64.5h1.2M50.3 64.5h1.1M52.6 64.5h1.1M123.2 64.5h2.5M50.3 65.5h1.1M68 65.5h2.4M84.8 65.5h2.4M89.6 65.5h2.4M104 65.5h2.4M116 65.5h2.4M13.5 66.5h1.1M23.8 66.5h1.2M53.7 66.5h1.2M60.8 66.5h2.4M14.6 67.5h1.2M38.8 67.5h1.1M52.6 67.5h1.1M99.2 67.5h2.4M108.8 67.5h2.4M116 67.5h2.4M82.4 68.5h2.4M116 68.5h2.4M8.9 69.5h1.1M45.7 69.5h1.1M49.1 69.5h1.2M84.8 69.5h2.4M130.7 69.5h2.6M6.6 70.5h1.1M8.9 70.5h1.1M92 70.5h2.4M104 70.5h2.4M156.2 70.5h3.1M222.9 70.5h4.4M13.5 71.5h1.1M63.2 71.5h2.4M72.8 71.5h2.4M94.4 71.5h2.4M101.6 71.5h2.4M108.8 71.5h2.4M150.1 71.5h3M51.4 72.5h1.2M18.1 73.5h1.1M21.5 73.5h1.2M58.4 73.5h2.4M87.2 73.5h2.4M10 74.5h1.2M33 74.5h1.2M75.2 74.5h2.4M82.4 74.5h2.4M144.3 74.5h5.8M22.7 75.5h1.1M65.6 75.5h4.8M89.6 75.5h2.4M96.8 75.5h2.4M30.7 76.5h1.2M72.8 76.5h2.4M89.6 76.5h2.4M120.8 76.5h2.4M128.2 76.5h2.5M10 77.5h1.2M18.1 77.5h1.1M30.7 77.5h1.2M72.8 77.5h2.4M84.8 77.5h2.4M106.4 77.5h2.4M222.9 77.5h4.4M13.5 78.5h1.1M22.7 78.5h1.1M60.8 78.5h2.4M99.2 78.5h2.4M138.7 78.5h2.8M13.5 79.5h1.1M99.2 79.5h2.4M8.9 80.5h1.1M13.5 80.5h1.1M18.1 80.5h1.1M49.1 80.5h2.3M92 80.5h2.4M116 80.5h2.4M120.8 80.5h2.4M43.4 81.5h1.1M51.4 81.5h1.2M106.4 81.5h2.4M125.7 81.5h5"/><path stroke="#8b8b8b" d="M72.8 0.5h2.4M116 0.5h2.4M172.4 0.5h3.4M222.9 0.5h4.4M72.8 1.5h2.4M116 1.5h2.4M172.4 1.5h3.4M222.9 1.5h4.4M6.6 2.5h1.1M27.3 2.5h1.1M48 2.5h1.1M96.8 2.5h4.8M106.4 2.5h2.4M5.4 3.5h1.2M13.5 3.5h1.1M45.7 3.5h1.1M60.8 3.5h2.4M106.4 3.5h2.4M133.3 3.5h2.7M30.7 4.5h1.2M50.3 4.5h1.1M63.2 4.5h4.8M70.4 4.5h2.4M144.3 4.5h5.8M5.4 5.5h1.2M30.7 5.5h1.2M45.7 5.5h1.1M51.4 5.5h1.2M63.2 5.5h4.8M111.2 5.5h2.4M153.1 5.5h3.1M30.7 6.5h1.2M43.4 6.5h1.1M49.1 6.5h1.2M63.2 6.5h2.4M101.6 6.5h2.4M153.1 6.5h3.1M14.6 7.5h1.2M72.8 7.5h2.4M8.9 8.5h1.1M22.7 8.5h1.1M52.6 8.5h1.1M108.8 8.5h2.4M4.2 9.5h1.2M27.3 9.5h1.1M54.9 9.5h1.1M116 9.5h4.8M27.3 10.5h1.1M70.4 10.5h2.4M87.2 10.5h2.4M99.2 10.5h2.4M113.6 10.5h2.4M136 10.5h2.7M150.1 10.5h3M5.4 11.5h1.2M45.7 11.5h1.1M108.8 11.5h2.4M113.6 11.5h2.4M156.2 11.5h3.1M21.5 12.5h1.2M52.6 12.5h1.1M63.2 12.5h2.4M82.4 12.5h2.4M106.4 13.5h2.4M4.2 14.5h1.2M10 14.5h1.2M39.9 14.5h1.2M51.4 14.5h1.2M50.3 15.5h1.1M10 16.5h1.2M72.8 16.5h2.4M92 16.5h2.4M125.7 16.5h2.5M13.5 17.5h1.1M130.7 17.5h2.6M7.7 18.5h1.2M14.6 18.5h1.2M50.3 18.5h1.1M94.4 18.5h2.4M128.2 18.5h2.5M136 18.5h2.7M150.1 18.5h3M50.3 19.5h1.1M104 19.5h2.4M130.7 19.5h2.6M153.1 19.5h3.1M60.8 20.5h2.4M72.8 20.5h2.4M94.4 20.5h4.8M130.7 20.5h2.6M138.7 20.5h2.8M156.2 20.5h3.1M10 21.5h1.2M70.4 21.5h4.8M133.3 21.5h2.7M138.7 21.5h2.8M4.2 22.5h1.2M27.3 22.5h1.1M116 22.5h2.4M141.5 22.5h2.8M5.4 23.5h2.3M22.7 23.5h1.1M94.4 23.5h2.4M7.7 24.5h2.3M19.2 24.5h1.2M26.1 24.5h1.2M125.7 24.5h2.5M150.1 24.5h3M18.1 25.5h1.1M51.4 25.5h1.2M53.7 25.5h1.2M156.2 25.5h3.1M41.1 26.5h1.1M80 26.5h4.8M92 26.5h2.4M125.7 26.5h2.5M6.6 27.5h1.1M8.9 27.5h1.1M51.4 27.5h2.3M111.2 27.5h2.4M14.6 28.5h1.2M16.9 28.5h1.2M45.7 28.5h1.1M49.1 28.5h1.2M56 28.5h2.4M87.2 28.5h2.4M106.4 28.5h2.4M125.7 29.5h2.5M138.7 29.5h2.8M15.8 30.5h1.1M49.1 30.5h1.2M116 30.5h2.4M120.8 30.5h2.4M156.2 30.5h3.1M49.1 31.5h1.2M106.4 31.5h4.8M123.2 31.5h2.5M5.4 32.5h1.2M8.9 32.5h1.1M56 32.5h2.4M77.6 32.5h2.4M4.2 33.5h1.2M6.6 33.5h1.1M42.2 33.5h1.2M101.6 33.5h2.4M11.2 34.5h1.1M14.6 34.5h1.2M18.1 34.5h1.1M30.7 34.5h1.2M96.8 34.5h2.4M101.6 34.5h2.4M116 34.5h2.4M128.2 34.5h2.5M10 35.5h1.2M18.1 35.5h2.3M106.4 35.5h2.4M23.8 36.5h1.2M26.1 36.5h1.2M44.5 36.5h1.2M128.2 36.5h2.5M54.9 37.5h1.1M116 37.5h2.4M19.2 38.5h1.2M101.6 38.5h2.4M123.2 38.5h2.5M141.5 38.5h2.8M6.6 39.5h1.1M31.9 39.5h1.1M52.6 39.5h1.1M82.4 39.5h4.8M31.9 40.5h1.1M46.8 40.5h1.2M77.6 40.5h2.4M141.5 40.5h5.7M51.4 41.5h1.2M101.6 41.5h2.4M159.3 41.5h3.2M197.9 41.5h4M218.5 41.5h4.4M58.4 42.5h2.4M65.6 42.5h2.4M94.4 42.5h2.4M138.7 42.5h2.8M70.4 43.5h2.4M99.2 43.5h2.4M120.8 43.5h2.4M7.7 44.5h1.2M96.8 44.5h2.4M101.6 44.5h2.4M136 44.5h2.7M144.3 44.5h2.9M150.1 44.5h3M172.4 44.5h3.4M45.7 45.5h1.1M99.2 45.5h2.4M128.2 45.5h2.5M156.2 45.5h3.1M51.4 46.5h1.2M58.4 46.5h2.4M96.8 46.5h2.4M123.2 46.5h2.5M15.8 47.5h1.1M52.6 47.5h1.1M63.2 47.5h2.4M82.4 47.5h4.8M104 47.5h2.4M19.2 48.5h1.2M34.2 48.5h1.1M48 48.5h1.1M53.7 48.5h1.2M84.8 48.5h2.4M5.4 49.5h1.2M10 49.5h1.2M15.8 49.5h1.1M108.8 49.5h2.4M136 49.5h2.7M21.5 50.5h1.2M44.5 50.5h2.3M51.4 50.5h1.2M56 50.5h2.4M92 50.5h2.4M96.8 50.5h2.4M104 50.5h2.4M118.4 50.5h2.4M147.2 50.5h2.9M50.3 51.5h1.1M108.8 51.5h2.4M125.7 51.5h5M136 51.5h2.7M26.1 52.5h1.2M54.9 52.5h1.1M72.8 52.5h2.4M94.4 52.5h2.4M104 52.5h2.4M18.1 53.5h1.1M22.7 53.5h1.1M54.9 53.5h1.1M18.1 54.5h1.1M80 54.5h7.2M120.8 54.5h7.4M133.3 54.5h2.7M186.6 54.5h3.7M54.9 55.5h1.1M94.4 55.5h2.4M128.2 55.5h2.5M5.4 56.5h1.2M8.9 56.5h1.1M53.7 56.5h1.2M58.4 56.5h2.4M101.6 56.5h2.4M116 56.5h2.4M30.7 57.5h1.2M94.4 57.5h2.4M111.2 57.5h4.8M120.8 57.5h2.4M125.7 57.5h2.5M6.6 58.5h1.1M22.7 58.5h1.1M87.2 58.5h2.4M108.8 58.5h2.4M130.7 58.5h2.6M194.1 58.5h3.8M96.8 59.5h2.4M15.8 60.5h1.1M63.2 60.5h2.4M118.4 60.5h2.4M138.7 60.5h2.8M169 60.5h3.4M26.1 61.5h1.2M49.1 61.5h1.2M87.2 61.5h2.4M51.4 62.5h1.2M56 62.5h2.4M94.4 62.5h2.4M179.3 62.5h3.6M8.9 63.5h1.1M21.5 63.5h1.2M42.2 63.5h1.2M80 63.5h2.4M99.2 63.5h2.4M26.1 64.5h1.2M42.2 64.5h1.2M46.8 64.5h1.2M89.6 64.5h2.4M104 64.5h2.4M116 64.5h2.4M130.7 64.5h2.6M201.9 64.5h4M6.6 65.5h1.1M19.2 65.5h1.2M30.7 65.5h1.2M48 65.5h1.1M63.2 65.5h2.4M125.7 65.5h2.5M4.2 66.5h1.2M7.7 66.5h1.2M12.3 66.5h1.2M21.5 66.5h1.2M45.7 66.5h1.1M54.9 66.5h1.1M104 66.5h2.4M130.7 66.5h2.6M4.2 67.5h1.2M11.2 67.5h1.1M22.7 67.5h1.1M89.6 67.5h2.4M94.4 67.5h2.4M106.4 67.5h2.4M123.2 67.5h2.5M128.2 67.5h2.5M30.7 68.5h1.2M34.2 68.5h1.1M37.6 68.5h2.3M50.3 68.5h1.1M58.4 68.5h2.4M77.6 68.5h2.4M87.2 68.5h2.4M99.2 68.5h2.4M104 68.5h2.4M5.4 69.5h1.2M44.5 69.5h1.2M70.4 69.5h2.4M87.2 69.5h2.4M101.6 69.5h2.4M118.4 69.5h2.4M138.7 69.5h2.8M51.4 70.5h1.2M82.4 70.5h2.4M14.6 71.5h1.2M21.5 71.5h1.2M30.7 71.5h1.2M60.8 71.5h2.4M68 71.5h2.4M80 71.5h2.4M4.2 72.5h1.2M13.5 72.5h1.1M21.5 72.5h1.2M42.2 72.5h1.2M92 72.5h2.4M106.4 72.5h2.4M136 72.5h2.7M4.2 73.5h1.2M8.9 73.5h1.1M11.2 73.5h1.1M82.4 73.5h2.4M136 73.5h2.7M13.5 74.5h1.1M87.2 74.5h2.4M116 74.5h2.4M11.2 75.5h1.1M49.1 75.5h1.2M54.9 75.5h3.5M63.2 75.5h2.4M94.4 75.5h2.4M128.2 75.5h2.5M138.7 75.5h2.8M11.2 76.5h1.1M25 76.5h1.1M44.5 76.5h1.2M104 76.5h2.4M14.6 77.5h1.2M44.5 77.5h1.2M68 77.5h2.4M80 77.5h2.4M18.1 78.5h2.3M27.3 78.5h1.1M38.8 78.5h1.1M48 78.5h1.1M58.4 78.5h2.4M72.8 78.5h2.4M7.7 79.5h1.2M19.2 79.5h1.2M26.1 79.5h1.2M44.5 79.5h1.2M77.6 79.5h4.8M96.8 79.5h2.4M120.8 79.5h2.4M5.4 80.5h1.2M53.7 80.5h1.2M94.4 80.5h2.4M106.4 80.5h2.4M113.6 81.5h2.4"/><path stroke="#909090" d="M20.4 0.5h1.1M104 0.5h2.4M147.2 0.5h2.9M182.9 0.5h3.7M20.4 1.5h1.1M104 1.5h2.4M147.2 1.5h2.9M182.9 1.5h3.7M8.9 2.5h1.1M22.7 2.5h1.1M120.8 2.5h2.4M128.2 2.5h2.5M153.1 2.5h3.1M159.3 2.5h3.2M23.8 3.5h1.2M53.7 3.5h1.2M8.9 4.5h1.1M27.3 4.5h1.1M49.1 4.5h1.2M87.2 4.5h2.4M94.4 4.5h2.4M156.2 4.5h3.1M182.9 4.5h3.7M7.7 5.5h1.2M130.7 5.5h2.6M29.6 6.5h1.1M41.1 6.5h1.1M44.5 6.5h1.2M80 6.5h2.4M113.6 6.5h2.4M147.2 6.5h2.9M162.5 6.5h3.2M101.6 7.5h2.4M50.3 8.5h1.1M84.8 8.5h2.4M116 8.5h2.4M133.3 9.5h2.7M6.6 10.5h1.1M21.5 10.5h1.2M68 10.5h2.4M111.2 10.5h2.4M19.2 11.5h1.2M44.5 11.5h1.2M60.8 11.5h2.4M80 11.5h2.4M111.2 11.5h2.4M133.3 11.5h5.4M144.3 11.5h2.9M54.9 12.5h3.5M65.6 12.5h2.4M101.6 12.5h2.4M123.2 12.5h2.5M130.7 12.5h2.6M141.5 12.5h2.8M6.6 13.5h1.1M49.1 13.5h1.2M113.6 13.5h2.4M120.8 13.5h2.4M125.7 13.5h2.5M6.6 14.5h1.1M50.3 14.5h1.1M116 14.5h4.8M7.7 15.5h1.2M31.9 15.5h1.1M51.4 15.5h1.2M113.6 15.5h2.4M162.5 15.5h3.2M26.1 16.5h1.2M56 16.5h2.4M4.2 17.5h1.2M21.5 17.5h1.2M60.8 17.5h2.4M96.8 17.5h2.4M128.2 17.5h2.5M54.9 18.5h1.1M75.2 18.5h2.4M125.7 18.5h2.5M197.9 18.5h4M4.2 19.5h1.2M13.5 19.5h1.1M18.1 19.5h1.1M51.4 19.5h1.2M63.2 19.5h2.4M108.8 19.5h2.4M77.6 20.5h2.4M116 20.5h2.4M120.8 20.5h2.4M162.5 20.5h3.2M5.4 21.5h1.2M13.5 21.5h1.1M101.6 21.5h2.4M120.8 21.5h2.4M15.8 22.5h1.1M82.4 22.5h2.4M96.8 22.5h4.8M123.2 22.5h2.5M27.3 23.5h1.1M53.7 23.5h2.3M120.8 23.5h2.4M153.1 23.5h3.1M159.3 23.5h3.2M30.7 24.5h1.2M92 24.5h2.4M118.4 24.5h2.4M156.2 24.5h3.1M6.6 25.5h1.1M14.6 25.5h1.2M22.7 25.5h1.1M26.1 25.5h1.2M70.4 25.5h2.4M80 25.5h4.8M99.2 25.5h2.4M123.2 25.5h2.5M68 26.5h2.4M75.2 26.5h2.4M144.3 26.5h2.9M10 27.5h1.2M56 27.5h2.4M89.6 27.5h2.4M96.8 27.5h4.8M118.4 27.5h2.4M130.7 27.5h5.3M138.7 27.5h2.8M150.1 27.5h3M80 28.5h2.4M104 28.5h2.4M7.7 29.5h2.3M13.5 29.5h1.1M43.4 29.5h1.1M96.8 29.5h2.4M133.3 29.5h2.7M5.4 30.5h1.2M18.1 30.5h1.1M45.7 30.5h1.1M65.6 30.5h2.4M153.1 30.5h3.1M162.5 30.5h3.2M5.4 31.5h1.2M15.8 31.5h1.1M80 31.5h2.4M92 31.5h2.4M101.6 31.5h2.4M159.3 31.5h3.2M11.2 32.5h1.1M26.1 32.5h1.2M87.2 32.5h2.4M99.2 32.5h2.4M138.7 32.5h2.8M49.1 33.5h1.2M82.4 33.5h2.4M99.2 33.5h2.4M94.4 34.5h2.4M49.1 35.5h1.2M53.7 35.5h1.2M94.4 35.5h2.4M108.8 35.5h2.4M125.7 35.5h2.5M141.5 35.5h2.8M222.9 35.5h4.4M11.2 36.5h1.1M45.7 36.5h2.3M49.1 36.5h1.2M51.4 36.5h1.2M87.2 36.5h2.4M82.4 37.5h2.4M92 37.5h2.4M8.9 38.5h1.1M18.1 38.5h1.1M46.8 38.5h1.2M52.6 38.5h1.1M99.2 38.5h2.4M118.4 38.5h2.4M48 39.5h1.1M50.3 39.5h1.1M54.9 39.5h1.1M12.3 40.5h1.2M53.7 40.5h1.2M70.4 40.5h2.4M82.4 40.5h2.4M106.4 40.5h2.4M153.1 40.5h3.1M14.6 41.5h1.2M30.7 41.5h1.2M34.2 41.5h1.1M68 41.5h2.4M133.3 41.5h2.7M147.2 41.5h5.9M82.4 42.5h2.4M25 43.5h1.1M106.4 43.5h2.4M141.5 43.5h2.8M106.4 44.5h2.4M21.5 45.5h1.2M65.6 45.5h2.4M92 45.5h2.4M111.2 45.5h2.4M125.7 45.5h2.5M147.2 45.5h2.9M7.7 46.5h1.2M22.7 46.5h1.1M42.2 46.5h1.2M63.2 46.5h4.8M70.4 46.5h2.4M99.2 46.5h2.4M120.8 46.5h2.4M144.3 46.5h2.9M5.4 47.5h1.2M48 47.5h1.1M94.4 47.5h2.4M138.7 47.5h2.8M150.1 47.5h3M52.6 48.5h1.1M58.4 49.5h4.8M68 49.5h2.4M101.6 49.5h2.4M156.2 49.5h3.1M10 50.5h1.2M15.8 50.5h1.1M31.9 50.5h1.1M48 50.5h1.1M60.8 50.5h2.4M108.8 50.5h2.4M150.1 50.5h3M12.3 51.5h1.2M44.5 51.5h1.2M65.6 51.5h2.4M101.6 51.5h4.8M138.7 51.5h2.8M153.1 51.5h3.1M4.2 52.5h1.2M14.6 52.5h1.2M19.2 52.5h1.2M51.4 52.5h1.2M56 52.5h2.4M130.7 52.5h2.6M144.3 52.5h2.9M7.7 53.5h1.2M26.1 53.5h1.2M31.9 53.5h1.1M65.6 53.5h2.4M70.4 53.5h2.4M75.2 53.5h2.4M82.4 53.5h2.4M136 53.5h2.7M5.4 54.5h1.2M15.8 54.5h1.1M31.9 54.5h1.1M116 54.5h2.4M141.5 54.5h5.7M14.6 55.5h1.2M22.7 55.5h1.1M63.2 55.5h2.4M106.4 55.5h2.4M136 55.5h2.7M222.9 55.5h4.4M46.8 56.5h1.2M84.8 56.5h2.4M106.4 56.5h2.4M113.6 56.5h2.4M130.7 56.5h2.6M14.6 57.5h1.2M20.4 57.5h1.1M22.7 57.5h1.1M27.3 57.5h1.1M45.7 57.5h1.1M106.4 57.5h2.4M159.3 57.5h3.2M15.8 58.5h1.1M20.4 58.5h1.1M27.3 58.5h1.1M49.1 58.5h1.2M82.4 58.5h2.4M96.8 58.5h2.4M141.5 58.5h2.8M153.1 58.5h3.1M5.4 59.5h1.2M7.7 59.5h1.2M51.4 59.5h1.2M82.4 59.5h2.4M116 59.5h2.4M141.5 59.5h2.8M26.1 60.5h1.2M31.9 60.5h1.1M130.7 60.5h2.6M147.2 60.5h2.9M51.4 61.5h1.2M72.8 61.5h2.4M92 61.5h2.4M101.6 61.5h2.4M123.2 61.5h2.5M179.3 61.5h3.6M18.1 62.5h1.1M70.4 62.5h2.4M96.8 62.5h4.8M120.8 62.5h2.4M130.7 62.5h2.6M18.1 63.5h1.1M68 63.5h2.4M82.4 63.5h2.4M96.8 63.5h2.4M101.6 63.5h2.4M15.8 64.5h1.1M22.7 64.5h1.1M75.2 64.5h2.4M13.5 65.5h1.1M15.8 65.5h1.1M44.5 65.5h1.2M58.4 65.5h4.8M77.6 65.5h2.4M11.2 66.5h1.1M19.2 66.5h1.2M25 66.5h2.3M70.4 66.5h2.4M84.8 66.5h2.4M108.8 66.5h2.4M116 66.5h2.4M15.8 67.5h1.1M113.6 67.5h2.4M125.7 67.5h2.5M133.3 67.5h2.7M5.4 68.5h1.2M15.8 68.5h1.1M26.1 68.5h1.2M136 68.5h2.7M147.2 68.5h2.9M10 69.5h1.2M34.2 69.5h1.1M75.2 69.5h2.4M108.8 69.5h2.4M222.9 69.5h4.4M4.2 70.5h1.2M19.2 70.5h1.2M53.7 70.5h1.2M84.8 70.5h4.8M130.7 70.5h2.6M8.9 71.5h1.1M31.9 71.5h1.1M51.4 71.5h1.2M53.7 71.5h1.2M75.2 71.5h2.4M82.4 71.5h4.8M156.2 71.5h3.1M50.3 72.5h1.1M87.2 72.5h2.4M138.7 72.5h2.8M13.5 73.5h1.1M31.9 73.5h1.1M42.2 73.5h1.2M50.3 73.5h1.1M77.6 73.5h2.4M113.6 73.5h2.4M156.2 73.5h3.1M11.2 74.5h1.1M19.2 74.5h1.2M42.2 74.5h1.2M54.9 74.5h3.5M63.2 74.5h2.4M130.7 74.5h5.3M13.5 75.5h1.1M15.8 75.5h1.1M46.8 75.5h1.2M87.2 75.5h2.4M118.4 75.5h2.4M144.3 75.5h2.9M210 75.5h4.2M222.9 75.5h4.4M5.4 76.5h1.2M13.5 76.5h1.1M53.7 76.5h1.2M111.2 76.5h2.4M13.5 77.5h1.1M23.8 77.5h1.2M45.7 77.5h1.1M63.2 77.5h2.4M87.2 77.5h2.4M96.8 77.5h2.4M111.2 77.5h2.4M120.8 77.5h2.4M8.9 78.5h1.1M30.7 78.5h1.2M39.9 78.5h1.2M44.5 78.5h1.2M53.7 78.5h1.2M77.6 78.5h2.4M89.6 78.5h2.4M116 78.5h2.4M10 79.5h1.2M15.8 79.5h1.1M53.7 79.5h1.2M63.2 79.5h2.4M89.6 79.5h2.4M130.7 79.5h2.6M15.8 80.5h1.1M22.7 80.5h1.1M44.5 80.5h1.2M104 80.5h2.4M147.2 80.5h2.9M172.4 80.5h3.4M25 81.5h2.3M42.2 81.5h1.2M99.2 81.5h2.4M138.7 81.5h2.8M147.2 81.5h2.9"/><path stroke="#949494" d="M5.4 0.5h1.2M28.4 0.5h1.2M38.8 0.5h1.1M70.4 0.5h2.4M77.6 0.5h2.4M120.8 0.5h2.4M133.3 0.5h2.7M218.5 0.5h4.4M5.4 1.5h1.2M28.4 1.5h1.2M38.8 1.5h1.1M70.4 1.5h2.4M77.6 1.5h2.4M120.8 1.5h2.4M133.3 1.5h2.7M218.5 1.5h4.4M118.4 2.5h2.4M141.5 2.5h5.7M156.2 2.5h3.1M136 3.5h2.7M147.2 3.5h2.9M165.7 3.5h3.3M182.9 3.5h3.7M53.7 4.5h1.2M96.8 4.5h2.4M106.4 4.5h2.4M179.3 4.5h3.6M19.2 5.5h1.2M49.1 5.5h1.2M58.4 5.5h2.4M68 5.5h2.4M84.8 5.5h2.4M92 5.5h2.4M175.8 5.5h3.5M6.6 6.5h1.1M65.6 6.5h2.4M89.6 6.5h2.4M116 6.5h2.4M133.3 6.5h2.7M7.7 7.5h1.2M34.2 7.5h1.1M118.4 7.5h2.4M144.3 7.5h2.9M153.1 7.5h3.1M26.1 8.5h1.2M68 8.5h2.4M136 8.5h2.7M144.3 8.5h2.9M150.1 8.5h3M156.2 8.5h3.1M7.7 9.5h1.2M19.2 9.5h1.2M104 9.5h2.4M156.2 9.5h3.1M51.4 10.5h1.2M144.3 10.5h2.9M65.6 11.5h2.4M8.9 12.5h1.1M60.8 12.5h2.4M75.2 12.5h2.4M128.2 12.5h2.5M7.7 13.5h2.3M51.4 13.5h1.2M118.4 13.5h2.4M147.2 13.5h2.9M7.7 14.5h1.2M12.3 14.5h1.2M43.4 14.5h1.1M108.8 14.5h2.4M133.3 14.5h2.7M159.3 14.5h6.4M26.1 15.5h1.2M104 15.5h2.4M116 15.5h2.4M75.2 16.5h2.4M89.6 16.5h2.4M89.6 17.5h2.4M106.4 17.5h2.4M111.2 17.5h2.4M120.8 17.5h2.4M5.4 18.5h1.2M27.3 18.5h1.1M111.2 18.5h2.4M141.5 18.5h2.8M147.2 18.5h2.9M159.3 18.5h6.4M60.8 19.5h2.4M120.8 19.5h2.4M201.9 19.5h4M5.4 20.5h1.2M7.7 20.5h1.2M56 20.5h2.4M92 20.5h2.4M125.7 20.5h2.5M144.3 20.5h5.8M7.7 21.5h1.2M92 21.5h2.4M106.4 21.5h2.4M116 21.5h2.4M5.4 22.5h1.2M8.9 22.5h1.1M53.7 22.5h1.2M84.8 22.5h2.4M108.8 22.5h2.4M156.2 22.5h3.1M14.6 23.5h1.2M65.6 23.5h2.4M13.5 24.5h1.1M22.7 24.5h1.1M50.3 24.5h1.1M56 24.5h2.4M72.8 24.5h2.4M165.7 24.5h3.3M13.5 25.5h1.1M116 25.5h2.4M120.8 25.5h2.4M18.1 26.5h1.1M52.6 26.5h1.1M111.2 26.5h2.4M120.8 26.5h2.4M41.1 27.5h1.1M82.4 27.5h2.4M15.8 28.5h1.1M31.9 28.5h1.1M51.4 28.5h1.2M101.6 28.5h2.4M111.2 28.5h2.4M156.2 28.5h3.1M15.8 29.5h1.1M25 29.5h1.1M27.3 29.5h1.1M136 29.5h2.7M159.3 29.5h3.2M7.7 30.5h2.3M28.4 30.5h1.2M80 30.5h2.4M54.9 31.5h1.1M104 31.5h2.4M144.3 31.5h2.9M96.8 32.5h2.4M113.6 32.5h2.4M147.2 32.5h5.9M162.5 32.5h3.2M169 32.5h3.4M84.8 33.5h2.4M106.4 33.5h2.4M23.8 34.5h1.2M63.2 34.5h2.4M89.6 34.5h2.4M4.2 35.5h1.2M7.7 35.5h1.2M23.8 35.5h1.2M116 35.5h2.4M147.2 35.5h2.9M89.6 36.5h2.4M101.6 36.5h2.4M116 36.5h2.4M144.3 36.5h2.9M15.8 37.5h1.1M30.7 37.5h1.2M52.6 37.5h1.1M10 38.5h1.2M21.5 38.5h1.2M50.3 38.5h1.1M87.2 38.5h2.4M51.4 39.5h1.2M68 39.5h2.4M94.4 39.5h2.4M113.6 39.5h2.4M130.7 39.5h2.6M101.6 40.5h2.4M113.6 40.5h2.4M13.5 41.5h1.1M31.9 41.5h1.1M84.8 41.5h2.4M108.8 41.5h2.4M125.7 41.5h2.5M18.1 42.5h1.1M30.7 42.5h1.2M50.3 42.5h1.1M56 42.5h2.4M120.8 42.5h2.4M153.1 42.5h3.1M6.6 43.5h1.1M45.7 43.5h1.1M75.2 43.5h2.4M101.6 43.5h4.8M111.2 43.5h2.4M144.3 43.5h2.9M21.5 44.5h1.2M25 44.5h1.1M49.1 44.5h1.2M84.8 44.5h2.4M123.2 44.5h2.5M4.2 45.5h1.2M141.5 45.5h2.8M53.7 46.5h1.2M87.2 46.5h2.4M108.8 46.5h2.4M56 47.5h2.4M96.8 47.5h2.4M113.6 47.5h2.4M128.2 47.5h2.5M222.9 47.5h4.4M26.1 48.5h1.2M87.2 48.5h2.4M108.8 48.5h2.4M159.3 48.5h3.2M21.5 49.5h1.2M46.8 49.5h1.2M53.7 49.5h2.3M63.2 49.5h2.4M70.4 49.5h2.4M125.7 49.5h2.5M101.6 50.5h2.4M133.3 50.5h2.7M214.2 50.5h4.3M22.7 51.5h1.1M45.7 51.5h1.1M70.4 51.5h2.4M118.4 51.5h2.4M50.3 52.5h1.1M65.6 52.5h2.4M89.6 52.5h2.4M123.2 52.5h2.5M153.1 52.5h3.1M27.3 53.5h1.1M48 53.5h1.1M94.4 53.5h2.4M125.7 53.5h2.5M133.3 53.5h2.7M138.7 53.5h2.8M156.2 54.5h3.1M13.5 55.5h1.1M72.8 55.5h2.4M99.2 55.5h2.4M4.2 56.5h1.2M31.9 56.5h1.1M68 56.5h2.4M222.9 56.5h4.4M15.8 57.5h1.1M53.7 57.5h1.2M58.4 57.5h2.4M77.6 57.5h2.4M116 57.5h2.4M51.4 58.5h1.2M53.7 58.5h1.2M99.2 58.5h2.4M136 58.5h2.7M27.3 59.5h1.1M31.9 59.5h1.1M44.5 59.5h2.3M50.3 59.5h1.1M72.8 59.5h2.4M147.2 59.5h2.9M65.6 60.5h2.4M70.4 60.5h2.4M80 60.5h2.4M144.3 60.5h2.9M156.2 60.5h3.1M15.8 61.5h1.1M19.2 61.5h1.2M31.9 61.5h1.1M65.6 61.5h2.4M75.2 61.5h2.4M130.7 61.5h5.3M22.7 62.5h1.1M26.1 62.5h1.2M49.1 62.5h1.2M84.8 62.5h2.4M22.7 63.5h1.1M45.7 63.5h1.1M49.1 63.5h1.2M56 63.5h2.4M113.6 63.5h4.8M5.4 64.5h1.2M49.1 64.5h1.2M10 65.5h1.2M52.6 65.5h1.1M87.2 66.5h2.4M125.7 66.5h2.5M197.9 66.5h4M19.2 67.5h1.2M37.6 67.5h1.2M120.8 67.5h2.4M138.7 67.5h8.5M179.3 67.5h3.6M10 68.5h1.2M12.3 68.5h1.2M210 68.5h4.2M13.5 69.5h1.1M26.1 69.5h1.2M41.1 69.5h1.1M104 69.5h4.8M10 70.5h1.2M13.5 70.5h1.1M15.8 70.5h1.1M22.7 70.5h1.1M77.6 70.5h2.4M89.6 70.5h2.4M108.8 70.5h2.4M205.9 70.5h4.1M4.2 71.5h1.2M10 71.5h1.2M42.2 71.5h1.2M104 71.5h2.4M111.2 71.5h2.4M141.5 71.5h2.8M186.6 71.5h3.7M19.2 72.5h1.2M63.2 72.5h2.4M84.8 72.5h2.4M99.2 72.5h2.4M147.2 72.5h2.9M30.7 73.5h1.2M68 74.5h4.8M113.6 74.5h2.4M125.7 74.5h2.5M136 74.5h2.7M141.5 74.5h2.8M150.1 74.5h3M7.7 75.5h1.2M75.2 75.5h2.4M84.8 75.5h2.4M123.2 75.5h2.5M141.5 75.5h2.8M169 75.5h3.4M60.8 76.5h2.4M92 76.5h2.4M15.8 77.5h1.1M20.4 77.5h1.1M75.2 77.5h2.4M147.2 77.5h2.9M6.6 78.5h1.1M56 78.5h2.4M63.2 78.5h2.4M75.2 78.5h2.4M94.4 78.5h2.4M118.4 78.5h2.4M6.6 79.5h1.1M22.7 79.5h1.1M84.8 79.5h4.8M101.6 79.5h2.4M150.1 79.5h3M38.8 80.5h1.1M46.8 80.5h1.2M99.2 80.5h2.4M125.7 80.5h2.5M133.3 80.5h2.7M8.9 81.5h1.1M19.2 81.5h1.2M31.9 81.5h1.1M53.7 81.5h1.2M82.4 81.5h2.4M133.3 81.5h2.7"/><path stroke="#999999" d="M4.2 0.5h1.2M6.6 0.5h1.1M12.3 0.5h1.2M16.9 0.5h2.3M30.7 0.5h1.2M46.8 0.5h1.2M53.7 0.5h1.2M82.4 0.5h2.4M138.7 0.5h2.8M159.3 0.5h3.2M197.9 0.5h4M205.9 0.5h4.1M4.2 1.5h1.2M6.6 1.5h1.1M12.3 1.5h1.2M16.9 1.5h2.3M30.7 1.5h1.2M46.8 1.5h1.2M53.7 1.5h1.2M82.4 1.5h2.4M138.7 1.5h2.8M159.3 1.5h3.2M197.9 1.5h4M205.9 1.5h4.1M46.8 2.5h1.2M30.7 3.5h1.2M186.6 3.5h3.7M45.7 4.5h1.1M51.4 4.5h1.2M68 4.5h2.4M159.3 4.5h3.2M13.5 5.5h1.1M22.7 5.5h1.1M29.6 5.5h1.1M44.5 5.5h1.2M104 5.5h2.4M123.2 5.5h2.5M182.9 5.5h3.7M34.2 6.5h1.1M50.3 6.5h1.1M87.2 6.5h2.4M147.2 7.5h2.9M162.5 7.5h3.2M4.2 8.5h1.2M14.6 8.5h1.2M72.8 8.5h2.4M111.2 8.5h2.4M128.2 8.5h2.5M141.5 8.5h2.8M190.3 8.5h7.6M13.5 9.5h1.1M120.8 9.5h2.4M138.7 9.5h2.8M144.3 9.5h2.9M162.5 9.5h3.2M205.9 9.5h4.1M60.8 10.5h2.4M89.6 10.5h2.4M175.8 10.5h3.5M48 11.5h1.1M51.4 11.5h1.2M138.7 11.5h2.8M175.8 11.5h3.5M4.2 12.5h1.2M6.6 12.5h1.1M22.7 12.5h1.1M26.1 12.5h1.2M80 12.5h2.4M99.2 12.5h2.4M147.2 12.5h2.9M10 13.5h1.2M13.5 13.5h1.1M52.6 13.5h1.1M99.2 13.5h2.4M159.3 13.5h3.2M172.4 13.5h3.4M8.9 14.5h1.1M169 14.5h3.4M49.1 15.5h1.2M82.4 15.5h2.4M172.4 15.5h3.4M210 15.5h4.2M101.6 16.5h2.4M106.4 16.5h2.4M118.4 16.5h2.4M144.3 16.5h2.9M172.4 16.5h3.4M8.9 17.5h1.1M25 17.5h1.1M72.8 17.5h2.4M25 18.5h1.1M56 18.5h2.4M89.6 18.5h4.8M25 19.5h1.1M99.2 19.5h2.4M116 19.5h2.4M133.3 19.5h2.7M70.4 20.5h2.4M51.4 21.5h1.2M56 21.5h2.4M94.4 21.5h4.8M104 21.5h2.4M147.2 21.5h2.9M6.6 22.5h1.1M26.1 22.5h1.2M63.2 22.5h2.4M113.6 22.5h2.4M162.5 22.5h3.2M186.6 22.5h3.7M60.8 23.5h2.4M87.2 23.5h2.4M111.2 23.5h2.4M4.2 24.5h1.2M14.6 24.5h1.2M44.5 24.5h1.2M54.9 24.5h1.1M120.8 24.5h2.4M141.5 24.5h2.8M46.8 25.5h1.2M108.8 25.5h2.4M153.1 25.5h3.1M165.7 25.5h3.3M31.9 26.5h1.1M99.2 26.5h2.4M130.7 26.5h2.6M4.2 27.5h1.2M25 27.5h1.1M46.8 27.5h1.2M80 27.5h2.4M147.2 27.5h2.9M159.3 27.5h3.2M8.9 28.5h1.1M13.5 28.5h1.1M22.7 28.5h1.1M25 28.5h1.1M28.4 28.5h1.2M113.6 28.5h2.4M63.2 29.5h2.4M87.2 29.5h2.4M111.2 29.5h2.4M218.5 29.5h4.4M4.2 30.5h1.2M13.5 30.5h1.1M50.3 30.5h1.1M96.8 30.5h2.4M104 30.5h2.4M136 30.5h2.7M201.9 30.5h4M18.1 31.5h1.1M82.4 31.5h2.4M89.6 31.5h2.4M96.8 31.5h2.4M113.6 31.5h2.4M128.2 31.5h2.5M141.5 31.5h2.8M162.5 31.5h3.2M6.6 32.5h1.1M118.4 32.5h2.4M125.7 32.5h2.5M144.3 32.5h2.9M18.1 33.5h1.1M63.2 33.5h2.4M108.8 33.5h2.4M49.1 34.5h1.2M120.8 34.5h2.4M30.7 35.5h1.2M87.2 35.5h2.4M138.7 35.5h2.8M26.1 37.5h1.2M51.4 37.5h1.2M141.5 37.5h2.8M172.4 37.5h3.4M179.3 37.5h3.6M210 37.5h4.2M51.4 38.5h1.2M80 38.5h2.4M116 38.5h2.4M130.7 38.5h2.6M5.4 39.5h1.2M25 39.5h1.1M53.7 39.5h1.2M125.7 39.5h2.5M194.1 39.5h3.8M222.9 39.5h4.4M14.6 40.5h1.2M63.2 40.5h2.4M118.4 40.5h2.4M123.2 40.5h2.5M5.4 41.5h1.2M25 41.5h1.1M96.8 41.5h2.4M141.5 41.5h2.8M153.1 41.5h3.1M7.7 42.5h1.2M80 42.5h2.4M26.1 43.5h1.2M68 43.5h2.4M118.4 43.5h2.4M133.3 43.5h2.7M153.1 43.5h3.1M172.4 43.5h3.4M6.6 44.5h1.1M14.6 44.5h1.2M44.5 44.5h1.2M128.2 44.5h2.5M205.9 44.5h4.1M6.6 45.5h1.1M50.3 45.5h1.1M108.8 45.5h2.4M130.7 45.5h2.6M138.7 45.5h2.8M8.9 47.5h1.1M22.7 47.5h1.1M31.9 47.5h1.1M44.5 47.5h1.2M49.1 47.5h1.2M92 47.5h2.4M218.5 47.5h4.4M4.2 48.5h1.2M22.7 48.5h1.1M82.4 48.5h2.4M89.6 48.5h2.4M101.6 48.5h2.4M106.4 48.5h2.4M153.1 48.5h3.1M8.9 49.5h1.1M25 49.5h1.1M31.9 49.5h1.1M116 49.5h2.4M27.3 50.5h1.1M65.6 50.5h2.4M89.6 50.5h2.4M125.7 50.5h2.5M75.2 51.5h2.4M53.7 52.5h1.2M68 52.5h2.4M96.8 52.5h4.8M106.4 52.5h2.4M138.7 52.5h2.8M15.8 53.5h1.1M45.7 53.5h1.1M104 53.5h4.8M123.2 53.5h2.5M153.1 53.5h3.1M8.9 54.5h1.1M19.2 54.5h1.2M26.1 54.5h1.2M136 54.5h2.7M5.4 55.5h1.2M27.3 55.5h1.1M130.7 55.5h2.6M190.3 55.5h3.8M30.7 56.5h1.2M51.4 56.5h1.2M82.4 56.5h2.4M104 56.5h2.4M108.8 56.5h2.4M5.4 57.5h1.2M51.4 57.5h1.2M70.4 57.5h2.4M147.2 57.5h2.9M153.1 57.5h3.1M13.5 58.5h1.1M45.7 58.5h1.1M101.6 58.5h2.4M116 58.5h2.4M169 58.5h3.4M26.1 59.5h1.2M46.8 59.5h1.2M186.6 59.5h3.7M222.9 59.5h4.4M49.1 60.5h1.2M51.4 60.5h1.2M77.6 60.5h2.4M104 60.5h4.8M30.7 61.5h1.2M58.4 61.5h2.4M68 61.5h2.4M104 61.5h2.4M136 61.5h2.7M92 62.5h2.4M123.2 62.5h2.5M222.9 62.5h4.4M10 63.5h1.2M130.7 63.5h2.6M113.6 64.5h2.4M136 64.5h2.7M165.7 64.5h3.3M46.8 65.5h1.2M92 65.5h2.4M136 65.5h2.7M68 66.5h2.4M96.8 66.5h2.4M53.7 67.5h1.2M80 67.5h2.4M118.4 67.5h2.4M172.4 67.5h3.4M45.7 68.5h1.1M15.8 69.5h1.1M56 69.5h2.4M96.8 69.5h2.4M25 70.5h1.1M41.1 70.5h1.1M44.5 70.5h1.2M60.8 70.5h2.4M72.8 70.5h2.4M116 70.5h2.4M49.1 71.5h1.2M118.4 71.5h2.4M123.2 71.5h2.5M159.3 71.5h3.2M8.9 72.5h1.1M22.7 72.5h1.1M30.7 72.5h2.3M53.7 72.5h1.2M80 72.5h2.4M120.8 72.5h2.4M150.1 72.5h3M222.9 72.5h4.4M22.7 73.5h1.1M44.5 73.5h1.2M53.7 73.5h1.2M60.8 73.5h2.4M70.4 73.5h2.4M75.2 73.5h2.4M4.2 74.5h1.2M6.6 74.5h1.1M8.9 74.5h1.1M46.8 74.5h1.2M49.1 74.5h1.2M72.8 74.5h2.4M165.7 74.5h3.3M8.9 75.5h1.1M42.2 75.5h1.2M51.4 75.5h1.2M70.4 75.5h2.4M125.7 75.5h2.5M6.6 76.5h1.1M8.9 76.5h1.1M14.6 76.5h2.3M46.8 76.5h1.2M75.2 76.5h2.4M150.1 76.5h3M8.9 77.5h1.1M60.8 77.5h2.4M89.6 77.5h4.8M104 77.5h2.4M125.7 77.5h2.5M141.5 77.5h2.8M15.8 78.5h1.1M108.8 78.5h2.4M128.2 78.5h2.5M150.1 78.5h3M194.1 78.5h3.8M111.2 79.5h2.4M141.5 79.5h2.8M201.9 79.5h4M128.2 80.5h2.5M153.1 80.5h3.1M169 80.5h3.4M179.3 80.5h3.6M6.6 81.5h1.1M15.8 81.5h1.1M21.5 81.5h2.3M49.1 81.5h1.2M58.4 81.5h2.4M80 81.5h2.4M87.2 81.5h2.4M96.8 81.5h2.4M118.4 81.5h4.8"/><path stroke="#9e9e9e" d="M8.9 0.5h2.3M22.7 0.5h1.1M48 0.5h1.1M50.3 0.5h1.1M60.8 0.5h2.4M68 0.5h2.4M92 0.5h2.4M108.8 0.5h2.4M123.2 0.5h2.5M128.2 0.5h2.5M141.5 0.5h2.8M150.1 0.5h3M201.9 0.5h4M8.9 1.5h2.3M22.7 1.5h1.1M48 1.5h1.1M50.3 1.5h1.1M60.8 1.5h2.4M68 1.5h2.4M92 1.5h2.4M108.8 1.5h2.4M123.2 1.5h2.5M128.2 1.5h2.5M141.5 1.5h2.8M150.1 1.5h3M201.9 1.5h4M13.5 2.5h1.1M19.2 2.5h1.2M125.7 2.5h2.5M147.2 2.5h2.9M205.9 3.5h4.1M6.6 4.5h1.1M138.7 4.5h2.8M190.3 4.5h3.8M94.4 5.5h4.8M113.6 5.5h2.4M214.2 5.5h4.3M4.2 6.5h1.2M53.7 6.5h1.2M96.8 6.5h2.4M128.2 6.5h2.5M136 6.5h2.7M218.5 6.5h4.4M6.6 7.5h1.1M10 7.5h1.2M43.4 7.5h1.1M80 7.5h2.4M116 7.5h2.4M123.2 7.5h2.5M141.5 7.5h2.8M156.2 7.5h3.1M5.4 8.5h2.3M25 8.5h1.1M125.7 8.5h2.5M162.5 8.5h3.2M179.3 8.5h3.6M25 9.5h1.1M50.3 10.5h1.1M118.4 10.5h2.4M133.3 10.5h2.7M159.3 10.5h6.4M190.3 10.5h3.8M21.5 11.5h2.3M68 11.5h2.4M101.6 11.5h2.4M118.4 11.5h2.4M18.1 12.5h1.1M53.7 12.5h1.2M116 12.5h2.4M138.7 12.5h2.8M144.3 12.5h2.9M150.1 12.5h3M27.3 13.5h1.1M65.6 13.5h2.4M87.2 13.5h2.4M116 13.5h2.4M123.2 13.5h2.5M144.3 13.5h2.9M162.5 13.5h3.2M80 14.5h4.8M136 14.5h2.7M4.2 15.5h1.2M22.7 15.5h1.1M27.3 15.5h1.1M46.8 15.5h1.2M53.7 15.5h1.2M72.8 15.5h2.4M147.2 15.5h2.9M27.3 16.5h1.1M58.4 16.5h4.8M175.8 16.5h3.5M27.3 17.5h1.1M46.8 17.5h1.2M144.3 17.5h2.9M84.8 18.5h2.4M120.8 18.5h2.4M7.7 19.5h1.2M22.7 19.5h1.1M65.6 19.5h2.4M123.2 19.5h2.5M144.3 19.5h5.8M13.5 20.5h1.1M25 20.5h1.1M15.8 21.5h1.1M46.8 21.5h1.2M50.3 21.5h1.1M63.2 21.5h2.4M89.6 21.5h2.4M125.7 21.5h2.5M165.7 21.5h3.3M50.3 22.5h1.1M106.4 22.5h2.4M144.3 22.5h2.9M175.8 22.5h3.5M8.9 23.5h1.1M26.1 23.5h1.2M118.4 23.5h2.4M218.5 23.5h4.4M30.7 25.5h1.2M72.8 25.5h2.4M150.1 25.5h3M159.3 25.5h3.2M6.6 26.5h1.1M30.7 26.5h1.2M44.5 26.5h1.2M46.8 26.5h1.2M50.3 26.5h1.1M53.7 26.5h1.2M84.8 26.5h2.4M116 26.5h2.4M128.2 26.5h2.5M156.2 26.5h3.1M175.8 26.5h3.5M136 27.5h2.7M5.4 28.5h1.2M89.6 28.5h2.4M130.7 28.5h2.6M138.7 28.5h2.8M197.9 28.5h4M218.5 28.5h4.4M28.4 29.5h1.2M120.8 29.5h4.9M153.1 29.5h3.1M190.3 29.5h3.8M197.9 29.5h4M27.3 30.5h1.1M56 30.5h2.4M101.6 30.5h2.4M111.2 30.5h4.8M125.7 30.5h2.5M159.3 30.5h3.2M218.5 30.5h4.4M6.6 31.5h1.1M8.9 31.5h1.1M46.8 31.5h1.2M58.4 31.5h2.4M77.6 31.5h2.4M116 31.5h2.4M125.7 31.5h2.5M18.1 32.5h1.1M45.7 32.5h1.1M159.3 33.5h3.2M165.7 33.5h3.3M6.6 34.5h1.1M10 34.5h1.2M42.2 34.5h1.2M53.7 34.5h1.2M68 34.5h2.4M77.6 34.5h2.4M136 34.5h2.7M45.7 35.5h2.3M51.4 35.5h1.2M128.2 35.5h2.5M159.3 35.5h3.2M18.1 36.5h1.1M54.9 36.5h1.1M141.5 36.5h2.8M8.9 37.5h1.1M5.4 38.5h1.2M49.1 38.5h1.2M111.2 38.5h2.4M144.3 38.5h2.9M150.1 38.5h3M7.7 39.5h1.2M14.6 39.5h1.2M63.2 39.5h2.4M147.2 39.5h5.9M25 40.5h1.1M120.8 40.5h2.4M89.6 41.5h2.4M165.7 41.5h3.3M14.6 42.5h1.2M63.2 42.5h2.4M77.6 42.5h2.4M96.8 42.5h2.4M136 42.5h2.7M197.9 42.5h4M205.9 42.5h4.1M7.7 43.5h1.2M84.8 43.5h2.4M125.7 43.5h2.5M156.2 43.5h3.1M194.1 43.5h3.8M65.6 44.5h2.4M89.6 44.5h2.4M113.6 44.5h2.4M194.1 44.5h3.8M77.6 45.5h2.4M113.6 45.5h2.4M118.4 45.5h2.4M162.5 45.5h3.2M104 46.5h2.4M116 46.5h2.4M159.3 46.5h3.2M99.2 47.5h2.4M136 47.5h2.7M49.1 48.5h1.2M51.4 48.5h1.2M58.4 48.5h4.8M80 48.5h2.4M99.2 48.5h2.4M150.1 48.5h3M27.3 49.5h1.1M65.6 49.5h2.4M111.2 49.5h2.4M141.5 49.5h2.8M128.2 50.5h2.5M141.5 50.5h2.8M153.1 50.5h3.1M116 51.5h2.4M130.7 51.5h2.6M162.5 51.5h3.2M108.8 52.5h2.4M150.1 52.5h3M4.2 53.5h1.2M36.5 53.5h1.1M49.1 53.5h2.3M72.8 53.5h2.4M147.2 53.5h2.9M4.2 54.5h1.2M54.9 54.5h1.1M92 54.5h2.4M101.6 54.5h2.4M118.4 54.5h2.4M138.7 54.5h2.8M48 55.5h1.1M89.6 55.5h2.4M108.8 55.5h2.4M150.1 55.5h3M7.7 56.5h1.2M13.5 56.5h1.1M94.4 56.5h2.4M182.9 56.5h3.7M60.8 57.5h2.4M150.1 57.5h3M5.4 58.5h1.2M26.1 58.5h1.2M104 58.5h2.4M49.1 59.5h1.2M53.7 59.5h1.2M104 59.5h2.4M118.4 59.5h2.4M130.7 59.5h2.6M4.2 60.5h2.4M84.8 60.5h2.4M89.6 60.5h2.4M113.6 60.5h2.4M4.2 61.5h1.2M6.6 61.5h1.1M96.8 61.5h2.4M138.7 62.5h5.6M5.4 63.5h1.2M44.5 63.5h1.2M51.4 63.5h1.2M75.2 63.5h2.4M89.6 63.5h2.4M138.7 63.5h2.8M44.5 64.5h1.2M99.2 64.5h4.8M125.7 64.5h2.5M210 64.5h4.2M118.4 65.5h2.4M156.2 65.5h3.1M14.6 66.5h1.2M89.6 66.5h2.4M99.2 66.5h4.8M128.2 66.5h2.5M172.4 66.5h3.4M5.4 67.5h1.2M7.7 67.5h1.2M10 67.5h1.2M26.1 67.5h1.2M60.8 67.5h2.4M101.6 67.5h2.4M53.7 68.5h1.2M75.2 68.5h2.4M106.4 68.5h2.4M120.8 68.5h2.4M133.3 68.5h2.7M53.7 69.5h1.2M68 69.5h2.4M99.2 69.5h2.4M111.2 69.5h2.4M128.2 69.5h2.5M144.3 69.5h2.9M194.1 69.5h3.8M7.7 70.5h1.2M101.6 70.5h2.4M113.6 70.5h2.4M7.7 71.5h1.2M19.2 71.5h1.2M26.1 71.5h1.2M113.6 71.5h2.4M165.7 71.5h3.3M179.3 71.5h3.6M111.2 72.5h2.4M125.7 72.5h2.5M133.3 72.5h2.7M159.3 72.5h6.4M182.9 72.5h3.7M19.2 73.5h1.2M96.8 73.5h2.4M101.6 73.5h2.4M25 74.5h2.3M53.7 74.5h1.2M101.6 74.5h2.4M108.8 74.5h2.4M123.2 74.5h2.5M138.7 74.5h2.8M179.3 74.5h3.6M6.6 75.5h1.1M159.3 75.5h3.2M27.3 76.5h1.1M42.2 76.5h1.2M77.6 76.5h2.4M96.8 76.5h2.4M116 76.5h2.4M6.6 77.5h1.1M27.3 77.5h1.1M46.8 77.5h1.2M116 77.5h2.4M144.3 77.5h2.9M162.5 77.5h3.2M10 78.5h1.2M111.2 78.5h2.4M38.8 79.5h1.1M46.8 79.5h1.2M128.2 79.5h2.5M186.6 79.5h3.7M60.8 80.5h2.4M111.2 80.5h2.4M218.5 80.5h4.4M4.2 81.5h1.2M46.8 81.5h1.2M169 81.5h3.4"/><path stroke="#a2a2a2" d="M14.6 0.5h1.2M31.9 0.5h1.1M36.5 0.5h1.1M41.1 0.5h2.3M44.5 0.5h1.2M52.6 0.5h1.1M75.2 0.5h2.4M87.2 0.5h2.4M101.6 0.5h2.4M111.2 0.5h2.4M118.4 0.5h2.4M125.7 0.5h2.5M130.7 0.5h2.6M144.3 0.5h2.9M162.5 0.5h6.5M179.3 0.5h3.6M210 0.5h8.5M14.6 1.5h1.2M31.9 1.5h1.1M36.5 1.5h1.1M41.1 1.5h2.3M44.5 1.5h1.2M52.6 1.5h1.1M75.2 1.5h2.4M87.2 1.5h2.4M101.6 1.5h2.4M111.2 1.5h2.4M118.4 1.5h2.4M125.7 1.5h2.5M130.7 1.5h2.6M144.3 1.5h2.9M162.5 1.5h6.5M179.3 1.5h3.6M210 1.5h8.5M5.4 2.5h1.2M23.8 2.5h1.2M136 2.5h2.7M162.5 2.5h3.2M27.3 3.5h1.1M46.8 3.5h1.2M108.8 3.5h2.4M150.1 3.5h3M165.7 4.5h6.7M175.8 4.5h3.5M12.3 5.5h1.2M50.3 5.5h1.1M101.6 5.5h2.4M116 5.5h2.4M128.2 5.5h2.5M141.5 5.5h2.8M156.2 5.5h6.3M7.7 6.5h1.2M22.7 6.5h1.1M94.4 6.5h2.4M120.8 6.5h2.4M141.5 6.5h2.8M150.1 6.5h3M156.2 6.5h3.1M8.9 7.5h1.1M133.3 7.5h2.7M138.7 7.5h2.8M165.7 8.5h3.3M175.8 8.5h3.5M26.1 9.5h1.2M46.8 9.5h1.2M111.2 9.5h2.4M19.2 10.5h1.2M25 10.5h1.1M75.2 10.5h2.4M108.8 10.5h2.4M141.5 10.5h2.8M197.9 10.5h4M8.9 11.5h1.1M116 11.5h2.4M130.7 11.5h2.6M153.1 12.5h6.2M4.2 13.5h1.2M80 13.5h2.4M94.4 13.5h2.4M133.3 13.5h5.4M27.3 14.5h1.1M49.1 14.5h1.2M53.7 14.5h1.2M63.2 14.5h2.4M106.4 14.5h2.4M141.5 14.5h2.8M153.1 14.5h3.1M197.9 14.5h4M92 15.5h4.8M141.5 15.5h5.7M222.9 15.5h4.4M4.2 16.5h1.2M8.9 16.5h1.1M21.5 16.5h1.2M53.7 16.5h1.2M130.7 16.5h2.6M136 16.5h2.7M186.6 16.5h3.7M210 16.5h4.2M218.5 16.5h4.4M87.2 17.5h2.4M159.3 17.5h3.2M46.8 18.5h1.2M118.4 18.5h2.4M123.2 18.5h2.5M156.2 18.5h3.1M214.2 18.5h4.3M5.4 19.5h1.2M118.4 19.5h2.4M136 19.5h5.5M182.9 19.5h3.7M50.3 20.5h1.1M65.6 20.5h2.4M111.2 20.5h2.4M8.9 21.5h1.1M194.1 21.5h3.8M25 22.5h1.1M87.2 22.5h2.4M159.3 22.5h3.2M25 23.5h1.1M113.6 23.5h2.4M141.5 23.5h2.8M165.7 23.5h3.3M106.4 24.5h2.4M144.3 24.5h2.9M153.1 24.5h3.1M128.2 25.5h2.5M136 25.5h2.7M186.6 26.5h3.7M162.5 27.5h3.2M169 27.5h3.4M43.4 28.5h1.1M46.8 28.5h1.2M120.8 28.5h2.4M175.8 28.5h3.5M22.7 29.5h1.1M92 29.5h4.8M130.7 29.5h2.6M141.5 29.5h5.7M214.2 29.5h4.3M10 30.5h1.2M25 30.5h1.1M84.8 30.5h4.8M133.3 30.5h2.7M150.1 30.5h3M53.7 31.5h1.2M84.8 31.5h2.4M99.2 31.5h2.4M46.8 32.5h2.3M75.2 32.5h2.4M82.4 32.5h4.8M104 32.5h2.4M156.2 32.5h3.1M175.8 32.5h3.5M182.9 32.5h7.4M147.2 33.5h2.9M45.7 34.5h1.1M11.2 35.5h1.1M54.9 35.5h1.1M7.7 36.5h3.5M30.7 36.5h1.2M53.7 36.5h1.2M99.2 36.5h2.4M179.3 36.5h3.6M197.9 36.5h4M101.6 37.5h2.4M89.6 38.5h2.4M138.7 38.5h2.8M153.1 38.5h3.1M222.9 38.5h4.4M87.2 39.5h2.4M96.8 39.5h2.4M162.5 39.5h3.2M175.8 39.5h7.1M6.6 40.5h1.1M20.4 40.5h1.1M54.9 40.5h1.1M58.4 40.5h2.4M87.2 40.5h2.4M104 40.5h2.4M159.3 40.5h3.2M186.6 40.5h3.7M113.6 41.5h2.4M128.2 41.5h5.1M136 41.5h2.7M6.6 42.5h1.1M60.8 42.5h2.4M89.6 42.5h2.4M118.4 42.5h2.4M13.5 43.5h1.1M80 43.5h2.4M87.2 43.5h2.4M190.3 43.5h3.8M45.7 44.5h1.1M68 44.5h2.4M87.2 44.5h2.4M99.2 44.5h2.4M156.2 44.5h3.1M31.9 45.5h1.1M120.8 45.5h2.4M4.2 46.5h1.2M31.9 46.5h1.1M118.4 46.5h2.4M172.4 46.5h10.5M197.9 46.5h4M210 46.5h4.2M4.2 47.5h1.2M25 47.5h1.1M80 47.5h2.4M108.8 47.5h2.4M123.2 47.5h2.5M147.2 47.5h2.9M153.1 47.5h3.1M159.3 47.5h3.2M5.4 48.5h1.2M8.9 48.5h1.1M65.6 48.5h4.8M104 48.5h2.4M218.5 48.5h4.4M51.4 49.5h1.2M162.5 49.5h3.2M77.6 50.5h2.4M159.3 50.5h3.2M165.7 50.5h3.3M46.8 51.5h1.2M87.2 51.5h2.4M96.8 51.5h2.4M147.2 51.5h2.9M205.9 51.5h4.1M214.2 51.5h4.3M8.9 52.5h1.1M25 52.5h1.1M45.7 52.5h1.1M49.1 52.5h1.2M58.4 52.5h2.4M70.4 52.5h2.4M147.2 52.5h2.9M8.9 53.5h1.1M101.6 53.5h2.4M116 53.5h2.4M144.3 53.5h2.9M27.3 54.5h1.1M108.8 54.5h2.4M141.5 55.5h2.8M169 55.5h3.4M194.1 55.5h3.8M6.6 56.5h1.1M118.4 56.5h4.8M128.2 56.5h2.5M141.5 56.5h5.7M153.1 56.5h3.1M190.3 56.5h3.8M96.8 57.5h2.4M104 57.5h2.4M153.1 59.5h3.1M210 59.5h4.2M44.5 60.5h2.3M99.2 60.5h2.4M99.2 61.5h2.4M138.7 61.5h2.8M144.3 61.5h2.9M58.4 62.5h2.4M65.6 62.5h4.8M111.2 62.5h2.4M125.7 62.5h2.5M162.5 62.5h3.2M175.8 62.5h3.5M205.9 62.5h4.1M26.1 63.5h1.2M58.4 63.5h4.8M128.2 63.5h2.5M153.1 63.5h3.1M87.2 64.5h2.4M92 64.5h2.4M111.2 64.5h2.4M14.6 65.5h1.2M94.4 65.5h7.2M120.8 65.5h4.9M128.2 65.5h2.5M162.5 65.5h3.2M50.3 66.5h2.3M77.6 66.5h2.4M111.2 66.5h2.4M153.1 66.5h3.1M12.3 67.5h1.2M25 67.5h1.1M45.7 67.5h2.3M51.4 67.5h1.2M197.9 67.5h4M214.2 67.5h4.3M89.6 68.5h2.4M123.2 68.5h5M21.5 69.5h1.2M21.5 70.5h1.2M46.8 70.5h1.2M75.2 70.5h2.4M94.4 70.5h2.4M141.5 70.5h2.8M197.9 70.5h4M214.2 71.5h4.3M77.6 72.5h2.4M201.9 72.5h4M46.8 73.5h1.2M56 73.5h2.4M116 73.5h4.8M138.7 73.5h2.8M147.2 73.5h2.9M169 73.5h3.4M190.3 73.5h3.8M18.1 74.5h1.1M77.6 74.5h2.4M89.6 74.5h2.4M94.4 74.5h4.8M128.2 74.5h2.5M159.3 74.5h3.2M169 74.5h3.4M210 74.5h4.2M99.2 75.5h2.4M106.4 75.5h2.4M113.6 75.5h4.8M150.1 75.5h3M179.3 75.5h3.6M201.9 75.5h4M34.2 76.5h1.1M65.6 76.5h2.4M101.6 76.5h2.4M133.3 76.5h2.7M141.5 76.5h2.8M156.2 76.5h3.1M70.4 77.5h2.4M123.2 77.5h2.5M150.1 77.5h3M84.8 78.5h2.4M125.7 78.5h2.5M147.2 78.5h2.9M18.1 79.5h1.1M51.4 79.5h1.2M138.7 79.5h2.8M144.3 79.5h2.9M153.1 79.5h3.1M190.3 79.5h3.8M108.8 80.5h2.4M113.6 80.5h2.4M165.7 80.5h3.3M159.3 81.5h3.2"/><path stroke="#a7a7a7" d="M49.1 0.5h1.2M63.2 0.5h2.4M156.2 0.5h3.1M169 0.5h3.4M175.8 0.5h3.5M194.1 0.5h3.8M49.1 1.5h1.2M63.2 1.5h2.4M156.2 1.5h3.1M169 1.5h3.4M175.8 1.5h3.5M194.1 1.5h3.8M186.6 2.5h3.7M58.4 3.5h2.4M169 3.5h3.4M12.3 4.5h1.2M84.8 4.5h2.4M8.9 5.5h1.1M25 5.5h1.1M53.7 5.5h1.2M162.5 5.5h3.2M194.1 5.5h3.8M8.9 6.5h1.1M159.3 6.5h3.2M46.8 7.5h1.2M120.8 7.5h2.4M125.7 7.5h2.5M165.7 7.5h3.3M197.9 7.5h4M147.2 8.5h2.9M153.1 8.5h3.1M44.5 9.5h1.2M141.5 9.5h2.8M77.6 10.5h2.4M153.1 10.5h3.1M141.5 11.5h2.8M190.3 11.5h3.8M210 11.5h4.2M25 12.5h1.1M48 12.5h1.1M68 12.5h2.4M92 12.5h2.4M118.4 12.5h4.8M214.2 12.5h4.3M25 13.5h1.1M108.8 13.5h2.4M138.7 13.5h2.8M190.3 13.5h3.8M125.7 14.5h2.5M130.7 14.5h2.6M138.7 14.5h2.8M144.3 14.5h2.9M172.4 14.5h3.4M6.6 15.5h1.1M8.9 15.5h1.1M130.7 15.5h5.3M49.1 16.5h1.2M51.4 16.5h1.2M63.2 16.5h2.4M179.3 16.5h7.3M194.1 16.5h3.8M214.2 16.5h4.3M51.4 17.5h1.2M197.9 17.5h4M51.4 18.5h1.2M106.4 18.5h2.4M46.8 19.5h1.2M128.2 19.5h2.5M162.5 19.5h3.2M44.5 20.5h1.2M128.2 20.5h2.5M136 20.5h2.7M186.6 20.5h3.7M25 21.5h2.3M53.7 21.5h1.2M159.3 21.5h3.2M169 21.5h3.4M94.4 22.5h2.4M130.7 22.5h2.6M165.7 22.5h3.3M179.3 22.5h3.6M194.1 22.5h3.8M92 23.5h2.4M51.4 24.5h1.2M106.4 25.5h2.4M159.3 26.5h3.2M179.3 26.5h3.6M5.4 27.5h1.2M31.9 27.5h1.1M128.2 27.5h2.5M141.5 27.5h2.8M10 28.5h1.2M108.8 28.5h2.4M141.5 28.5h2.8M159.3 28.5h3.2M68 29.5h2.4M89.6 29.5h2.4M108.8 30.5h2.4M118.4 30.5h2.4M144.3 30.5h2.9M214.2 30.5h4.3M7.7 31.5h1.2M10 31.5h1.2M45.7 31.5h1.1M118.4 31.5h2.4M175.8 31.5h3.5M222.9 31.5h4.4M10 32.5h1.2M15.8 32.5h1.1M70.4 32.5h2.4M141.5 32.5h2.8M45.7 33.5h1.1M58.4 33.5h2.4M94.4 33.5h2.4M118.4 33.5h2.4M156.2 33.5h3.1M7.7 34.5h1.2M125.7 34.5h2.5M172.4 34.5h3.4M201.9 34.5h4M210 34.5h4.2M89.6 35.5h2.4M123.2 35.5h2.5M144.3 35.5h2.9M205.9 35.5h4.1M6.6 36.5h1.1M130.7 36.5h2.6M210 36.5h4.2M4.2 37.5h1.2M18.1 37.5h1.1M46.8 37.5h1.2M113.6 37.5h2.4M118.4 37.5h2.4M147.2 37.5h2.9M165.7 37.5h6.7M4.2 38.5h1.2M179.3 38.5h3.6M60.8 39.5h2.4M116 39.5h2.4M141.5 39.5h2.8M165.7 39.5h3.3M49.1 40.5h1.2M84.8 40.5h2.4M128.2 40.5h2.5M150.1 40.5h3M6.6 41.5h1.1M53.7 41.5h1.2M201.9 41.5h4M13.5 42.5h1.1M141.5 42.5h2.8M172.4 42.5h3.4M14.6 43.5h1.2M108.8 43.5h2.4M179.3 43.5h3.6M50.3 44.5h1.1M70.4 44.5h2.4M108.8 44.5h2.4M120.8 44.5h2.4M153.1 44.5h3.1M175.8 44.5h3.5M190.3 44.5h3.8M150.1 45.5h3M218.5 45.5h4.4M138.7 46.5h2.8M182.9 46.5h3.7M116 47.5h2.4M190.3 47.5h3.8M46.8 48.5h1.2M136 48.5h2.7M190.3 48.5h3.8M201.9 48.5h4M22.7 49.5h1.1M99.2 49.5h2.4M128.2 49.5h2.5M175.8 49.5h3.5M8.9 50.5h1.1M25 50.5h1.1M87.2 50.5h2.4M162.5 50.5h3.2M175.8 50.5h3.5M201.9 50.5h4M99.2 51.5h2.4M120.8 51.5h4.9M120.8 52.5h2.4M186.6 52.5h3.7M7.7 54.5h1.2M106.4 54.5h2.4M150.1 54.5h3M210 54.5h4.2M4.2 55.5h1.2M25 55.5h1.1M116 55.5h2.4M14.6 56.5h1.2M27.3 56.5h1.1M159.3 56.5h3.2M118.4 57.5h2.4M123.2 57.5h2.5M197.9 57.5h8M138.7 58.5h2.8M165.7 58.5h3.3M210 58.5h4.2M84.8 59.5h2.4M25 60.5h1.1M133.3 60.5h2.7M44.5 61.5h1.2M44.5 62.5h1.2M75.2 62.5h2.4M82.4 62.5h2.4M89.6 62.5h2.4M104 62.5h2.4M123.2 63.5h2.5M150.1 63.5h3M175.8 63.5h3.5M7.7 64.5h1.2M25 64.5h1.1M56 64.5h2.4M118.4 64.5h2.4M25 65.5h1.1M70.4 65.5h2.4M165.7 65.5h3.3M175.8 65.5h3.5M15.8 66.5h1.1M118.4 66.5h2.4M123.2 66.5h2.5M108.8 68.5h4.8M128.2 68.5h2.5M172.4 68.5h3.4M186.6 68.5h3.7M77.6 69.5h2.4M94.4 69.5h2.4M197.9 69.5h4M123.2 70.5h7.5M182.9 70.5h3.7M44.5 71.5h1.2M70.4 71.5h2.4M99.2 71.5h2.4M116 71.5h2.4M136 71.5h5.5M194.1 71.5h3.8M7.7 72.5h1.2M116 72.5h2.4M141.5 72.5h2.8M156.2 72.5h3.1M197.9 72.5h4M10 73.5h1.2M125.7 73.5h2.5M201.9 73.5h4M7.7 74.5h1.2M92 74.5h2.4M153.1 74.5h3.1M162.5 74.5h3.2M45.7 75.5h1.1M53.7 75.5h1.2M156.2 75.5h3.1M18.1 76.5h1.1M20.4 76.5h1.1M23.8 76.5h1.2M70.4 76.5h2.4M194.1 76.5h3.8M201.9 76.5h4M130.7 77.5h2.6M153.1 77.5h3.1M46.8 78.5h1.2M65.6 78.5h2.4M80 78.5h2.4M130.7 78.5h2.6M156.2 78.5h3.1M5.4 79.5h1.2M72.8 79.5h2.4M113.6 79.5h2.4M182.9 79.5h3.7M6.6 80.5h1.1M58.4 80.5h2.4M63.2 80.5h2.4M175.8 80.5h3.5M182.9 80.5h3.7M44.5 81.5h1.2M111.2 81.5h2.4M175.8 81.5h3.5"/><path stroke="#acacac" d="M11.2 0.5h1.1M15.8 0.5h1.1M21.5 0.5h1.2M26.1 0.5h1.2M29.6 0.5h1.1M37.6 0.5h1.2M39.9 0.5h1.2M51.4 0.5h1.2M54.9 0.5h1.1M96.8 0.5h4.8M106.4 0.5h2.4M113.6 0.5h2.4M136 0.5h2.7M186.6 0.5h3.7M11.2 1.5h1.1M15.8 1.5h1.1M21.5 1.5h1.2M26.1 1.5h1.2M29.6 1.5h1.1M37.6 1.5h1.2M39.9 1.5h1.2M51.4 1.5h1.2M54.9 1.5h1.1M96.8 1.5h4.8M106.4 1.5h2.4M113.6 1.5h2.4M136 1.5h2.7M186.6 1.5h3.7M53.7 2.5h1.2M123.2 2.5h2.5M150.1 2.5h3M197.9 2.5h4M205.9 2.5h4.1M214.2 2.5h4.3M44.5 4.5h1.2M46.8 4.5h1.2M60.8 4.5h2.4M104 4.5h2.4M162.5 4.5h3.2M147.2 5.5h2.9M172.4 5.5h3.4M179.3 5.5h3.6M20.4 6.5h1.1M138.7 6.5h2.8M179.3 6.5h3.6M20.4 7.5h1.1M130.7 7.5h2.6M179.3 7.5h3.6M197.9 8.5h4M44.5 10.5h1.2M46.8 10.5h1.2M6.6 11.5h1.1M89.6 11.5h2.4M169 11.5h3.4M197.9 11.5h8M172.4 12.5h6.9M218.5 12.5h4.4M53.7 13.5h1.2M130.7 13.5h2.6M25 14.5h2.3M104 14.5h2.4M179.3 14.5h7.3M21.5 15.5h1.2M150.1 15.5h3M182.9 15.5h3.7M159.3 16.5h3.2M169 16.5h3.4M26.1 17.5h1.2M49.1 17.5h1.2M141.5 17.5h2.8M147.2 17.5h2.9M156.2 17.5h3.1M44.5 18.5h1.2M26.1 19.5h1.2M179.3 19.5h3.6M87.2 20.5h2.4M130.7 21.5h2.6M172.4 21.5h3.4M182.9 21.5h3.7M150.1 22.5h3M4.2 23.5h1.2M50.3 23.5h1.1M72.8 23.5h2.4M101.6 23.5h2.4M130.7 23.5h2.6M182.9 23.5h3.7M25 24.5h1.1M128.2 24.5h5.1M25 25.5h1.1M75.2 25.5h2.4M125.7 25.5h2.5M162.5 25.5h3.2M150.1 26.5h3M162.5 26.5h3.2M153.1 27.5h3.1M4.2 28.5h1.2M179.3 28.5h3.6M186.6 28.5h3.7M10 29.5h1.2M60.8 29.5h2.4M186.6 29.5h3.7M194.1 29.5h3.8M46.8 30.5h1.2M130.7 30.5h2.6M138.7 30.5h2.8M194.1 30.5h3.8M210 30.5h4.2M72.8 31.5h2.4M111.2 31.5h2.4M190.3 31.5h3.8M205.9 31.5h4.1M53.7 32.5h1.2M111.2 32.5h2.4M116 32.5h2.4M7.7 33.5h1.2M10 33.5h1.2M169 33.5h3.4M210 33.5h4.2M113.6 34.5h2.4M138.7 34.5h2.8M150.1 34.5h3M186.6 34.5h3.7M136 35.5h2.7M150.1 35.5h3M156.2 35.5h3.1M179.3 35.5h3.6M169 36.5h10.3M205.9 36.5h4.1M21.5 37.5h1.2M99.2 37.5h2.4M120.8 37.5h2.4M138.7 37.5h2.8M156.2 37.5h3.1M7.7 38.5h1.2M25 38.5h1.1M147.2 38.5h2.9M190.3 38.5h3.8M89.6 39.5h2.4M144.3 39.5h2.9M190.3 39.5h3.8M210 39.5h4.2M51.4 40.5h1.2M194.1 40.5h3.8M201.9 40.5h4M20.4 41.5h1.1M116 41.5h2.4M169 41.5h3.4M175.8 41.5h3.5M205.9 41.5h4.1M5.4 42.5h1.2M128.2 42.5h2.5M179.3 42.5h3.6M15.8 43.5h1.1M50.3 43.5h1.1M53.7 43.5h1.2M123.2 43.5h2.5M159.3 43.5h3.2M26.1 44.5h1.2M53.7 44.5h1.2M147.2 44.5h2.9M222.9 44.5h4.4M106.4 45.5h2.4M123.2 45.5h2.5M133.3 45.5h2.7M15.8 46.5h1.1M46.8 46.5h1.2M60.8 46.5h2.4M150.1 46.5h3M51.4 47.5h1.2M141.5 47.5h2.8M179.3 47.5h3.6M141.5 48.5h2.8M147.2 48.5h2.9M165.7 48.5h3.3M138.7 49.5h2.8M22.7 50.5h1.1M72.8 50.5h2.4M123.2 50.5h2.5M56 51.5h2.4M150.1 51.5h3M218.5 51.5h4.4M111.2 52.5h2.4M116 52.5h2.4M179.3 52.5h3.6M25 53.5h1.1M96.8 53.5h2.4M130.7 53.5h2.6M165.7 53.5h3.3M172.4 53.5h3.4M186.6 53.5h3.7M22.7 54.5h1.1M25 54.5h1.1M48 54.5h1.1M147.2 54.5h2.9M159.3 54.5h3.2M133.3 56.5h2.7M201.9 56.5h4M13.5 57.5h1.1M84.8 57.5h2.4M128.2 57.5h2.5M46.8 58.5h1.2M156.2 58.5h3.1M214.2 58.5h4.3M113.6 59.5h2.4M120.8 59.5h2.4M58.4 60.5h2.4M87.2 60.5h2.4M111.2 60.5h2.4M120.8 60.5h2.4M150.1 60.5h3M179.3 60.5h3.6M5.4 61.5h1.2M147.2 61.5h2.9M5.4 62.5h1.2M7.7 62.5h1.2M172.4 62.5h3.4M214.2 62.5h4.3M7.7 63.5h1.2M65.6 64.5h2.4M153.1 64.5h3.1M162.5 64.5h3.2M175.8 64.5h3.5M205.9 64.5h4.1M214.2 64.5h4.3M7.7 65.5h1.2M65.6 65.5h2.4M147.2 65.5h2.9M159.3 65.5h3.2M169 65.5h3.4M182.9 65.5h3.7M197.9 65.5h4M218.5 65.5h4.4M5.4 66.5h1.2M75.2 66.5h2.4M106.4 66.5h2.4M150.1 66.5h3M156.2 66.5h3.1M182.9 66.5h3.7M92 67.5h2.4M150.1 67.5h3M94.4 68.5h2.4M101.6 68.5h2.4M156.2 68.5h3.1M7.7 69.5h1.2M133.3 69.5h2.7M150.1 69.5h6.1M172.4 69.5h3.4M49.1 70.5h1.2M118.4 70.5h2.4M172.4 70.5h3.4M186.6 70.5h3.7M120.8 71.5h2.4M128.2 71.5h2.5M197.9 71.5h4M10 72.5h1.2M44.5 72.5h1.2M165.7 72.5h6.7M7.7 73.5h1.2M99.2 73.5h2.4M123.2 73.5h2.5M128.2 73.5h2.5M133.3 73.5h2.7M162.5 73.5h3.2M194.1 73.5h7.8M214.2 73.5h4.3M106.4 74.5h2.4M18.1 75.5h1.1M25 75.5h1.1M77.6 75.5h2.4M214.2 75.5h4.3M45.7 76.5h1.1M58.4 76.5h2.4M87.2 76.5h2.4M106.4 76.5h4.8M123.2 76.5h2.5M138.7 76.5h2.8M34.2 77.5h1.1M94.4 77.5h2.4M165.7 77.5h3.3M205.9 77.5h4.1M26.1 78.5h1.2M106.4 78.5h2.4M120.8 78.5h2.4M133.3 78.5h2.7M162.5 78.5h6.5M182.9 78.5h3.7M214.2 78.5h4.3M106.4 79.5h2.4M156.2 79.5h3.1M175.8 79.5h3.5M84.8 80.5h2.4M190.3 80.5h3.8M56 81.5h2.4M108.8 81.5h2.4M172.4 81.5h3.4"/><path stroke="#b0b0b0" d="M33 0.5h1.2M35.3 0.5h1.2M45.7 0.5h1.1M65.6 0.5h2.4M84.8 0.5h2.4M94.4 0.5h2.4M33 1.5h1.2M35.3 1.5h1.2M45.7 1.5h1.1M65.6 1.5h2.4M84.8 1.5h2.4M94.4 1.5h2.4M25 2.5h1.1M169 2.5h3.4M6.6 3.5h1.1M201.9 3.5h4M19.2 4.5h1.2M150.1 4.5h3M68 6.5h2.4M118.4 6.5h2.4M182.9 6.5h3.7M201.9 6.5h4M4.2 7.5h2.4M172.4 7.5h3.4M194.1 7.5h3.8M46.8 8.5h1.2M130.7 8.5h2.6M159.3 8.5h3.2M96.8 9.5h2.4M150.1 9.5h3M182.9 9.5h3.7M58.4 10.5h2.4M165.7 10.5h3.3M214.2 10.5h8.7M25 11.5h1.1M46.8 11.5h1.2M162.5 11.5h3.2M186.6 11.5h3.7M162.5 12.5h3.2M156.2 13.5h3.1M169 13.5h3.4M175.8 13.5h3.5M194.1 13.5h3.8M210 13.5h4.2M175.8 14.5h3.5M153.1 15.5h3.1M179.3 15.5h3.6M25 16.5h1.1M153.1 16.5h3.1M190.3 16.5h3.8M10 17.5h1.2M31.9 17.5h1.1M53.7 17.5h1.2M179.3 17.5h3.6M6.6 18.5h1.1M8.9 18.5h1.1M179.3 18.5h3.6M218.5 18.5h4.4M68 19.5h2.4M159.3 19.5h3.2M172.4 19.5h3.4M186.6 19.5h3.7M210 19.5h4.2M46.8 20.5h1.2M68 20.5h2.4M80 20.5h2.4M159.3 20.5h3.2M172.4 20.5h3.4M182.9 20.5h3.7M214.2 21.5h4.3M51.4 22.5h1.2M56 22.5h2.4M111.2 22.5h2.4M147.2 22.5h2.9M153.1 22.5h3.1M201.9 22.5h4M210 22.5h4.2M51.4 23.5h1.2M56 23.5h2.4M147.2 23.5h2.9M214.2 23.5h4.3M169 24.5h3.4M205.9 24.5h4.1M214.2 24.5h4.3M49.1 25.5h1.2M113.6 25.5h2.4M175.8 25.5h3.5M153.1 26.5h3.1M169 26.5h3.4M53.7 27.5h1.2M108.8 27.5h2.4M144.3 27.5h2.9M175.8 27.5h3.5M190.3 27.5h3.8M4.2 29.5h1.2M46.8 29.5h1.2M75.2 29.5h2.4M172.4 29.5h3.4M197.9 30.5h4M172.4 31.5h3.4M194.1 31.5h3.8M51.4 32.5h1.2M60.8 32.5h2.4M89.6 32.5h2.4M190.3 32.5h3.8M14.6 33.5h1.2M25 33.5h1.1M53.7 33.5h1.2M172.4 33.5h6.9M186.6 33.5h3.7M111.2 34.5h2.4M141.5 34.5h2.8M162.5 34.5h3.2M6.6 35.5h1.1M70.4 35.5h2.4M186.6 35.5h3.7M201.9 37.5h4M214.2 37.5h4.3M136 38.5h2.7M156.2 38.5h3.1M162.5 38.5h3.2M214.2 39.5h4.3M130.7 40.5h2.6M162.5 40.5h3.2M169 40.5h3.4M138.7 41.5h2.8M186.6 41.5h3.7M194.1 41.5h3.8M144.3 42.5h2.9M159.3 42.5h3.2M165.7 42.5h3.3M147.2 43.5h2.9M169 43.5h3.4M201.9 43.5h4M104 44.5h2.4M133.3 44.5h2.7M159.3 44.5h9.7M201.9 44.5h4M26.1 45.5h1.2M172.4 45.5h3.4M182.9 45.5h3.7M162.5 46.5h3.2M205.9 46.5h4.1M46.8 47.5h1.2M106.4 47.5h2.4M175.8 47.5h3.5M205.9 47.5h4.1M128.2 48.5h2.5M156.2 48.5h3.1M210 48.5h4.2M172.4 49.5h3.4M54.9 50.5h1.1M113.6 50.5h2.4M130.7 50.5h2.6M210 50.5h4.2M8.9 51.5h1.1M25 51.5h1.1M54.9 51.5h1.1M179.3 51.5h3.6M46.8 52.5h1.2M162.5 52.5h3.2M175.8 52.5h3.5M19.2 53.5h1.2M51.4 53.5h1.2M89.6 53.5h2.4M175.8 53.5h3.5M113.6 54.5h2.4M201.9 54.5h4M31.9 55.5h1.1M156.2 55.5h3.1M172.4 55.5h3.4M186.6 55.5h3.7M214.2 55.5h4.3M25 56.5h1.1M123.2 56.5h2.5M186.6 56.5h3.7M6.6 57.5h1.1M218.5 57.5h4.4M80 58.5h2.4M120.8 58.5h2.4M162.5 58.5h3.2M186.6 58.5h7.5M218.5 58.5h4.4M68 59.5h2.4M94.4 59.5h2.4M182.9 59.5h3.7M7.7 60.5h1.2M136 60.5h2.7M186.6 60.5h11.3M201.9 60.5h4M222.9 60.5h4.4M45.7 61.5h1.1M125.7 61.5h2.5M150.1 61.5h3M169 61.5h3.4M182.9 61.5h3.7M210 61.5h4.2M45.7 62.5h1.1M63.2 62.5h2.4M182.9 62.5h3.7M190.3 62.5h3.8M201.9 62.5h4M94.4 63.5h2.4M169 63.5h3.4M179.3 64.5h3.6M5.4 65.5h1.2M51.4 65.5h1.2M194.1 65.5h3.8M10 66.5h1.2M113.6 66.5h2.4M175.8 66.5h3.5M190.3 66.5h3.8M50.3 67.5h1.1M136 67.5h2.7M147.2 67.5h2.9M201.9 67.5h4M210 67.5h4.2M22.7 68.5h1.1M141.5 68.5h2.8M162.5 68.5h6.5M179.3 68.5h3.6M190.3 68.5h3.8M182.9 69.5h7.4M26.1 70.5h1.2M68 70.5h2.4M133.3 70.5h2.7M144.3 70.5h2.9M175.8 70.5h3.5M214.2 70.5h4.3M125.7 71.5h2.5M147.2 71.5h2.9M210 71.5h4.2M179.3 72.5h3.6M194.1 72.5h3.8M106.4 73.5h2.4M144.3 73.5h2.9M150.1 73.5h3M175.8 73.5h3.5M186.6 73.5h3.7M205.9 73.5h4.1M104 74.5h2.4M214.2 74.5h4.3M4.2 75.5h1.2M82.4 75.5h2.4M133.3 75.5h2.7M147.2 75.5h2.9M144.3 76.5h2.9M169 76.5h6.8M5.4 77.5h1.2M51.4 77.5h1.2M186.6 77.5h3.7M214.2 77.5h4.3M51.4 78.5h1.2M92 78.5h2.4M113.6 78.5h2.4M144.3 78.5h2.9M210 78.5h4.2M125.7 79.5h2.5M165.7 79.5h3.3M205.9 79.5h4.1M214.2 79.5h4.3M56 80.5h2.4M70.4 80.5h2.4M82.4 80.5h2.4M156.2 80.5h6.3M205.9 80.5h4.1M60.8 81.5h2.4M141.5 81.5h2.8M153.1 81.5h3.1M162.5 81.5h3.2"/><path stroke="#b5b5b5" d="M7.7 0.5h1.2M13.5 0.5h1.1M43.4 0.5h1.1M56 0.5h2.4M80 0.5h2.4M89.6 0.5h2.4M153.1 0.5h3.1M7.7 1.5h1.2M13.5 1.5h1.1M43.4 1.5h1.1M56 1.5h2.4M80 1.5h2.4M89.6 1.5h2.4M153.1 1.5h3.1M44.5 2.5h1.2M153.1 3.5h3.1M179.3 3.5h3.6M197.9 3.5h4M118.4 4.5h2.4M141.5 4.5h2.8M210 4.5h4.2M218.5 4.5h4.4M165.7 5.5h3.3M201.9 5.5h4M210 6.5h4.2M182.9 7.5h3.7M159.3 9.5h3.2M201.9 9.5h4M13.5 10.5h1.1M169 10.5h3.4M214.2 11.5h4.3M136 12.5h2.7M159.3 12.5h3.2M190.3 12.5h3.8M210 12.5h4.2M26.1 13.5h1.2M46.8 13.5h1.2M201.9 13.5h4M101.6 14.5h2.4M99.2 15.5h2.4M138.7 15.5h2.8M159.3 15.5h3.2M165.7 15.5h6.7M175.8 15.5h3.5M194.1 15.5h3.8M156.2 16.5h3.1M162.5 16.5h3.2M6.6 17.5h1.1M165.7 17.5h6.7M201.9 17.5h4M22.7 18.5h1.1M49.1 18.5h1.2M96.8 18.5h2.4M138.7 18.5h2.8M205.9 18.5h8.3M156.2 19.5h3.1M190.3 19.5h3.8M205.9 19.5h4.1M8.9 20.5h1.1M26.1 20.5h1.2M123.2 20.5h2.5M153.1 20.5h3.1M165.7 20.5h3.3M175.8 20.5h3.5M6.6 21.5h1.1M190.3 21.5h3.8M201.9 21.5h4M49.1 22.5h1.2M197.9 22.5h4M116 23.5h2.4M136 23.5h2.7M162.5 23.5h3.2M172.4 23.5h3.4M162.5 24.5h3.2M44.5 25.5h1.2M147.2 25.5h2.9M169 25.5h3.4M205.9 25.5h4.1M201.9 26.5h4M210 26.5h4.2M120.8 27.5h2.4M144.3 28.5h2.9M205.9 28.5h4.1M162.5 29.5h3.2M53.7 30.5h1.2M123.2 30.5h2.5M165.7 30.5h3.3M179.3 30.5h3.6M25 31.5h1.1M169 31.5h3.4M179.3 31.5h3.6M159.3 32.5h3.2M165.7 32.5h3.3M172.4 32.5h3.4M194.1 32.5h7.8M210 32.5h4.2M51.4 34.5h1.2M205.9 34.5h4.1M218.5 34.5h4.4M68 35.5h2.4M153.1 35.5h3.1M172.4 35.5h3.4M190.3 35.5h3.8M25 36.5h1.1M201.9 36.5h4M128.2 37.5h2.5M197.9 38.5h4M214.2 38.5h8.7M169 39.5h6.8M205.9 39.5h4.1M218.5 39.5h4.4M116 40.5h2.4M175.8 40.5h3.5M214.2 40.5h8.7M87.2 41.5h2.4M123.2 41.5h2.5M190.3 41.5h3.8M162.5 42.5h3.2M182.9 42.5h3.7M201.9 42.5h4M218.5 42.5h4.4M72.8 43.5h2.4M136 43.5h5.5M162.5 43.5h3.2M205.9 43.5h4.1M60.8 44.5h2.4M116 44.5h2.4M179.3 44.5h3.6M87.2 45.5h2.4M136 45.5h2.7M153.1 45.5h3.1M194.1 45.5h3.8M44.5 46.5h1.2M111.2 46.5h2.4M136 46.5h2.7M190.3 46.5h3.8M214.2 46.5h4.3M58.4 47.5h2.4M162.5 47.5h3.2M25 48.5h1.1M116 48.5h2.4M120.8 48.5h2.4M138.7 48.5h2.8M175.8 48.5h3.5M214.2 48.5h4.3M147.2 49.5h2.9M182.9 49.5h3.7M120.8 50.5h2.4M186.6 50.5h3.7M113.6 51.5h2.4M141.5 51.5h2.8M186.6 51.5h3.7M197.9 51.5h4M218.5 52.5h4.4M99.2 53.5h2.4M108.8 53.5h2.4M150.1 53.5h3M104 54.5h2.4M130.7 54.5h2.6M165.7 54.5h3.3M172.4 54.5h3.4M197.9 54.5h4M120.8 55.5h2.4M175.8 55.5h3.5M138.7 56.5h2.8M25 57.5h1.1M46.8 57.5h1.2M162.5 57.5h3.2M172.4 57.5h6.9M186.6 57.5h3.7M25 58.5h1.1M159.3 58.5h3.2M25 59.5h1.1M123.2 59.5h2.5M136 59.5h5.5M144.3 59.5h2.9M190.3 59.5h3.8M197.9 59.5h4M218.5 59.5h4.4M172.4 60.5h3.4M182.9 60.5h3.7M205.9 60.5h4.1M218.5 60.5h4.4M108.8 61.5h2.4M172.4 61.5h3.4M218.5 61.5h4.4M6.6 62.5h1.1M156.2 62.5h3.1M92 63.5h2.4M125.7 63.5h2.5M133.3 63.5h2.7M165.7 63.5h3.3M210 63.5h8.5M63.2 64.5h2.4M147.2 64.5h2.9M186.6 64.5h3.7M201.9 65.5h4M210 65.5h4.2M46.8 66.5h1.2M58.4 66.5h2.4M136 66.5h5.5M210 66.5h4.2M162.5 67.5h3.2M169 67.5h3.4M7.7 68.5h1.2M46.8 68.5h1.2M118.4 68.5h2.4M150.1 68.5h3M159.3 68.5h3.2M194.1 68.5h3.8M141.5 69.5h2.8M218.5 69.5h4.4M179.3 70.5h3.6M194.1 70.5h3.8M175.8 71.5h3.5M182.9 71.5h3.7M72.8 72.5h2.4M104 72.5h2.4M123.2 72.5h2.5M130.7 72.5h2.6M186.6 72.5h3.7M72.8 73.5h2.4M182.9 73.5h3.7M218.5 73.5h4.4M22.7 74.5h1.1M156.2 74.5h3.1M182.9 74.5h3.7M201.9 74.5h4M92 75.5h2.4M101.6 75.5h2.4M120.8 75.5h2.4M165.7 75.5h3.3M182.9 75.5h3.7M113.6 76.5h2.4M162.5 76.5h3.2M186.6 76.5h3.7M218.5 76.5h4.4M82.4 77.5h2.4M113.6 77.5h2.4M133.3 77.5h2.7M156.2 77.5h3.1M101.6 78.5h2.4M141.5 78.5h2.8M190.3 78.5h3.8M4.2 79.5h1.2M70.4 79.5h2.4M133.3 79.5h2.7M172.4 79.5h3.4M179.3 79.5h3.6M194.1 79.5h3.8M144.3 80.5h2.9M63.2 81.5h2.4M68 81.5h2.4M123.2 81.5h2.5M144.3 81.5h2.9M150.1 81.5h3"/><path stroke="#b9b9b9" d="M19.2 0.5h1.2M27.3 0.5h1.1M34.2 0.5h1.1M19.2 1.5h1.2M27.3 1.5h1.1M34.2 1.5h1.1M201.9 2.5h4M19.2 3.5h1.2M118.4 3.5h2.4M159.3 3.5h3.2M205.9 4.5h4.1M214.2 4.5h4.3M169 5.5h3.4M186.6 5.5h3.7M197.9 5.5h4M5.4 6.5h1.2M175.8 6.5h3.5M197.9 6.5h4M159.3 7.5h3.2M182.9 8.5h7.4M50.3 9.5h1.1M194.1 9.5h7.8M182.9 10.5h3.7M210 10.5h4.2M165.7 11.5h3.3M205.9 11.5h4.1M46.8 12.5h1.2M169 12.5h3.4M194.1 12.5h3.8M165.7 13.5h3.3M194.1 14.5h3.8M210 14.5h4.2M201.9 15.5h8.1M22.7 16.5h1.1M138.7 16.5h2.8M165.7 16.5h3.3M201.9 16.5h4M210 17.5h8.5M87.2 18.5h2.4M182.9 18.5h3.7M201.9 18.5h4M6.6 19.5h1.1M87.2 19.5h2.4M150.1 19.5h3M214.2 19.5h4.3M6.6 20.5h1.1M150.1 21.5h6.1M92 22.5h2.4M190.3 22.5h3.8M49.1 23.5h1.2M150.1 23.5h3M186.6 23.5h3.7M113.6 24.5h2.4M159.3 24.5h3.2M218.5 24.5h4.4M179.3 25.5h3.6M186.6 25.5h3.7M201.9 25.5h4M218.5 25.5h4.4M147.2 26.5h2.9M182.9 26.5h3.7M186.6 27.5h3.7M205.9 27.5h4.1M118.4 28.5h2.4M165.7 28.5h3.3M210 28.5h4.2M53.7 29.5h1.2M182.9 29.5h3.7M182.9 30.5h7.4M197.9 31.5h4M7.7 32.5h1.2M130.7 32.5h2.6M205.9 32.5h4.1M138.7 33.5h8.5M179.3 33.5h7.3M194.1 33.5h3.8M4.2 34.5h1.2M108.8 34.5h2.4M144.3 34.5h2.9M153.1 34.5h3.1M214.2 34.5h4.3M169 35.5h3.4M175.8 35.5h3.5M147.2 36.5h2.9M165.7 36.5h3.3M186.6 36.5h7.5M214.2 36.5h4.3M218.5 37.5h4.4M53.7 38.5h1.2M175.8 38.5h3.5M182.9 38.5h3.7M49.1 39.5h1.2M190.3 40.5h3.8M197.9 40.5h4M162.5 41.5h3.2M113.6 42.5h2.4M194.1 42.5h3.8M128.2 43.5h2.5M175.8 43.5h3.5M197.9 43.5h4M214.2 43.5h4.3M77.6 44.5h2.4M118.4 44.5h2.4M130.7 44.5h2.6M169 44.5h3.4M182.9 44.5h3.7M197.9 44.5h4M218.5 44.5h4.4M94.4 45.5h2.4M179.3 45.5h3.6M190.3 45.5h3.8M205.9 45.5h4.1M113.6 46.5h2.4M194.1 46.5h3.8M118.4 47.5h2.4M197.9 47.5h4M169 48.5h3.4M182.9 48.5h3.7M197.9 48.5h4M205.9 48.5h4.1M165.7 49.5h3.3M179.3 49.5h3.6M197.9 49.5h4M210 49.5h4.2M53.7 50.5h1.2M138.7 50.5h2.8M172.4 50.5h3.4M190.3 50.5h3.8M58.4 51.5h2.4M84.8 51.5h2.4M165.7 52.5h10.1M194.1 52.5h3.8M201.9 52.5h4M92 53.5h2.4M169 53.5h3.4M210 53.5h4.2M96.8 54.5h2.4M175.8 54.5h7.1M190.3 54.5h3.8M118.4 55.5h2.4M197.9 55.5h4M87.2 56.5h2.4M150.1 56.5h3M162.5 56.5h3.2M197.9 56.5h4M218.5 56.5h4.4M92 57.5h2.4M130.7 57.5h2.6M136 57.5h2.7M165.7 57.5h3.3M182.9 57.5h3.7M190.3 57.5h3.8M172.4 58.5h3.4M179.3 58.5h7.3M201.9 58.5h4M63.2 59.5h2.4M70.4 59.5h2.4M99.2 59.5h2.4M169 59.5h3.4M179.3 59.5h3.6M63.2 61.5h2.4M159.3 61.5h3.2M190.3 61.5h3.8M106.4 62.5h4.8M150.1 62.5h3M186.6 62.5h3.7M197.9 63.5h4M133.3 64.5h2.7M138.7 64.5h2.8M150.1 64.5h3M182.9 64.5h3.7M194.1 64.5h3.8M138.7 65.5h2.8M144.3 65.5h2.9M150.1 65.5h3M172.4 65.5h3.4M205.9 66.5h4.1M75.2 67.5h2.4M82.4 67.5h2.4M111.2 67.5h2.4M165.7 67.5h3.3M175.8 67.5h3.5M190.3 67.5h3.8M205.9 67.5h4.1M130.7 68.5h2.6M144.3 68.5h2.9M99.2 70.5h2.4M138.7 70.5h2.8M169 70.5h3.4M133.3 71.5h2.7M169 71.5h6.8M99.2 74.5h2.4M172.4 75.5h3.4M218.5 75.5h4.4M63.2 76.5h2.4M147.2 76.5h2.9M175.8 76.5h3.5M214.2 76.5h4.3M138.7 77.5h2.8M182.9 77.5h3.7M5.4 78.5h1.2M197.9 78.5h4M82.4 79.5h2.4M116 79.5h2.4M218.5 79.5h4.4M4.2 80.5h1.2M138.7 80.5h5.6M194.1 80.5h3.8M210 80.5h8.5M89.6 81.5h2.4M130.7 81.5h2.6M156.2 81.5h3.1M179.3 81.5h3.6M218.5 81.5h4.4"/><path stroke="#bebebe" d="M210 2.5h4.2M44.5 3.5h1.2M156.2 3.5h3.1M162.5 3.5h3.2M175.8 3.5h3.5M210 3.5h4.2M25 4.5h1.1M172.4 4.5h3.4M186.6 4.5h3.7M194.1 4.5h3.8M144.3 5.5h2.9M190.3 5.5h3.8M218.5 5.5h4.4M144.3 6.5h2.9M172.4 6.5h3.4M190.3 6.5h3.8M214.2 6.5h4.3M169 8.5h6.8M205.9 8.5h4.1M175.8 9.5h3.5M190.3 9.5h3.8M205.9 10.5h4.1M159.3 11.5h3.2M182.9 12.5h7.4M197.9 13.5h4M205.9 13.5h4.1M218.5 13.5h4.4M190.3 14.5h3.8M205.9 14.5h4.1M190.3 15.5h3.8M6.6 16.5h1.1M31.9 16.5h1.1M153.1 17.5h3.1M175.8 17.5h3.5M190.3 17.5h7.6M53.7 18.5h1.2M172.4 18.5h3.4M190.3 18.5h3.8M44.5 19.5h1.2M53.7 19.5h1.2M175.8 19.5h3.5M218.5 19.5h4.4M53.7 20.5h1.2M150.1 20.5h3M201.9 20.5h4M156.2 21.5h3.1M205.9 21.5h4.1M172.4 22.5h3.4M205.9 22.5h4.1M125.7 23.5h2.5M179.3 23.5h3.6M197.9 23.5h4M172.4 24.5h3.4M186.6 24.5h3.7M194.1 24.5h3.8M210 24.5h4.2M214.2 25.5h4.3M108.8 26.5h2.4M165.7 27.5h3.3M179.3 27.5h3.6M194.1 27.5h7.8M128.2 28.5h2.5M172.4 28.5h3.4M182.9 28.5h3.7M179.3 29.5h3.6M14.6 31.5h1.2M201.9 31.5h4M51.4 33.5h1.2M125.7 33.5h2.5M205.9 33.5h4.1M179.3 34.5h3.6M190.3 34.5h7.6M162.5 35.5h3.2M218.5 35.5h4.4M150.1 36.5h3M159.3 36.5h3.2M182.9 36.5h3.7M194.1 36.5h3.8M7.7 37.5h1.2M53.7 37.5h1.2M190.3 37.5h3.8M186.6 38.5h3.7M138.7 39.5h2.8M182.9 39.5h3.7M165.7 40.5h3.3M179.3 40.5h3.6M210 41.5h4.2M116 42.5h2.4M214.2 42.5h4.3M113.6 43.5h2.4M138.7 44.5h2.8M44.5 45.5h1.2M53.7 45.5h1.2M186.6 45.5h3.7M201.9 45.5h4M141.5 46.5h2.8M169 46.5h3.4M218.5 46.5h4.4M172.4 48.5h3.4M130.7 49.5h2.6M201.9 49.5h4M53.7 51.5h1.2M89.6 51.5h2.4M172.4 51.5h3.4M182.9 51.5h3.7M156.2 52.5h6.3M197.9 52.5h4M159.3 53.5h6.4M182.9 54.5h3.7M194.1 54.5h3.8M214.2 54.5h4.3M182.9 55.5h3.7M214.2 56.5h4.3M169 57.5h3.4M179.3 57.5h3.6M194.1 57.5h3.8M210 57.5h4.2M147.2 58.5h2.9M175.8 58.5h3.5M197.9 58.5h4M205.9 58.5h4.1M106.4 59.5h2.4M133.3 59.5h2.7M175.8 59.5h3.5M194.1 59.5h3.8M201.9 59.5h4M214.2 59.5h4.3M53.7 60.5h1.2M214.2 60.5h4.3M89.6 61.5h2.4M194.1 61.5h3.8M165.7 62.5h3.3M6.6 63.5h1.1M118.4 63.5h2.4M190.3 63.5h3.8M201.9 63.5h4M6.6 64.5h1.1M197.9 64.5h4M25 68.5h1.1M60.8 68.5h2.4M80 68.5h2.4M197.9 68.5h4M22.7 69.5h1.1M25 69.5h1.1M46.8 69.5h1.2M150.1 70.5h3M165.7 70.5h3.3M144.3 71.5h2.9M162.5 71.5h3.2M75.2 72.5h2.4M101.6 72.5h2.4M210 72.5h4.2M130.7 73.5h2.6M153.1 73.5h3.1M210 73.5h4.2M118.4 74.5h2.4M186.6 74.5h3.7M194.1 74.5h7.8M218.5 74.5h4.4M26.1 75.5h1.2M51.4 76.5h1.2M159.3 76.5h3.2M179.3 76.5h7.3M190.3 76.5h3.8M197.9 76.5h4M210 76.5h4.2M136 77.5h2.7M159.3 77.5h3.2M169 77.5h3.4M175.8 77.5h3.5M82.4 78.5h2.4M175.8 78.5h3.5M186.6 78.5h3.7M58.4 79.5h2.4M96.8 80.5h2.4M162.5 80.5h3.2M84.8 81.5h2.4M165.7 81.5h3.3M182.9 81.5h3.7M190.3 81.5h7.6"/><path stroke="#c3c3c3" d="M182.9 2.5h3.7M190.3 2.5h3.8M190.3 3.5h7.6M210 5.5h4.2M186.6 6.5h3.7M175.8 7.5h3.5M186.6 7.5h3.7M205.9 7.5h4.1M201.9 8.5h4M165.7 9.5h3.3M186.6 9.5h3.7M210 9.5h8.5M179.3 10.5h3.6M201.9 10.5h4M179.3 11.5h3.6M194.1 11.5h3.8M179.3 12.5h3.6M205.9 12.5h4.1M179.3 13.5h7.3M214.2 13.5h4.3M218.5 14.5h4.4M214.2 15.5h4.3M141.5 16.5h2.8M182.9 17.5h3.7M26.1 18.5h1.2M49.1 19.5h1.2M197.9 19.5h4M49.1 20.5h1.2M169 20.5h3.4M210 20.5h4.2M218.5 20.5h4.4M169 22.5h3.4M190.3 23.5h7.6M49.1 24.5h1.2M179.3 24.5h3.6M84.8 25.5h2.4M94.4 26.5h2.4M194.1 26.5h7.8M205.9 26.5h4.1M53.7 28.5h1.2M133.3 28.5h2.7M194.1 28.5h3.8M205.9 29.5h4.1M175.8 30.5h3.5M94.4 31.5h2.4M130.7 31.5h2.6M165.7 31.5h3.3M210 31.5h4.2M25 32.5h1.1M179.3 32.5h3.6M77.6 33.5h2.4M214.2 33.5h4.3M156.2 34.5h3.1M169 34.5h3.4M194.1 35.5h3.8M156.2 36.5h3.1M162.5 36.5h3.2M10 37.5h1.2M162.5 37.5h3.2M159.3 38.5h3.2M169 38.5h3.4M156.2 39.5h3.1M197.9 39.5h4M156.2 41.5h3.1M172.4 41.5h3.4M214.2 41.5h4.3M53.7 42.5h1.2M156.2 42.5h3.1M186.6 42.5h3.7M130.7 43.5h2.6M218.5 43.5h4.4M141.5 44.5h2.8M186.6 44.5h3.7M214.2 44.5h4.3M169 45.5h3.4M210 45.5h4.2M153.1 46.5h3.1M186.6 46.5h3.7M111.2 47.5h2.4M165.7 47.5h3.3M201.9 47.5h4M194.1 48.5h3.8M179.3 50.5h3.6M194.1 51.5h3.8M201.9 51.5h4M182.9 52.5h3.7M210 52.5h4.2M51.4 54.5h1.2M218.5 54.5h4.4M101.6 55.5h2.4M162.5 55.5h3.2M210 55.5h4.2M165.7 56.5h3.3M175.8 56.5h7.1M205.9 56.5h4.1M144.3 57.5h2.9M133.3 58.5h2.7M125.7 59.5h2.5M162.5 59.5h3.2M172.4 59.5h3.4M162.5 60.5h3.2M7.7 61.5h1.2M162.5 61.5h6.5M197.9 61.5h4M53.7 62.5h1.2M194.1 62.5h3.8M218.5 62.5h4.4M205.9 63.5h4.1M51.4 64.5h1.2M128.2 64.5h2.5M141.5 64.5h2.8M172.4 64.5h3.4M218.5 64.5h4.4M113.6 65.5h2.4M141.5 65.5h2.8M179.3 65.5h3.6M205.9 65.5h4.1M179.3 66.5h3.6M201.9 66.5h4M130.7 67.5h2.6M186.6 67.5h3.7M194.1 67.5h3.8M153.1 68.5h3.1M201.9 68.5h8.1M214.2 68.5h4.3M147.2 69.5h2.9M165.7 69.5h6.7M210 69.5h4.2M96.8 70.5h2.4M120.8 70.5h2.4M190.3 70.5h3.8M210 70.5h4.2M218.5 70.5h4.4M130.7 71.5h2.6M46.8 72.5h1.2M153.1 72.5h3.1M190.3 72.5h3.8M205.9 72.5h4.1M214.2 72.5h4.3M159.3 73.5h3.2M179.3 73.5h3.6M205.9 75.5h4.1M153.1 76.5h3.1M179.3 77.5h3.6M104 78.5h2.4M159.3 78.5h3.2M172.4 78.5h3.4M179.3 78.5h3.6M210 79.5h4.2M65.6 80.5h2.4M80 80.5h2.4M186.6 80.5h3.7M197.9 80.5h8M101.6 81.5h2.4M186.6 81.5h3.7M210 81.5h4.2"/><path stroke="#c7c7c7" d="M165.7 2.5h3.3M175.8 2.5h7.1M197.9 4.5h8M169 6.5h3.4M205.9 6.5h4.1M136 7.5h2.7M190.3 7.5h3.8M218.5 7.5h4.4M179.3 9.5h3.6M123.2 11.5h2.5M182.9 11.5h3.7M197.9 12.5h4M46.8 14.5h1.2M156.2 14.5h3.1M201.9 14.5h4M25 15.5h1.1M197.9 16.5h4M205.9 16.5h4.1M194.1 18.5h3.8M8.9 19.5h1.1M169 19.5h3.4M179.3 20.5h3.6M197.9 20.5h4M214.2 20.5h4.3M179.3 21.5h3.6M186.6 21.5h3.7M144.3 23.5h2.9M116 24.5h2.4M175.8 24.5h3.5M182.9 24.5h3.7M190.3 24.5h3.8M201.9 24.5h4M169 28.5h3.4M190.3 28.5h3.8M201.9 28.5h4M214.2 28.5h4.3M118.4 29.5h2.4M165.7 29.5h3.3M175.8 29.5h3.5M201.9 29.5h4M169 30.5h3.4M201.9 32.5h4M165.7 34.5h3.3M175.8 34.5h3.5M182.9 35.5h3.7M214.2 35.5h4.3M218.5 36.5h4.4M175.8 37.5h3.5M182.9 37.5h7.4M136 40.5h2.7M182.9 40.5h3.7M210 40.5h4.2M125.7 42.5h2.5M169 42.5h3.4M182.9 43.5h7.4M15.8 44.5h1.1M15.8 45.5h1.1M197.9 45.5h4M156.2 47.5h3.1M172.4 47.5h3.4M182.9 47.5h3.7M210 47.5h4.2M179.3 48.5h3.6M186.6 48.5h3.7M77.6 49.5h2.4M194.1 49.5h3.8M214.2 49.5h4.3M218.5 50.5h4.4M175.8 51.5h3.5M136 52.5h2.7M156.2 53.5h3.1M179.3 53.5h7.3M197.9 53.5h8M214.2 53.5h8.7M162.5 54.5h3.2M169 54.5h3.4M205.9 54.5h4.1M7.7 55.5h1.2M51.4 55.5h1.2M165.7 55.5h3.3M218.5 55.5h4.4M156.2 56.5h3.1M106.4 58.5h2.4M144.3 58.5h2.9M205.9 59.5h4.1M175.8 60.5h3.5M197.9 60.5h4M175.8 61.5h3.5M205.9 61.5h4.1M147.2 62.5h2.9M111.2 63.5h2.4M136 63.5h2.7M162.5 63.5h3.2M169 64.5h3.4M190.3 64.5h3.8M214.2 65.5h4.3M162.5 66.5h9.9M182.9 67.5h3.7M205.9 69.5h4.1M70.4 70.5h2.4M136 70.5h2.7M147.2 70.5h2.9M159.3 70.5h3.2M46.8 71.5h1.2M106.4 71.5h2.4M205.9 71.5h4.1M190.3 75.5h3.8M197.9 75.5h4M201.9 77.5h4M210 77.5h4.2M218.5 77.5h4.4M123.2 79.5h2.5M159.3 79.5h6.4"/><path stroke="#cccccc" d="M172.4 2.5h3.4M214.2 3.5h4.3M87.2 5.5h2.4M118.4 5.5h2.4M194.1 6.5h3.8M210 7.5h8.5M210 8.5h4.2M186.6 10.5h3.7M194.1 10.5h3.8M13.5 11.5h1.1M172.4 11.5h3.4M186.6 13.5h3.7M214.2 14.5h4.3M218.5 15.5h4.4M22.7 17.5h1.1M172.4 17.5h3.4M205.9 17.5h4.1M218.5 17.5h4.4M165.7 18.5h3.3M194.1 20.5h3.8M205.9 20.5h4.1M49.1 21.5h1.2M197.9 21.5h4M214.2 22.5h4.3M205.9 23.5h8.3M197.9 24.5h4M194.1 25.5h7.8M172.4 27.5h3.4M210 27.5h4.2M218.5 27.5h4.4M162.5 28.5h3.2M156.2 29.5h3.1M169 29.5h3.4M190.3 30.5h3.8M182.9 31.5h7.4M214.2 31.5h8.7M14.6 32.5h1.2M197.9 34.5h4M165.7 35.5h3.3M201.9 35.5h4M25 37.5h1.1M194.1 37.5h3.8M128.2 38.5h2.5M172.4 38.5h3.4M186.6 39.5h3.7M201.9 39.5h4M182.9 41.5h3.7M175.8 42.5h3.5M210 42.5h4.2M210 44.5h4.2M214.2 45.5h4.3M169 47.5h3.4M194.1 47.5h3.8M214.2 47.5h4.3M162.5 48.5h3.2M169 49.5h3.4M205.9 49.5h4.1M190.3 51.5h3.8M190.3 52.5h3.8M159.3 55.5h3.2M201.9 55.5h8.1M133.3 57.5h2.7M153.1 60.5h3.1M210 60.5h4.2M156.2 61.5h3.1M186.6 61.5h3.7M214.2 61.5h4.3M144.3 62.5h2.9M153.1 62.5h3.1M210 62.5h4.2M172.4 63.5h3.4M153.1 65.5h3.1M190.3 65.5h3.8M141.5 66.5h2.8M214.2 66.5h8.7M104 67.5h2.4M153.1 67.5h3.1M113.6 68.5h2.4M169 68.5h3.4M190.3 69.5h3.8M214.2 69.5h4.3M153.1 70.5h3.1M162.5 70.5h3.2M172.4 72.5h6.9M165.7 73.5h3.3M175.8 74.5h3.5M205.9 74.5h4.1M153.1 75.5h3.1M175.8 75.5h3.5M186.6 75.5h3.7M172.4 77.5h3.4M194.1 77.5h3.8M201.9 78.5h4M197.9 79.5h4M205.9 81.5h4.1M214.2 81.5h4.3"/><path stroke="#d1d1d1" d="M172.4 3.5h3.4M201.9 7.5h4M214.2 8.5h4.3M13.5 12.5h1.1M201.9 12.5h4M153.1 13.5h3.1M186.6 14.5h3.7M150.1 17.5h3M218.5 21.5h4.4M123.2 23.5h2.5M169 23.5h3.4M175.8 23.5h3.5M201.9 23.5h4M210 25.5h4.2M165.7 26.5h3.3M172.4 26.5h3.4M182.9 27.5h3.7M153.1 28.5h3.1M75.2 30.5h2.4M172.4 30.5h3.4M205.9 30.5h4.1M218.5 32.5h4.4M46.8 33.5h1.2M190.3 33.5h3.8M218.5 33.5h4.4M210 35.5h4.2M201.9 38.5h4M210 38.5h4.2M128.2 39.5h2.5M159.3 39.5h3.2M205.9 40.5h4.1M179.3 41.5h3.6M190.3 42.5h3.8M186.6 47.5h3.7M156.2 50.5h3.1M169 50.5h3.4M194.1 50.5h3.8M205.9 50.5h4.1M141.5 52.5h2.8M205.9 52.5h4.1M194.1 53.5h3.8M205.9 53.5h4.1M125.7 55.5h2.5M214.2 57.5h4.3M150.1 59.5h3M159.3 60.5h3.2M165.7 60.5h3.3M141.5 61.5h2.8M201.9 61.5h4M197.9 62.5h4M182.9 63.5h3.7M144.3 64.5h2.9M156.2 64.5h6.3M186.6 65.5h3.7M186.6 66.5h3.7M194.1 66.5h3.8M159.3 67.5h3.2M218.5 67.5h4.4M175.8 68.5h3.5M153.1 71.5h3.1M218.5 71.5h4.4M218.5 72.5h4.4M172.4 73.5h3.4M190.3 74.5h3.8M194.1 75.5h3.8M165.7 76.5h3.3M169 78.5h3.4M60.8 79.5h2.4M169 79.5h3.4M136 81.5h2.7"/><path stroke="#d5d5d5" d="M194.1 2.5h3.8M218.5 2.5h4.4M25 3.5h1.1M165.7 14.5h3.3M197.9 15.5h4M162.5 17.5h3.2M175.8 18.5h3.5M186.6 18.5h3.7M165.7 19.5h3.3M190.3 20.5h3.8M123.2 24.5h2.5M182.9 25.5h3.7M190.3 26.5h3.8M214.2 26.5h8.7M214.2 27.5h4.3M136 28.5h2.7M210 29.5h4.2M197.9 33.5h8M182.9 34.5h3.7M197.9 35.5h4M205.9 37.5h4.1M165.7 38.5h3.3M156.2 40.5h3.1M172.4 40.5h3.4M210 43.5h4.2M165.7 45.5h3.3M190.3 49.5h3.8M182.9 50.5h3.7M179.3 55.5h3.6M147.2 56.5h2.9M194.1 56.5h3.8M210 56.5h4.2M205.9 57.5h4.1M153.1 61.5h3.1M169 62.5h3.4M144.3 63.5h2.9M156.2 63.5h3.1M159.3 66.5h3.2M182.9 68.5h3.7M113.6 69.5h2.4M175.8 69.5h7.1M201.9 69.5h4M190.3 71.5h3.8M201.9 71.5h4M144.3 72.5h2.9M162.5 75.5h3.2M136 79.5h2.7M136 80.5h2.7"/><path stroke="#dadada" d="M218.5 3.5h4.4M205.9 5.5h4.1M169 7.5h3.4M169 9.5h6.8M218.5 11.5h4.4M169 18.5h3.4M194.1 19.5h3.8M182.9 22.5h3.7M172.4 25.5h3.4M190.3 25.5h3.8M201.9 27.5h4M214.2 32.5h4.3M144.3 37.5h2.9M159.3 37.5h3.2M197.9 37.5h4M205.9 38.5h4.1M138.7 40.5h2.8M165.7 43.5h3.3M175.8 45.5h3.5M156.2 51.5h3.1M210 51.5h4.2M214.2 52.5h4.3M58.4 53.5h2.4M133.3 55.5h2.7M147.2 55.5h2.9M194.1 63.5h3.8M218.5 63.5h4.4M138.7 68.5h2.8M159.3 69.5h3.2M172.4 74.5h3.4M205.9 76.5h4.1M26.1 77.5h1.2M136 78.5h2.7M205.9 78.5h4.1M218.5 78.5h4.4"/><path stroke="#dfdfdf" d="M218.5 9.5h4.4M165.7 12.5h3.3M186.6 15.5h3.7M186.6 17.5h3.7M210 21.5h4.2M218.5 22.5h4.4M147.2 24.5h2.9M46.8 34.5h1.2M201.9 46.5h4M197.9 50.5h4M190.3 53.5h3.8M138.7 55.5h2.8M169 56.5h6.8M150.1 58.5h3M165.7 59.5h3.3M53.7 61.5h1.2M179.3 63.5h3.6M186.6 63.5h3.7M120.8 69.5h2.4M162.5 69.5h3.2M128.2 72.5h2.5M104 73.5h2.4M150.1 80.5h3"/><path stroke="#e3e3e3" d="M172.4 10.5h3.4M175.8 21.5h3.5M165.7 46.5h3.3M165.7 51.5h3.3M113.6 52.5h2.4M156.2 67.5h3.1M218.5 68.5h4.4M201.9 70.5h4M26.1 76.5h1.2M190.3 77.5h3.8M89.6 80.5h2.4M197.9 81.5h4"/><path stroke="#e8e8e8" d="M218.5 8.5h4.4M120.8 47.5h2.4M218.5 49.5h4.4M156.2 57.5h3.1M159.3 63.5h3.2M197.9 77.5h4"/><path stroke="#ececec" d="M186.6 49.5h3.7M169 51.5h3.4M201.9 81.5h4"/><path stroke="#f1f1f1" d="M150.1 33.5h3M141.5 63.5h2.8"/></g><g transform="translate(297.30,69.5625) scale(2.6,5.4375)"><path stroke="#000000" d="M107 2.5h1M93 3.5h3M92 4.5h2M103 6.5h1M107 7.5h9M114 8.5h2M103 11.5h1M103 12.5h1M115 12.5h1M114 13.5h2M111 14.5h5M114 19.5h5M111 20.5h8M118 21.5h1M115 22.5h4M100 23.5h5M100 24.5h8M102 25.5h6M101 26.5h3M100 27.5h4M107 28.5h1M99 30.5h3M98 31.5h2M111 32.5h5M114 33.5h2M115 34.5h1M117 35.5h2M110 37.5h2M115 39.5h1M115 45.5h1M107 52.5h1M107 53.5h1M107 54.5h1M99 55.5h1M107 55.5h1M96 56.5h4M107 60.5h1M111 62.5h1M103 69.5h1M103 70.5h1M118 72.5h1M114 77.5h5M115 78.5h2"/><path stroke="#050505" d="M92 3.5h1M94 4.5h2M92 7.5h1M89 9.5h4M115 9.5h1M91 10.5h2M113 13.5h1M89 22.5h1M114 22.5h1M100 26.5h1M99 27.5h1M99 29.5h1M98 30.5h1M102 30.5h1M96 31.5h2M89 33.5h1M89 34.5h1M114 34.5h1M103 45.5h1M110 62.5h1M92 69.5h1M92 70.5h1M92 71.5h1M115 72.5h3"/><path stroke="#090909" d="M106 2.5h1M96 3.5h1M82 5.5h4M104 6.5h1M90 10.5h1M114 12.5h1M107 13.5h1M110 14.5h1M92 19.5h1M110 20.5h1M90 22.5h1M99 23.5h1M105 23.5h1M99 24.5h1M101 25.5h1M98 26.5h2M98 27.5h1M98 29.5h1M97 30.5h1M103 30.5h1M95 31.5h1M90 33.5h3M113 33.5h1M90 34.5h1M111 38.5h1M114 45.5h1M100 55.5h1M100 56.5h1M111 56.5h1M95 59.5h1M96 75.5h1M111 75.5h1M114 78.5h1M117 78.5h1M85 79.5h1"/><path stroke="#0e0e0e" d="M110 0.5h2M110 1.5h2M91 3.5h1M96 4.5h1M85 6.5h1M89 10.5h1M106 13.5h1M108 13.5h1M112 13.5h1M92 21.5h1M91 22.5h1M108 24.5h1M100 25.5h1M96 26.5h2M97 27.5h1M97 29.5h1M94 31.5h1M89 32.5h4M110 32.5h1M91 34.5h2M99 35.5h1M116 35.5h1M112 37.5h1M86 49.5h3M96 52.5h1M106 53.5h1M99 54.5h1M106 54.5h1M106 55.5h1M118 55.5h1M101 57.5h3M96 59.5h1M96 67.5h1M104 70.5h1M96 74.5h1M84 79.5h1M85 80.5h1M118 80.5h1"/><path stroke="#131313" d="M109 0.5h1M109 1.5h1M105 2.5h1M108 2.5h1M82 4.5h1M92 5.5h1M84 6.5h1M106 7.5h1M116 7.5h1M116 8.5h1M114 9.5h1M102 12.5h1M96 13.5h1M105 13.5h1M109 13.5h1M116 13.5h1M89 14.5h1M96 14.5h1M88 22.5h1M92 22.5h1M108 25.5h1M104 27.5h1M96 29.5h1M96 30.5h1M100 31.5h1M116 32.5h1M112 33.5h1M88 34.5h1M116 34.5h1M107 35.5h1M114 39.5h1M116 39.5h1M85 48.5h1M84 49.5h2M106 52.5h1M108 53.5h1M108 55.5h1M95 56.5h1M99 57.5h2M96 58.5h1M94 59.5h1M106 60.5h1M112 62.5h1M92 68.5h2M95 74.5h1M95 75.5h1M118 78.5h1M83 79.5h1M83 80.5h2"/><path stroke="#171717" d="M81 4.5h1M83 4.5h1M91 4.5h1M83 6.5h1M105 6.5h1M88 9.5h1M88 11.5h2M102 11.5h1M104 11.5h1M81 12.5h1M104 12.5h1M116 12.5h1M88 13.5h2M104 13.5h1M110 13.5h1M88 14.5h1M116 14.5h1M96 15.5h1M88 23.5h1M106 23.5h1M88 24.5h2M104 26.5h1M96 27.5h1M106 28.5h1M100 29.5h1M93 31.5h1M88 33.5h1M116 33.5h1M100 35.5h1M115 35.5h1M110 38.5h1M118 38.5h1M118 41.5h1M104 45.5h1M84 48.5h1M86 48.5h1M82 49.5h2M89 49.5h1M82 50.5h4M95 52.5h1M100 54.5h1M108 54.5h1M98 55.5h1M110 56.5h1M118 56.5h1M98 57.5h1M108 60.5h1M95 67.5h1M94 68.5h2M104 69.5h1M102 70.5h1M93 71.5h1M114 72.5h1M110 75.5h1M82 78.5h3M82 79.5h1M82 80.5h1"/><path stroke="#1c1c1c" d="M108 0.5h1M108 1.5h1M90 3.5h1M84 4.5h1M81 5.5h1M82 6.5h1M102 6.5h1M88 10.5h1M93 10.5h1M80 12.5h1M82 12.5h1M103 13.5h1M111 13.5h1M95 14.5h1M118 15.5h1M103 17.5h1M113 19.5h1M117 21.5h1M86 23.5h2M109 24.5h1M99 25.5h1M108 28.5h1M92 31.5h1M88 32.5h1M111 33.5h1M93 34.5h1M82 41.5h2M116 45.5h1M88 47.5h1M83 48.5h1M87 48.5h2M86 50.5h1M108 52.5h1M112 56.5h1M82 57.5h1M97 57.5h1M95 58.5h1M93 59.5h1M109 62.5h1M102 69.5h1M93 70.5h1M105 70.5h1M103 71.5h1M118 76.5h1M85 78.5h1"/><path stroke="#202020" d="M88 0.5h1M107 0.5h1M88 1.5h1M107 1.5h1M104 2.5h1M80 4.5h1M85 4.5h1M86 5.5h1M93 5.5h1M82 7.5h1M91 7.5h1M93 7.5h1M113 8.5h1M93 9.5h1M116 9.5h1M79 12.5h1M79 13.5h1M95 13.5h1M97 13.5h1M95 15.5h1M97 15.5h1M102 17.5h1M99 18.5h2M93 19.5h1M85 23.5h1M89 23.5h1M107 23.5h1M95 26.5h1M85 28.5h1M95 29.5h1M95 30.5h1M104 30.5h1M93 33.5h1M113 34.5h1M109 37.5h1M117 39.5h1M84 41.5h2M85 42.5h2M96 43.5h1M102 45.5h1M87 47.5h1M81 49.5h1M87 50.5h1M118 50.5h1M117 55.5h1M81 57.5h1M96 57.5h1M85 58.5h1M96 68.5h1M93 69.5h1M91 70.5h1M91 71.5h1M78 76.5h1M113 77.5h1M86 79.5h1"/><path stroke="#252525" d="M87 0.5h1M87 1.5h1M109 2.5h1M89 3.5h1M79 4.5h1M118 5.5h1M106 6.5h1M78 13.5h1M102 13.5h1M109 14.5h1M101 17.5h1M101 18.5h1M82 19.5h4M91 19.5h1M109 20.5h1M91 21.5h1M93 21.5h1M113 22.5h1M98 24.5h1M95 27.5h1M93 32.5h1M110 33.5h1M94 34.5h1M98 35.5h1M106 35.5h1M99 36.5h1M78 38.5h1M112 38.5h1M78 39.5h1M87 42.5h2M86 47.5h1M89 47.5h1M82 48.5h1M88 50.5h1M78 53.5h1M98 54.5h1M101 55.5h1M104 57.5h1M92 59.5h1M78 67.5h2M79 68.5h3M91 69.5h1M102 71.5h1M115 73.5h1M97 74.5h1M97 75.5h1M112 75.5h1M92 77.5h1M113 78.5h1M118 79.5h1M86 80.5h1M117 80.5h1M82 81.5h1"/><path stroke="#2a2a2a" d="M89 0.5h1M112 0.5h1M89 1.5h1M112 1.5h1M97 3.5h1M81 6.5h1M86 6.5h1M92 6.5h1M81 7.5h1M103 10.5h1M82 11.5h1M78 12.5h1M101 12.5h1M113 12.5h1M80 13.5h1M98 13.5h1M97 14.5h1M98 15.5h1M100 17.5h1M93 22.5h1M98 23.5h1M110 24.5h1M109 25.5h1M105 27.5h1M109 32.5h1M108 35.5h1M114 35.5h1M113 39.5h1M81 41.5h1M105 45.5h1M113 45.5h1M85 47.5h1M89 48.5h1M80 49.5h1M103 49.5h1M81 50.5h1M97 52.5h1M79 53.5h1M105 53.5h1M101 56.5h1M117 56.5h1M97 58.5h1M97 59.5h1M92 60.5h1M111 61.5h1M80 67.5h1M97 67.5h1M82 68.5h1M106 70.5h1M94 71.5h1M78 73.5h1M78 74.5h2M94 74.5h1M78 75.5h1M79 76.5h1M81 78.5h1M81 79.5h1M81 80.5h1"/><path stroke="#2e2e2e" d="M86 0.5h1M118 0.5h1M86 1.5h1M118 1.5h1M82 2.5h1M103 2.5h1M86 4.5h1M90 4.5h1M97 4.5h1M91 5.5h1M115 6.5h1M105 7.5h1M117 8.5h1M81 11.5h1M90 11.5h1M81 13.5h1M101 13.5h1M81 14.5h2M90 14.5h1M104 17.5h1M102 18.5h1M111 21.5h1M87 24.5h1M101 31.5h1M109 33.5h1M95 34.5h1M101 35.5h1M100 36.5h1M113 37.5h1M79 38.5h1M77 39.5h1M79 39.5h1M89 42.5h1M95 43.5h1M97 43.5h1M105 54.5h1M105 55.5h1M109 55.5h1M116 55.5h1M113 56.5h1M80 57.5h1M105 60.5h1M118 62.5h1M111 63.5h1M118 65.5h1M77 67.5h1M81 67.5h1M94 67.5h1M78 68.5h1M91 68.5h1M101 70.5h1M101 71.5h1M104 71.5h1M113 72.5h1M79 73.5h1M114 73.5h1M79 75.5h1M78 77.5h1M86 78.5h1M81 81.5h1"/><path stroke="#333333" d="M85 0.5h1M85 1.5h1M88 3.5h1M78 4.5h1M94 5.5h1M107 6.5h1M117 7.5h1M87 9.5h1M113 9.5h1M87 11.5h1M101 11.5h1M83 12.5h1M105 12.5h1M117 12.5h1M87 13.5h1M90 13.5h1M117 13.5h1M80 14.5h1M87 14.5h1M94 14.5h1M117 14.5h1M99 15.5h1M117 15.5h1M99 17.5h1M81 19.5h1M87 22.5h1M84 23.5h1M108 23.5h1M90 24.5h1M98 25.5h1M105 26.5h1M86 28.5h1M105 28.5h1M101 29.5h1M91 31.5h1M117 32.5h1M87 33.5h1M87 34.5h1M117 34.5h1M77 38.5h1M109 38.5h1M117 38.5h1M118 39.5h1M86 41.5h1M117 41.5h1M81 48.5h1M79 49.5h1M90 49.5h1M89 50.5h1M117 50.5h1M105 52.5h1M109 53.5h1M101 54.5h1M109 54.5h1M94 56.5h1M109 56.5h1M83 57.5h1M95 57.5h1M86 58.5h1M94 58.5h1M109 60.5h1M110 61.5h1M78 62.5h1M108 62.5h1M113 62.5h1M105 69.5h1M100 71.5h1M77 74.5h1M80 74.5h1M80 75.5h1M94 75.5h1M109 75.5h1M79 77.5h1M118 81.5h1"/><path stroke="#383838" d="M84 0.5h1M106 0.5h1M84 1.5h1M106 1.5h1M81 2.5h1M83 2.5h1M92 2.5h4M80 5.5h1M117 5.5h1M93 6.5h1M114 6.5h1M83 7.5h1M94 7.5h1M87 10.5h1M105 11.5h1M94 13.5h1M99 13.5h2M94 15.5h1M98 18.5h1M103 18.5h1M86 19.5h1M110 21.5h1M116 21.5h1M99 22.5h1M90 23.5h1M111 24.5h1M94 26.5h1M84 28.5h1M109 28.5h1M94 29.5h1M94 30.5h1M105 30.5h1M87 32.5h1M108 33.5h1M117 33.5h1M97 35.5h1M105 35.5h1M118 36.5h1M84 42.5h1M78 43.5h2M98 43.5h1M117 45.5h1M102 49.5h1M104 49.5h1M94 52.5h1M109 52.5h1M97 55.5h1M84 58.5h1M91 59.5h1M112 61.5h1M79 62.5h1M110 63.5h1M118 64.5h1M82 67.5h1M97 68.5h1M94 69.5h1M101 69.5h1M94 70.5h1M116 73.5h1M77 75.5h1M77 76.5h1M117 76.5h1M93 77.5h1M117 79.5h1"/><path stroke="#3c3c3c" d="M82 0.5h2M82 1.5h2M96 2.5h1M102 2.5h1M110 2.5h1M87 4.5h1M91 6.5h1M101 6.5h1M116 6.5h1M90 7.5h1M94 9.5h1M117 9.5h1M94 10.5h1M102 10.5h1M104 10.5h1M80 11.5h1M83 11.5h1M77 13.5h1M82 13.5h1M79 14.5h1M94 19.5h1M112 19.5h1M112 21.5h1M100 22.5h1M94 27.5h1M106 27.5h1M96 28.5h1M94 32.5h1M94 33.5h1M96 34.5h1M113 35.5h1M98 36.5h1M113 38.5h1M76 39.5h1M101 45.5h1M84 47.5h1M90 47.5h1M90 48.5h1M78 49.5h1M80 50.5h1M88 51.5h2M85 54.5h1M116 56.5h1M105 57.5h1M91 60.5h1M93 60.5h1M118 61.5h1M76 67.5h1M83 68.5h1M90 70.5h1M107 70.5h1M90 71.5h1M95 71.5h1M99 71.5h1M76 74.5h1M81 74.5h1M81 75.5h1M113 75.5h1M91 77.5h1M83 81.5h1"/><path stroke="#414141" d="M78 0.5h4M78 1.5h4M84 2.5h1M91 2.5h1M87 5.5h1M103 5.5h1M80 6.5h1M87 6.5h1M108 6.5h1M80 7.5h1M112 8.5h1M77 12.5h1M88 12.5h2M100 12.5h1M83 14.5h1M100 15.5h1M90 19.5h1M90 21.5h1M94 21.5h1M112 22.5h1M109 23.5h1M97 24.5h1M95 28.5h1M78 30.5h1M107 33.5h1M112 34.5h1M109 35.5h1M101 36.5h1M80 41.5h1M118 42.5h1M94 43.5h1M99 43.5h1M111 43.5h1M106 45.5h1M115 46.5h2M77 49.5h1M77 53.5h1M80 53.5h1M97 54.5h1M115 55.5h1M114 56.5h1M79 57.5h1M109 61.5h1M117 62.5h1M112 63.5h1M107 65.5h1M117 65.5h1M82 69.5h1M90 69.5h1M98 71.5h1M105 71.5h1M77 73.5h1M113 73.5h1M93 74.5h1M98 74.5h1M76 75.5h1M98 75.5h1M80 76.5h1M77 77.5h1M112 77.5h1M80 78.5h1M87 79.5h1M87 80.5h1M116 80.5h1M117 81.5h1"/><path stroke="#464646" d="M90 0.5h1M117 0.5h1M90 1.5h1M117 1.5h1M87 3.5h1M98 3.5h1M77 4.5h1M89 4.5h1M75 5.5h1M90 5.5h1M95 5.5h1M113 6.5h1M112 12.5h1M78 14.5h1M98 14.5h1M108 14.5h1M98 17.5h1M105 17.5h1M104 18.5h1M92 20.5h1M108 20.5h1M109 21.5h1M113 21.5h1M94 22.5h1M98 22.5h1M75 23.5h1M97 23.5h1M86 24.5h1M112 24.5h1M110 25.5h1M75 27.5h1M75 28.5h1M87 28.5h1M97 28.5h1M79 30.5h1M102 31.5h1M108 32.5h1M106 33.5h1M117 36.5h1M108 37.5h1M76 38.5h1M80 38.5h1M80 39.5h1M112 39.5h1M87 41.5h1M90 42.5h1M77 43.5h1M110 43.5h1M99 44.5h1M112 45.5h1M114 46.5h1M117 46.5h1M80 48.5h1M76 49.5h1M90 50.5h1M118 51.5h1M98 52.5h1M84 54.5h1M86 54.5h1M102 55.5h1M75 56.5h1M102 56.5h1M94 57.5h1M87 58.5h1M98 58.5h1M98 59.5h1M109 63.5h1M117 64.5h1M75 67.5h1M83 67.5h1M98 67.5h1M77 68.5h1M100 70.5h1M108 70.5h1M97 71.5h1M92 72.5h1M80 73.5h1M117 73.5h1M75 74.5h1M82 74.5h1M82 75.5h1M80 77.5h1M87 78.5h1M112 78.5h1M80 79.5h1M80 80.5h1M80 81.5h1"/><path stroke="#4a4a4a" d="M77 0.5h1M105 0.5h1M113 0.5h1M77 1.5h1M105 1.5h1M113 1.5h1M80 2.5h1M90 2.5h1M97 2.5h1M111 2.5h1M88 4.5h1M98 4.5h1M104 5.5h1M94 6.5h1M117 6.5h1M104 7.5h1M101 10.5h1M79 11.5h1M91 11.5h1M100 11.5h1M83 13.5h1M91 14.5h1M116 15.5h1M80 19.5h1M87 19.5h1M101 22.5h1M83 23.5h1M75 24.5h1M91 24.5h1M97 25.5h1M106 26.5h1M102 29.5h1M90 31.5h1M105 33.5h1M97 34.5h1M107 34.5h1M102 35.5h1M108 38.5h1M116 38.5h1M75 39.5h1M116 41.5h1M83 42.5h1M80 43.5h1M100 43.5h1M112 43.5h1M100 44.5h1M118 46.5h1M75 48.5h1M75 49.5h1M101 49.5h1M105 49.5h1M116 50.5h1M87 51.5h1M90 51.5h1M104 53.5h1M102 54.5h1M104 54.5h1M104 55.5h1M110 55.5h1M114 55.5h1M108 56.5h1M115 56.5h1M84 57.5h1M90 59.5h1M94 60.5h1M113 61.5h1M117 61.5h1M77 62.5h1M80 62.5h1M82 64.5h1M107 64.5h1M106 65.5h1M108 65.5h1M93 67.5h1M90 68.5h1M81 69.5h1M83 69.5h1M96 71.5h1M112 72.5h1M75 75.5h1M108 75.5h1M76 76.5h1M116 79.5h1M75 80.5h1"/><path stroke="#4f4f4f" d="M85 2.5h1M101 2.5h1M74 5.5h1M76 5.5h1M102 5.5h1M116 5.5h1M90 6.5h1M109 6.5h1M84 7.5h1M118 7.5h1M118 8.5h1M112 9.5h1M75 10.5h1M86 10.5h1M105 10.5h1M75 11.5h2M84 11.5h1M86 11.5h1M84 12.5h1M87 12.5h1M90 12.5h1M118 12.5h1M86 13.5h1M91 13.5h1M86 14.5h1M93 14.5h1M93 15.5h1M101 15.5h1M97 18.5h1M105 18.5h1M93 20.5h1M78 22.5h2M86 22.5h1M76 23.5h1M91 23.5h1M74 24.5h1M93 26.5h1M74 27.5h1M76 27.5h1M118 27.5h1M74 28.5h1M76 28.5h1M83 28.5h1M94 28.5h1M98 28.5h1M104 28.5h1M93 29.5h1M77 30.5h1M93 30.5h1M106 30.5h1M86 33.5h1M104 33.5h1M86 34.5h1M106 34.5h1M96 35.5h1M104 35.5h1M112 35.5h1M97 36.5h1M114 37.5h1M74 39.5h1M78 40.5h2M117 42.5h1M109 43.5h1M98 44.5h1M113 46.5h1M83 47.5h1M91 47.5h1M74 49.5h1M91 49.5h1M85 52.5h1M104 52.5h1M83 54.5h1M113 55.5h1M76 56.5h1M93 56.5h1M78 57.5h1M83 58.5h1M93 58.5h1M90 60.5h1M104 60.5h1M110 60.5h1M107 62.5h1M114 62.5h1M116 62.5h1M81 64.5h1M108 64.5h1M98 68.5h1M106 69.5h1M72 71.5h1M91 72.5h1M93 72.5h1M83 75.5h1M93 75.5h1M116 76.5h1M90 77.5h1M94 77.5h1M75 79.5h1M84 81.5h1"/><path stroke="#535353" d="M76 0.5h1M76 1.5h1M86 2.5h1M112 2.5h1M86 3.5h1M79 5.5h1M96 5.5h1M112 6.5h1M95 7.5h1M86 9.5h1M76 10.5h1M77 11.5h2M99 12.5h1M106 12.5h1M93 13.5h1M118 13.5h1M84 14.5h1M118 14.5h1M97 17.5h1M95 19.5h1M91 20.5h1M108 21.5h1M114 21.5h2M74 23.5h1M110 23.5h1M73 24.5h1M76 24.5h1M113 24.5h1M93 27.5h1M107 27.5h1M110 28.5h1M114 31.5h2M86 32.5h1M95 32.5h1M118 32.5h1M103 33.5h1M118 33.5h1M105 34.5h1M108 34.5h1M118 34.5h1M88 35.5h2M110 35.5h1M116 36.5h1M74 38.5h2M101 43.5h1M101 44.5h1M107 45.5h1M118 45.5h1M76 48.5h1M91 48.5h1M79 50.5h1M117 51.5h1M86 52.5h1M93 52.5h1M110 53.5h1M87 54.5h1M110 54.5h1M85 55.5h1M96 55.5h1M74 56.5h1M77 57.5h1M106 57.5h1M108 61.5h1M116 61.5h1M81 63.5h2M108 63.5h1M113 63.5h1M83 64.5h1M106 64.5h1M116 65.5h1M118 66.5h1M74 67.5h1M84 68.5h1M84 69.5h1M95 69.5h1M100 69.5h1M95 70.5h1M99 70.5h1M109 70.5h1M71 71.5h1M106 71.5h1M112 73.5h1M83 74.5h1M92 74.5h1M114 75.5h1M76 80.5h1M116 81.5h1"/><path stroke="#585858" d="M87 2.5h3M98 2.5h1M76 4.5h1M73 5.5h1M77 5.5h1M105 5.5h1M79 6.5h1M100 6.5h1M110 6.5h1M118 6.5h1M79 7.5h1M95 9.5h1M95 10.5h1M106 11.5h1M76 12.5h1M76 13.5h1M84 13.5h1M77 14.5h1M110 15.5h3M106 17.5h1M82 20.5h1M94 20.5h1M89 21.5h1M77 22.5h1M97 22.5h1M102 22.5h1M118 23.5h1M85 24.5h1M111 25.5h1M73 27.5h1M108 27.5h1M117 27.5h1M77 28.5h1M93 28.5h1M99 28.5h1M80 30.5h1M116 31.5h1M95 33.5h1M102 33.5h1M98 34.5h1M104 34.5h1M109 34.5h1M87 35.5h1M90 35.5h1M95 35.5h1M102 36.5h1M73 38.5h1M81 38.5h1M114 38.5h1M73 39.5h1M80 40.5h1M79 41.5h1M88 41.5h1M91 42.5h1M76 43.5h1M93 43.5h1M108 43.5h1M113 43.5h1M78 44.5h2M97 44.5h1M88 45.5h2M100 45.5h1M108 45.5h1M112 46.5h1M118 47.5h1M74 48.5h1M73 49.5h1M100 49.5h1M75 50.5h2M91 50.5h1M86 51.5h1M84 52.5h1M110 52.5h1M81 53.5h1M78 54.5h5M84 55.5h1M86 55.5h1M112 55.5h1M77 56.5h1M76 57.5h1M93 57.5h1M114 61.5h1M81 62.5h1M106 62.5h1M80 64.5h1M109 64.5h1M116 64.5h1M105 65.5h1M109 65.5h1M84 67.5h1M76 68.5h1M80 69.5h1M85 69.5h1M118 69.5h1M98 70.5h1M70 71.5h1M89 71.5h1M90 72.5h1M94 72.5h1M76 73.5h1M81 73.5h1M118 73.5h1M74 74.5h1M74 75.5h1M81 76.5h1M107 76.5h1M72 77.5h1M76 77.5h1M81 77.5h1M79 78.5h1M76 79.5h1M74 80.5h1M88 80.5h1M110 81.5h2"/><path stroke="#5d5d5d" d="M75 0.5h1M91 0.5h1M116 0.5h1M75 1.5h1M91 1.5h1M116 1.5h1M79 2.5h1M113 2.5h1M72 4.5h1M72 5.5h1M88 5.5h1M97 5.5h1M101 5.5h1M88 6.5h1M95 6.5h1M89 7.5h1M118 9.5h1M74 10.5h1M77 10.5h1M100 10.5h1M74 11.5h1M99 11.5h1M86 12.5h1M98 12.5h1M69 13.5h1M113 15.5h1M106 18.5h1M118 18.5h1M72 19.5h1M79 19.5h1M88 19.5h2M111 19.5h1M80 20.5h2M83 20.5h1M90 20.5h1M95 21.5h1M80 22.5h1M95 22.5h1M111 22.5h1M77 23.5h1M117 23.5h1M71 24.5h2M77 24.5h1M84 24.5h1M96 24.5h1M69 25.5h1M96 25.5h1M71 26.5h2M77 27.5h1M73 28.5h1M88 28.5h1M100 28.5h1M76 30.5h1M89 31.5h1M113 31.5h1M101 33.5h1M102 34.5h2M91 35.5h1M94 35.5h1M72 36.5h1M72 37.5h1M99 37.5h2M72 38.5h1M72 39.5h1M81 39.5h1M111 39.5h1M77 40.5h1M116 42.5h1M81 43.5h1M102 43.5h1M77 44.5h1M80 44.5h1M102 44.5h1M87 45.5h1M90 45.5h1M109 45.5h1M117 47.5h1M77 48.5h1M79 48.5h1M106 49.5h1M74 50.5h1M77 50.5h1M91 51.5h1M116 51.5h1M87 52.5h1M99 52.5h1M76 53.5h1M96 54.5h1M83 55.5h1M111 55.5h1M75 57.5h1M88 58.5h1M99 58.5h1M115 58.5h1M89 59.5h1M99 59.5h1M95 60.5h1M76 62.5h1M105 62.5h1M80 63.5h1M83 63.5h1M84 64.5h1M105 64.5h1M69 66.5h4M117 66.5h1M86 69.5h1M89 70.5h1M97 70.5h1M110 70.5h1M73 71.5h1M84 74.5h1M91 74.5h1M99 74.5h1M106 74.5h3M114 74.5h2M84 75.5h1M99 75.5h1M75 76.5h1M106 76.5h1M108 76.5h1M70 77.5h2M75 78.5h2M74 79.5h1M79 79.5h1M88 79.5h1M115 79.5h1M77 80.5h1M79 80.5h1M115 80.5h1M109 81.5h1M112 81.5h1"/><path stroke="#616161" d="M104 0.5h1M104 1.5h1M100 2.5h1M99 3.5h1M110 3.5h2M71 4.5h1M73 4.5h1M118 4.5h1M78 5.5h1M89 5.5h1M106 5.5h1M115 5.5h1M89 6.5h1M111 6.5h1M111 8.5h1M106 10.5h1M69 11.5h1M98 11.5h1M69 12.5h1M91 12.5h1M97 12.5h1M68 13.5h1M70 13.5h1M99 14.5h1M107 14.5h1M102 15.5h1M109 15.5h1M114 15.5h2M96 18.5h1M116 18.5h2M71 19.5h1M73 19.5h1M69 20.5h1M79 20.5h1M84 20.5h1M95 20.5h1M107 20.5h1M76 22.5h1M110 22.5h1M73 23.5h1M82 23.5h1M111 23.5h2M116 23.5h1M69 24.5h2M83 24.5h1M114 24.5h1M70 25.5h3M112 25.5h1M70 26.5h1M73 26.5h2M72 27.5h1M109 27.5h1M116 27.5h1M101 28.5h2M103 31.5h1M112 31.5h1M117 31.5h1M107 32.5h1M69 34.5h4M99 34.5h1M101 34.5h1M110 34.5h2M72 35.5h1M86 35.5h1M93 35.5h1M103 35.5h1M111 35.5h1M71 36.5h1M71 37.5h1M73 37.5h1M101 37.5h1M71 38.5h1M71 39.5h1M69 40.5h1M81 40.5h1M69 41.5h4M69 42.5h2M82 42.5h1M107 43.5h1M114 43.5h1M76 44.5h1M81 44.5h1M96 44.5h1M86 45.5h1M110 45.5h2M89 46.5h1M72 49.5h1M78 50.5h1M115 50.5h1M106 51.5h2M83 52.5h1M88 52.5h1M88 54.5h1M69 55.5h1M82 55.5h1M95 55.5h1M73 56.5h1M107 56.5h1M85 57.5h1M113 57.5h4M114 58.5h1M116 58.5h1M69 60.5h1M89 60.5h1M115 61.5h1M115 62.5h1M70 63.5h3M79 63.5h1M107 63.5h1M114 63.5h1M79 64.5h1M110 64.5h1M69 65.5h1M86 65.5h6M104 65.5h1M68 66.5h1M73 66.5h2M92 67.5h1M99 67.5h1M89 68.5h1M89 69.5h1M117 69.5h1M96 70.5h1M69 71.5h1M72 72.5h1M89 72.5h1M95 72.5h1M111 72.5h1M90 74.5h1M105 74.5h1M109 74.5h1M112 74.5h2M116 74.5h1M107 75.5h1M74 76.5h1M105 76.5h1M109 76.5h2M69 77.5h1M73 77.5h1M89 77.5h1M95 77.5h1M111 77.5h1M74 78.5h1M77 78.5h1M88 78.5h1M43 79.5h1M77 79.5h1M99 80.5h2M71 81.5h2M79 81.5h1M108 81.5h1M113 81.5h3"/><path stroke="#666666" d="M74 0.5h1M114 0.5h1M74 1.5h1M114 1.5h1M69 2.5h1M99 2.5h1M114 2.5h1M81 3.5h5M103 3.5h2M108 3.5h2M112 3.5h1M74 4.5h2M99 4.5h1M113 4.5h5M98 5.5h1M100 5.5h1M112 5.5h3M78 6.5h1M77 7.5h2M85 7.5h4M96 7.5h1M103 7.5h1M88 8.5h9M106 8.5h5M72 9.5h2M68 10.5h2M73 10.5h1M78 10.5h1M83 10.5h3M97 10.5h3M115 10.5h2M68 11.5h1M73 11.5h1M85 11.5h1M92 11.5h1M97 11.5h1M115 11.5h4M68 12.5h1M70 12.5h1M85 12.5h1M111 12.5h1M85 13.5h1M76 14.5h1M85 14.5h1M92 14.5h1M100 14.5h7M45 15.5h2M51 15.5h1M79 15.5h14M108 15.5h1M79 16.5h10M93 16.5h8M109 16.5h10M85 17.5h3M96 17.5h1M116 17.5h3M83 18.5h5M90 18.5h4M107 18.5h1M114 18.5h2M96 19.5h1M105 19.5h6M68 20.5h1M70 20.5h1M78 20.5h1M85 20.5h2M89 20.5h1M106 20.5h1M69 21.5h1M77 21.5h4M87 21.5h2M106 21.5h2M103 22.5h4M108 22.5h2M69 23.5h1M78 23.5h1M80 23.5h2M92 23.5h1M96 23.5h1M113 23.5h3M68 24.5h1M81 24.5h2M92 24.5h4M68 25.5h1M73 25.5h1M87 25.5h5M94 25.5h2M113 25.5h1M69 26.5h1M75 26.5h1M87 26.5h5M107 26.5h7M117 26.5h2M43 27.5h2M71 27.5h1M85 27.5h4M78 28.5h1M82 28.5h1M89 28.5h4M103 28.5h1M117 28.5h2M76 29.5h4M85 29.5h2M91 29.5h2M103 29.5h1M105 29.5h9M90 30.5h3M107 30.5h1M104 31.5h8M118 31.5h1M96 32.5h11M96 33.5h5M73 34.5h1M100 34.5h1M71 35.5h1M73 35.5h1M78 35.5h2M85 35.5h1M92 35.5h1M73 36.5h1M96 36.5h1M106 36.5h10M98 37.5h1M102 37.5h1M107 37.5h1M115 37.5h4M70 38.5h1M85 38.5h1M99 38.5h4M107 38.5h1M115 38.5h1M43 39.5h1M88 39.5h1M103 39.5h8M67 40.5h2M76 40.5h1M82 40.5h1M88 40.5h2M103 40.5h7M112 40.5h7M68 41.5h1M73 41.5h1M78 41.5h1M89 41.5h1M96 41.5h12M115 41.5h1M71 42.5h2M80 42.5h2M95 42.5h18M69 43.5h1M82 43.5h9M103 43.5h4M117 43.5h2M69 44.5h1M82 44.5h3M95 44.5h1M103 44.5h14M69 45.5h1M84 45.5h2M91 45.5h1M41 46.5h1M84 46.5h5M90 46.5h5M103 46.5h9M69 47.5h1M82 47.5h1M92 47.5h2M106 47.5h5M116 47.5h1M73 48.5h1M78 48.5h1M92 48.5h2M110 48.5h3M117 48.5h2M94 49.5h6M110 49.5h9M73 50.5h1M100 50.5h5M114 50.5h1M83 51.5h3M95 51.5h6M105 51.5h1M108 51.5h1M40 52.5h2M78 52.5h3M82 52.5h1M89 52.5h1M100 52.5h1M24 53.5h1M82 53.5h8M95 53.5h9M114 53.5h2M77 54.5h1M94 54.5h2M103 54.5h1M112 54.5h5M68 55.5h1M70 55.5h1M80 55.5h2M87 55.5h1M94 55.5h1M103 55.5h1M69 56.5h1M78 56.5h7M103 56.5h4M69 57.5h1M74 57.5h1M86 57.5h1M107 57.5h6M117 57.5h2M69 58.5h1M82 58.5h1M89 58.5h4M100 58.5h3M113 58.5h1M117 58.5h2M69 59.5h1M85 59.5h4M113 59.5h4M68 60.5h1M111 60.5h7M88 61.5h9M104 61.5h4M92 62.5h5M104 62.5h1M69 63.5h1M73 63.5h1M78 63.5h1M84 63.5h1M105 63.5h2M118 63.5h1M68 64.5h2M85 64.5h1M90 64.5h7M111 64.5h1M115 64.5h1M67 65.5h2M84 65.5h2M92 65.5h5M110 65.5h1M115 65.5h1M49 66.5h2M67 66.5h1M75 66.5h5M84 66.5h4M91 66.5h7M103 66.5h1M116 66.5h1M73 67.5h1M85 67.5h1M90 67.5h2M38 68.5h1M85 68.5h1M99 68.5h1M102 68.5h3M114 68.5h5M79 69.5h1M87 69.5h1M96 69.5h4M107 69.5h4M116 69.5h1M82 70.5h6M111 70.5h6M49 71.5h1M68 71.5h1M74 71.5h1M87 71.5h2M107 71.5h3M112 71.5h7M71 72.5h1M73 72.5h1M88 72.5h1M98 72.5h4M105 72.5h6M89 73.5h7M105 73.5h5M111 73.5h1M73 74.5h1M88 74.5h2M100 74.5h5M110 74.5h2M117 74.5h1M69 75.5h1M73 75.5h1M85 75.5h6M100 75.5h7M115 75.5h4M69 76.5h1M82 76.5h1M87 76.5h6M104 76.5h1M111 76.5h3M115 76.5h1M74 77.5h1M82 77.5h1M107 77.5h4M43 78.5h1M78 78.5h1M91 78.5h3M111 78.5h1M102 79.5h3M114 79.5h1M43 80.5h1M73 80.5h1M98 80.5h1M101 80.5h2M107 80.5h1M113 80.5h2M73 81.5h1M85 81.5h1M87 81.5h6M106 81.5h2"/><path stroke="#6b6b6b" d="M73 0.5h1M73 1.5h1M68 2.5h1M70 2.5h2M74 2.5h5M116 2.5h3M69 3.5h1M79 3.5h2M100 3.5h3M105 3.5h3M113 3.5h1M118 3.5h1M51 4.5h1M70 4.5h1M102 4.5h3M110 4.5h3M30 5.5h3M35 5.5h4M60 5.5h1M71 5.5h1M108 5.5h4M76 6.5h2M96 6.5h3M38 7.5h1M74 7.5h3M97 7.5h2M101 7.5h2M72 8.5h3M87 8.5h1M97 8.5h1M104 8.5h2M46 9.5h3M71 9.5h1M74 9.5h3M85 9.5h1M96 9.5h8M111 9.5h1M44 10.5h1M67 10.5h1M70 10.5h1M79 10.5h4M96 10.5h1M113 10.5h2M117 10.5h2M67 11.5h1M70 11.5h1M93 11.5h2M96 11.5h1M113 11.5h2M38 12.5h1M67 12.5h1M71 12.5h1M74 12.5h2M96 12.5h1M107 12.5h4M67 13.5h1M71 13.5h1M92 13.5h1M68 14.5h2M31 15.5h1M43 15.5h2M52 15.5h1M77 15.5h2M77 16.5h2M89 16.5h4M101 16.5h1M106 16.5h3M77 17.5h8M88 17.5h8M107 17.5h4M112 17.5h4M72 18.5h11M88 18.5h2M94 18.5h2M108 18.5h6M26 19.5h2M45 19.5h2M70 19.5h1M74 19.5h1M77 19.5h2M97 19.5h8M8 20.5h1M54 20.5h3M77 20.5h1M87 20.5h2M96 20.5h3M103 20.5h3M25 21.5h4M33 21.5h1M68 21.5h1M70 21.5h1M76 21.5h1M81 21.5h6M103 21.5h3M24 22.5h1M74 22.5h2M81 22.5h1M84 22.5h2M96 22.5h1M107 22.5h1M46 23.5h1M68 23.5h1M70 23.5h1M79 23.5h1M93 23.5h2M33 24.5h2M78 24.5h1M80 24.5h1M115 24.5h4M34 25.5h2M67 25.5h1M74 25.5h2M83 25.5h4M92 25.5h2M114 25.5h1M118 25.5h1M68 26.5h1M76 26.5h1M85 26.5h2M92 26.5h1M114 26.5h3M45 27.5h1M78 27.5h1M84 27.5h1M89 27.5h4M110 27.5h1M115 27.5h1M72 28.5h1M79 28.5h3M111 28.5h6M22 29.5h1M36 29.5h1M56 29.5h2M75 29.5h1M80 29.5h1M83 29.5h2M87 29.5h4M104 29.5h1M114 29.5h5M33 30.5h1M48 30.5h3M75 30.5h1M81 30.5h1M88 30.5h2M108 30.5h5M118 30.5h1M48 31.5h2M77 31.5h2M88 31.5h1M67 32.5h3M85 32.5h1M69 33.5h1M85 33.5h1M68 34.5h1M74 34.5h1M77 34.5h9M70 35.5h1M74 35.5h1M77 35.5h1M80 35.5h1M83 35.5h2M70 36.5h1M85 36.5h11M103 36.5h3M43 37.5h2M74 37.5h1M84 37.5h10M97 37.5h1M103 37.5h4M48 38.5h2M69 38.5h1M82 38.5h3M86 38.5h7M98 38.5h1M103 38.5h4M31 39.5h1M42 39.5h1M44 39.5h1M70 39.5h1M82 39.5h6M89 39.5h2M101 39.5h2M43 40.5h4M66 40.5h1M70 40.5h1M83 40.5h5M90 40.5h1M101 40.5h2M110 40.5h2M36 41.5h2M67 41.5h1M90 41.5h2M94 41.5h2M108 41.5h7M20 42.5h3M68 42.5h1M73 42.5h1M78 42.5h2M93 42.5h2M113 42.5h3M39 43.5h3M45 43.5h2M68 43.5h1M70 43.5h2M74 43.5h2M91 43.5h2M115 43.5h2M41 44.5h1M68 44.5h1M75 44.5h1M85 44.5h7M93 44.5h2M117 44.5h2M29 45.5h1M68 45.5h1M77 45.5h7M92 45.5h8M29 46.5h3M42 46.5h5M69 46.5h1M79 46.5h5M95 46.5h2M101 46.5h2M68 47.5h1M70 47.5h1M81 47.5h1M94 47.5h2M104 47.5h2M111 47.5h5M94 48.5h16M113 48.5h4M45 49.5h3M71 49.5h1M92 49.5h2M108 49.5h2M94 50.5h6M105 50.5h9M54 51.5h1M74 51.5h9M92 51.5h3M101 51.5h2M104 51.5h1M109 51.5h1M114 51.5h2M42 52.5h1M54 52.5h1M76 52.5h2M81 52.5h1M90 52.5h1M101 52.5h3M113 52.5h4M41 53.5h1M51 53.5h1M90 53.5h1M94 53.5h1M111 53.5h3M116 53.5h1M46 54.5h5M89 54.5h5M111 54.5h1M117 54.5h2M46 55.5h4M67 55.5h1M71 55.5h1M78 55.5h2M93 55.5h1M68 56.5h1M70 56.5h1M85 56.5h1M68 57.5h1M70 57.5h1M73 57.5h1M87 57.5h1M92 57.5h1M34 58.5h2M68 58.5h1M70 58.5h1M78 58.5h4M103 58.5h4M112 58.5h1M28 59.5h2M56 59.5h1M68 59.5h1M70 59.5h1M79 59.5h6M100 59.5h2M106 59.5h7M117 59.5h2M70 60.5h1M84 60.5h5M96 60.5h3M102 60.5h2M118 60.5h1M78 61.5h3M84 61.5h4M97 61.5h2M100 61.5h4M69 62.5h2M82 62.5h2M90 62.5h2M97 62.5h3M101 62.5h3M46 63.5h1M60 63.5h1M68 63.5h1M77 63.5h1M92 63.5h6M103 63.5h2M116 63.5h2M66 64.5h2M70 64.5h1M78 64.5h1M86 64.5h4M97 64.5h1M104 64.5h1M112 64.5h3M63 65.5h4M70 65.5h1M79 65.5h5M97 65.5h1M31 66.5h1M48 66.5h1M51 66.5h1M66 66.5h1M80 66.5h4M88 66.5h3M98 66.5h1M100 66.5h3M104 66.5h3M31 67.5h2M86 67.5h2M89 67.5h1M100 67.5h4M116 67.5h3M37 68.5h1M51 68.5h2M86 68.5h2M100 68.5h2M105 68.5h2M109 68.5h5M88 69.5h1M111 69.5h3M46 70.5h4M69 70.5h1M80 70.5h2M88 70.5h1M117 70.5h2M36 71.5h1M48 71.5h1M50 71.5h2M67 71.5h1M77 71.5h10M110 71.5h2M26 72.5h1M70 72.5h1M74 72.5h7M83 72.5h5M96 72.5h2M102 72.5h3M51 73.5h2M72 73.5h4M82 73.5h2M87 73.5h2M96 73.5h9M110 73.5h1M66 74.5h4M85 74.5h3M118 74.5h1M67 75.5h2M70 75.5h1M91 75.5h2M41 76.5h1M68 76.5h1M70 76.5h1M73 76.5h1M83 76.5h4M93 76.5h6M101 76.5h3M114 76.5h1M45 77.5h2M68 77.5h1M75 77.5h1M83 77.5h6M105 77.5h2M73 78.5h1M89 78.5h2M94 78.5h2M103 78.5h8M38 79.5h1M42 79.5h1M44 79.5h1M73 79.5h1M78 79.5h1M89 79.5h13M105 79.5h2M113 79.5h1M38 80.5h1M78 80.5h1M89 80.5h6M96 80.5h2M103 80.5h4M108 80.5h5M70 81.5h1M74 81.5h1M86 81.5h1M93 81.5h2M104 81.5h2"/><path stroke="#6f6f6f" d="M0 2.5h1M44 2.5h1M67 2.5h1M72 2.5h2M115 2.5h1M22 3.5h5M38 3.5h3M50 3.5h3M67 3.5h2M70 3.5h5M76 3.5h3M114 3.5h4M38 4.5h1M49 4.5h2M52 4.5h1M66 4.5h1M100 4.5h2M105 4.5h1M108 4.5h2M15 5.5h2M29 5.5h1M33 5.5h2M51 5.5h1M59 5.5h1M61 5.5h1M99 5.5h1M107 5.5h1M18 6.5h2M41 6.5h1M75 6.5h1M99 6.5h1M33 7.5h3M37 7.5h1M72 7.5h2M99 7.5h2M38 8.5h1M43 8.5h4M71 8.5h1M75 8.5h10M86 8.5h1M98 8.5h6M16 9.5h1M27 9.5h2M38 9.5h1M43 9.5h3M49 9.5h1M65 9.5h2M70 9.5h1M77 9.5h8M104 9.5h5M2 10.5h2M24 10.5h1M28 10.5h2M43 10.5h1M45 10.5h2M65 10.5h2M71 10.5h2M112 10.5h1M28 11.5h2M33 11.5h1M54 11.5h4M71 11.5h1M95 11.5h1M112 11.5h1M37 12.5h1M51 12.5h7M66 12.5h1M72 12.5h2M92 12.5h4M56 13.5h2M66 13.5h1M72 13.5h4M45 14.5h2M51 14.5h2M67 14.5h1M70 14.5h1M29 15.5h2M42 15.5h1M47 15.5h1M50 15.5h1M53 15.5h1M62 15.5h2M76 15.5h1M103 15.5h5M40 16.5h2M75 16.5h2M102 16.5h4M26 17.5h1M49 17.5h4M74 17.5h3M111 17.5h1M22 18.5h1M49 18.5h5M31 19.5h1M38 19.5h4M44 19.5h1M75 19.5h2M9 20.5h1M26 20.5h4M43 20.5h4M57 20.5h1M67 20.5h1M71 20.5h1M76 20.5h1M99 20.5h4M24 21.5h1M29 21.5h4M34 21.5h2M51 21.5h3M71 21.5h1M74 21.5h2M96 21.5h3M100 21.5h3M0 22.5h1M25 22.5h1M28 22.5h2M53 22.5h2M72 22.5h2M82 22.5h2M26 23.5h1M36 23.5h3M47 23.5h3M67 23.5h1M71 23.5h2M95 23.5h1M24 24.5h1M38 24.5h4M46 24.5h2M57 24.5h4M67 24.5h1M79 24.5h1M33 25.5h1M36 25.5h2M40 25.5h1M76 25.5h7M115 25.5h3M27 26.5h2M34 26.5h3M51 26.5h4M77 26.5h1M84 26.5h1M46 27.5h1M52 27.5h3M70 27.5h1M83 27.5h1M111 27.5h4M26 28.5h4M43 28.5h1M6 29.5h1M21 29.5h1M35 29.5h1M37 29.5h1M51 29.5h2M55 29.5h1M58 29.5h2M74 29.5h1M81 29.5h2M4 30.5h1M32 30.5h1M34 30.5h1M47 30.5h1M51 30.5h7M86 30.5h2M113 30.5h5M29 31.5h2M32 31.5h2M47 31.5h1M50 31.5h2M65 31.5h3M75 31.5h2M79 31.5h1M86 31.5h2M35 32.5h2M66 32.5h1M70 32.5h1M76 32.5h2M82 32.5h3M51 33.5h4M68 33.5h1M70 33.5h1M78 33.5h7M26 34.5h1M39 34.5h3M75 34.5h2M27 35.5h2M43 35.5h1M75 35.5h2M81 35.5h2M43 36.5h6M59 36.5h2M74 36.5h1M84 36.5h1M22 37.5h2M25 37.5h2M45 37.5h1M48 37.5h1M59 37.5h2M70 37.5h1M75 37.5h1M77 37.5h3M83 37.5h1M94 37.5h1M10 38.5h1M62 38.5h2M68 38.5h1M93 38.5h5M32 39.5h2M41 39.5h1M45 39.5h1M47 39.5h3M63 39.5h1M69 39.5h1M91 39.5h10M31 40.5h1M47 40.5h1M51 40.5h1M65 40.5h1M71 40.5h1M75 40.5h1M91 40.5h1M95 40.5h6M22 41.5h1M35 41.5h1M38 41.5h1M66 41.5h1M74 41.5h1M77 41.5h1M92 41.5h2M2 42.5h1M41 42.5h4M49 42.5h3M67 42.5h1M74 42.5h1M76 42.5h2M92 42.5h1M38 43.5h1M42 43.5h3M47 43.5h2M67 43.5h1M72 43.5h2M24 44.5h1M40 44.5h1M42 44.5h3M48 44.5h4M67 44.5h1M70 44.5h1M74 44.5h1M92 44.5h1M28 45.5h1M45 45.5h2M70 45.5h1M75 45.5h2M27 46.5h2M32 46.5h1M40 46.5h1M47 46.5h2M68 46.5h1M70 46.5h1M77 46.5h2M97 46.5h4M75 47.5h2M80 47.5h1M96 47.5h3M101 47.5h3M41 48.5h4M54 48.5h4M69 48.5h1M28 49.5h2M35 49.5h2M44 49.5h1M48 49.5h3M53 49.5h5M107 49.5h1M31 50.5h1M44 50.5h1M52 50.5h4M72 50.5h1M92 50.5h2M53 51.5h1M55 51.5h3M72 51.5h2M103 51.5h1M110 51.5h4M39 52.5h1M43 52.5h1M53 52.5h1M55 52.5h2M69 52.5h7M91 52.5h2M111 52.5h2M117 52.5h2M23 53.5h1M25 53.5h1M39 53.5h2M42 53.5h1M49 53.5h2M52 53.5h3M91 53.5h3M117 53.5h1M0 54.5h1M33 54.5h1M38 54.5h2M45 54.5h1M51 54.5h2M76 54.5h1M35 55.5h1M45 55.5h1M50 55.5h1M72 55.5h6M88 55.5h1M91 55.5h2M48 56.5h2M67 56.5h1M71 56.5h1M86 56.5h2M91 56.5h2M31 57.5h5M71 57.5h2M88 57.5h4M17 58.5h1M32 58.5h2M36 58.5h1M54 58.5h2M67 58.5h1M71 58.5h2M77 58.5h1M107 58.5h5M27 59.5h1M30 59.5h1M40 59.5h5M48 59.5h1M54 59.5h2M57 59.5h1M67 59.5h1M71 59.5h1M78 59.5h1M102 59.5h1M104 59.5h2M67 60.5h1M71 60.5h1M80 60.5h4M99 60.5h3M17 61.5h1M76 61.5h2M81 61.5h3M99 61.5h1M22 62.5h2M40 62.5h2M46 62.5h1M59 62.5h2M68 62.5h1M71 62.5h4M84 62.5h1M88 62.5h2M100 62.5h1M47 63.5h1M52 63.5h3M59 63.5h1M61 63.5h1M67 63.5h1M74 63.5h1M76 63.5h1M85 63.5h1M90 63.5h2M98 63.5h5M115 63.5h1M36 64.5h3M62 64.5h4M71 64.5h1M76 64.5h2M61 65.5h2M71 65.5h1M76 65.5h3M98 65.5h1M102 65.5h2M111 65.5h4M30 66.5h1M32 66.5h2M52 66.5h1M56 66.5h2M65 66.5h1M99 66.5h1M107 66.5h2M114 66.5h2M33 67.5h1M49 67.5h5M88 67.5h1M104 67.5h3M113 67.5h3M36 68.5h1M39 68.5h1M47 68.5h4M53 68.5h4M75 68.5h1M88 68.5h1M107 68.5h2M28 69.5h1M38 69.5h1M48 69.5h7M59 69.5h2M78 69.5h1M114 69.5h2M26 70.5h1M31 70.5h1M38 70.5h1M45 70.5h1M50 70.5h1M59 70.5h2M67 70.5h2M70 70.5h1M79 70.5h1M26 71.5h1M35 71.5h1M37 71.5h2M43 71.5h1M59 71.5h2M75 71.5h2M25 72.5h1M27 72.5h1M31 72.5h1M39 72.5h2M51 72.5h1M69 72.5h1M81 72.5h2M40 73.5h2M50 73.5h1M53 73.5h2M70 73.5h2M84 73.5h3M22 74.5h3M29 74.5h1M36 74.5h1M64 74.5h2M70 74.5h1M46 75.5h1M65 75.5h2M71 75.5h1M42 76.5h1M67 76.5h1M71 76.5h2M99 76.5h2M24 77.5h1M44 77.5h1M47 77.5h1M96 77.5h1M103 77.5h2M36 78.5h3M96 78.5h1M102 78.5h1M11 79.5h2M16 79.5h1M19 79.5h2M39 79.5h3M107 79.5h3M112 79.5h1M37 80.5h1M39 80.5h1M42 80.5h1M44 80.5h1M95 80.5h1M35 81.5h2M69 81.5h1M75 81.5h4M95 81.5h4M100 81.5h4"/><path stroke="#747474" d="M69 0.5h4M103 0.5h1M69 1.5h4M103 1.5h1M33 2.5h1M42 2.5h2M45 2.5h5M54 2.5h1M66 2.5h1M15 3.5h2M37 3.5h1M41 3.5h9M53 3.5h1M66 3.5h1M75 3.5h1M14 4.5h1M26 4.5h3M36 4.5h2M39 4.5h1M45 4.5h4M53 4.5h1M55 4.5h6M65 4.5h1M67 4.5h3M106 4.5h2M14 5.5h1M17 5.5h1M39 5.5h1M43 5.5h4M50 5.5h1M52 5.5h1M57 5.5h2M62 5.5h1M65 5.5h2M70 5.5h1M17 6.5h1M20 6.5h1M31 6.5h1M40 6.5h1M53 6.5h3M60 6.5h4M74 6.5h1M32 7.5h1M36 7.5h1M71 7.5h1M14 8.5h2M39 8.5h1M54 8.5h2M66 8.5h1M70 8.5h1M85 8.5h1M17 9.5h1M26 9.5h1M29 9.5h1M37 9.5h1M39 9.5h1M64 9.5h1M67 9.5h3M109 9.5h2M4 10.5h1M22 10.5h2M25 10.5h1M30 10.5h1M47 10.5h1M54 10.5h1M64 10.5h1M107 10.5h5M23 11.5h2M27 11.5h1M30 11.5h1M32 11.5h1M34 11.5h2M46 11.5h4M53 11.5h1M65 11.5h2M72 11.5h1M107 11.5h5M8 12.5h2M36 12.5h1M39 12.5h1M64 12.5h2M4 13.5h1M26 13.5h2M49 13.5h7M65 13.5h1M24 14.5h3M44 14.5h1M53 14.5h5M66 14.5h1M71 14.5h1M27 15.5h2M32 15.5h1M36 15.5h6M54 15.5h2M64 15.5h1M75 15.5h1M15 16.5h1M24 16.5h3M39 16.5h1M46 16.5h3M72 16.5h3M25 17.5h1M36 17.5h1M40 17.5h2M48 17.5h1M57 17.5h1M72 17.5h2M23 18.5h4M36 18.5h3M48 18.5h1M54 18.5h3M71 18.5h1M28 19.5h3M36 19.5h2M42 19.5h2M47 19.5h1M54 19.5h5M69 19.5h1M7 20.5h1M10 20.5h2M25 20.5h1M30 20.5h1M32 20.5h8M42 20.5h1M53 20.5h1M72 20.5h4M0 21.5h1M23 21.5h1M36 21.5h3M54 21.5h3M67 21.5h1M72 21.5h2M99 21.5h1M1 22.5h2M23 22.5h1M26 22.5h2M30 22.5h1M43 22.5h5M51 22.5h2M55 22.5h1M70 22.5h2M27 23.5h1M31 23.5h1M35 23.5h1M39 23.5h2M45 23.5h1M50 23.5h1M56 23.5h5M32 24.5h1M35 24.5h1M37 24.5h1M48 24.5h1M50 24.5h2M56 24.5h1M61 24.5h1M66 24.5h1M22 25.5h1M38 25.5h2M41 25.5h1M51 25.5h2M59 25.5h2M66 25.5h1M0 26.5h1M26 26.5h1M37 26.5h1M55 26.5h1M60 26.5h1M67 26.5h1M78 26.5h1M83 26.5h1M0 27.5h1M38 27.5h1M42 27.5h1M51 27.5h1M55 27.5h3M69 27.5h1M79 27.5h4M6 28.5h1M42 28.5h1M62 28.5h2M71 28.5h1M5 29.5h1M26 29.5h1M38 29.5h1M43 29.5h2M49 29.5h2M53 29.5h2M60 29.5h4M73 29.5h1M31 30.5h1M35 30.5h2M46 30.5h1M58 30.5h1M74 30.5h1M84 30.5h2M4 31.5h1M28 31.5h1M31 31.5h1M34 31.5h1M41 31.5h1M46 31.5h1M52 31.5h1M64 31.5h1M68 31.5h1M80 31.5h1M84 31.5h2M2 32.5h2M40 32.5h2M49 32.5h6M65 32.5h1M75 32.5h1M78 32.5h4M20 33.5h1M27 33.5h1M47 33.5h4M55 33.5h1M67 33.5h1M75 33.5h3M20 34.5h1M27 34.5h1M33 34.5h1M38 34.5h1M42 34.5h1M45 34.5h5M54 34.5h1M20 35.5h2M26 35.5h1M42 35.5h1M44 35.5h1M69 35.5h1M26 36.5h1M49 36.5h1M58 36.5h1M69 36.5h1M75 36.5h6M83 36.5h1M24 37.5h1M35 37.5h1M42 37.5h1M47 37.5h1M49 37.5h1M57 37.5h2M61 37.5h3M76 37.5h1M80 37.5h3M95 37.5h2M9 38.5h1M20 38.5h1M43 38.5h2M47 38.5h1M50 38.5h1M61 38.5h1M64 38.5h1M67 38.5h1M30 39.5h1M34 39.5h3M46 39.5h1M50 39.5h1M53 39.5h5M62 39.5h1M64 39.5h5M30 40.5h1M32 40.5h1M35 40.5h1M48 40.5h1M50 40.5h1M52 40.5h2M56 40.5h2M64 40.5h1M72 40.5h3M92 40.5h3M39 41.5h1M65 41.5h1M76 41.5h1M1 42.5h1M19 42.5h1M40 42.5h1M45 42.5h4M52 42.5h1M75 42.5h1M0 43.5h3M24 43.5h1M49 43.5h1M63 43.5h2M66 43.5h1M23 44.5h1M25 44.5h2M45 44.5h3M52 44.5h2M22 45.5h1M30 45.5h1M33 45.5h1M42 45.5h3M54 45.5h1M67 45.5h1M71 45.5h1M74 45.5h1M8 46.5h1M26 46.5h1M33 46.5h4M49 46.5h1M71 46.5h1M76 46.5h1M45 47.5h2M71 47.5h1M73 47.5h2M77 47.5h3M99 47.5h2M40 48.5h1M45 48.5h1M52 48.5h2M58 48.5h3M68 48.5h1M70 48.5h2M24 49.5h1M37 49.5h1M43 49.5h1M51 49.5h2M58 49.5h3M70 49.5h1M0 50.5h1M14 50.5h1M43 50.5h1M45 50.5h2M51 50.5h1M56 50.5h4M71 50.5h1M33 51.5h7M42 51.5h2M51 51.5h2M58 51.5h1M64 51.5h3M71 51.5h1M37 52.5h2M52 52.5h1M57 52.5h1M68 52.5h1M0 53.5h1M38 53.5h1M43 53.5h2M48 53.5h1M55 53.5h1M118 53.5h1M44 54.5h1M53 54.5h1M10 55.5h2M32 55.5h3M36 55.5h1M51 55.5h2M65 55.5h2M89 55.5h2M22 56.5h2M31 56.5h1M44 56.5h4M50 56.5h1M72 56.5h1M88 56.5h3M30 57.5h1M36 57.5h1M49 57.5h2M67 57.5h1M15 58.5h2M18 58.5h1M26 58.5h2M30 58.5h2M56 58.5h2M66 58.5h1M73 58.5h2M76 58.5h1M26 59.5h1M31 59.5h1M36 59.5h4M45 59.5h3M49 59.5h1M66 59.5h1M72 59.5h2M77 59.5h1M103 59.5h1M26 60.5h2M48 60.5h2M78 60.5h2M16 61.5h1M48 61.5h2M68 61.5h8M20 62.5h2M24 62.5h2M31 62.5h1M36 62.5h1M42 62.5h1M45 62.5h1M47 62.5h1M51 62.5h2M58 62.5h1M61 62.5h2M67 62.5h1M75 62.5h1M85 62.5h3M6 63.5h1M35 63.5h3M48 63.5h1M50 63.5h2M55 63.5h1M58 63.5h1M62 63.5h1M64 63.5h3M75 63.5h1M86 63.5h4M51 64.5h8M61 64.5h1M72 64.5h4M98 64.5h1M22 65.5h3M29 65.5h1M40 65.5h2M46 65.5h2M58 65.5h3M72 65.5h4M99 65.5h3M22 66.5h1M29 66.5h1M34 66.5h1M47 66.5h1M53 66.5h3M58 66.5h1M64 66.5h1M109 66.5h1M112 66.5h2M30 67.5h1M34 67.5h1M38 67.5h1M48 67.5h1M54 67.5h3M66 67.5h7M107 67.5h6M16 68.5h1M46 68.5h1M57 68.5h1M73 68.5h2M17 69.5h2M25 69.5h3M29 69.5h1M33 69.5h2M37 69.5h1M55 69.5h4M61 69.5h1M67 69.5h3M77 69.5h1M27 70.5h1M30 70.5h1M32 70.5h3M37 70.5h1M39 70.5h1M44 70.5h1M51 70.5h1M58 70.5h1M61 70.5h1M65 70.5h2M71 70.5h2M77 70.5h2M25 71.5h1M27 71.5h1M39 71.5h1M42 71.5h1M44 71.5h1M61 71.5h1M66 71.5h1M24 72.5h1M30 72.5h1M38 72.5h1M41 72.5h1M49 72.5h2M68 72.5h1M6 73.5h1M10 73.5h2M39 73.5h1M49 73.5h1M63 73.5h1M69 73.5h1M0 74.5h3M25 74.5h1M28 74.5h1M30 74.5h1M45 74.5h2M51 74.5h2M63 74.5h1M71 74.5h1M47 75.5h3M64 75.5h1M72 75.5h1M27 76.5h5M40 76.5h1M43 76.5h4M57 76.5h5M66 76.5h1M57 77.5h4M67 77.5h1M97 77.5h1M101 77.5h2M9 78.5h1M35 78.5h1M42 78.5h1M44 78.5h1M49 78.5h1M72 78.5h1M97 78.5h2M101 78.5h1M15 79.5h1M34 79.5h1M37 79.5h1M45 79.5h1M48 79.5h2M62 79.5h2M110 79.5h2M40 80.5h2M60 80.5h3M71 80.5h2M34 81.5h1M41 81.5h5M54 81.5h1M68 81.5h1M99 81.5h1"/><path stroke="#797979" d="M68 0.5h1M92 0.5h5M102 0.5h1M115 0.5h1M68 1.5h1M92 1.5h5M102 1.5h1M115 1.5h1M22 2.5h2M31 2.5h2M41 2.5h1M50 2.5h1M52 2.5h2M55 2.5h3M65 2.5h1M34 3.5h1M54 3.5h7M64 3.5h2M15 4.5h3M25 4.5h1M43 4.5h2M54 4.5h1M61 4.5h2M64 4.5h1M13 5.5h1M18 5.5h4M28 5.5h1M42 5.5h1M47 5.5h3M53 5.5h4M63 5.5h2M67 5.5h1M29 6.5h2M42 6.5h1M48 6.5h5M56 6.5h4M64 6.5h1M72 6.5h2M2 7.5h1M15 7.5h1M22 7.5h1M26 7.5h6M39 7.5h1M50 7.5h8M62 7.5h6M70 7.5h1M16 8.5h1M33 8.5h1M42 8.5h1M47 8.5h1M53 8.5h1M56 8.5h5M64 8.5h2M67 8.5h1M40 9.5h1M42 9.5h1M63 9.5h1M1 10.5h1M20 10.5h2M27 10.5h1M31 10.5h1M36 10.5h1M48 10.5h2M55 10.5h1M63 10.5h1M22 11.5h1M25 11.5h2M31 11.5h1M36 11.5h1M45 11.5h1M50 11.5h1M52 11.5h1M58 11.5h1M63 11.5h2M10 12.5h1M31 12.5h1M35 12.5h1M43 12.5h3M50 12.5h1M58 12.5h1M63 12.5h1M9 13.5h2M25 13.5h1M28 13.5h1M48 13.5h1M58 13.5h1M64 13.5h1M23 14.5h1M43 14.5h1M47 14.5h1M50 14.5h1M64 14.5h2M72 14.5h4M15 15.5h1M26 15.5h1M35 15.5h1M48 15.5h2M56 15.5h2M61 15.5h1M65 15.5h1M73 15.5h2M16 16.5h1M27 16.5h2M33 16.5h1M38 16.5h1M49 16.5h2M61 16.5h5M71 16.5h1M23 17.5h2M35 17.5h1M37 17.5h3M47 17.5h1M53 17.5h1M55 17.5h2M58 17.5h1M71 17.5h1M16 18.5h3M21 18.5h1M35 18.5h1M39 18.5h1M46 18.5h2M57 18.5h1M25 19.5h1M32 19.5h1M48 19.5h1M53 19.5h1M59 19.5h1M24 20.5h1M31 20.5h1M40 20.5h2M47 20.5h1M58 20.5h1M66 20.5h1M22 21.5h1M43 21.5h2M50 21.5h1M57 21.5h1M31 22.5h1M35 22.5h3M48 22.5h3M69 22.5h1M0 23.5h1M8 23.5h1M25 23.5h1M28 23.5h3M32 23.5h1M34 23.5h1M41 23.5h1M51 23.5h5M61 23.5h2M64 23.5h3M25 24.5h1M36 24.5h1M45 24.5h1M49 24.5h1M52 24.5h2M55 24.5h1M65 24.5h1M21 25.5h1M23 25.5h2M42 25.5h1M45 25.5h2M50 25.5h1M57 25.5h2M65 25.5h1M1 26.5h1M3 26.5h2M33 26.5h1M38 26.5h5M56 26.5h4M61 26.5h2M66 26.5h1M79 26.5h4M22 27.5h1M26 27.5h1M37 27.5h1M39 27.5h1M68 27.5h1M38 28.5h1M44 28.5h1M51 28.5h8M61 28.5h1M64 28.5h1M70 28.5h1M4 29.5h1M7 29.5h1M20 29.5h1M23 29.5h1M34 29.5h1M39 29.5h1M42 29.5h1M45 29.5h1M48 29.5h1M64 29.5h2M71 29.5h2M22 30.5h1M37 30.5h2M59 30.5h1M66 30.5h5M73 30.5h1M82 30.5h2M35 31.5h1M39 31.5h2M42 31.5h4M63 31.5h1M69 31.5h1M74 31.5h1M81 31.5h3M4 32.5h1M34 32.5h1M37 32.5h1M39 32.5h1M48 32.5h1M55 32.5h1M63 32.5h2M71 32.5h1M74 32.5h1M13 33.5h1M19 33.5h1M26 33.5h1M28 33.5h1M46 33.5h1M62 33.5h5M71 33.5h1M73 33.5h2M13 34.5h2M19 34.5h1M25 34.5h1M28 34.5h1M34 34.5h1M43 34.5h2M50 34.5h1M52 34.5h2M55 34.5h1M67 34.5h1M22 35.5h1M29 35.5h1M41 35.5h1M45 35.5h1M54 35.5h1M42 36.5h1M57 36.5h1M61 36.5h1M81 36.5h2M12 37.5h1M21 37.5h1M27 37.5h1M34 37.5h1M36 37.5h1M46 37.5h1M56 37.5h1M64 37.5h1M69 37.5h1M3 38.5h3M11 38.5h1M19 38.5h1M36 38.5h1M57 38.5h4M65 38.5h2M26 39.5h2M40 39.5h1M51 39.5h2M58 39.5h1M61 39.5h1M33 40.5h2M36 40.5h1M42 40.5h1M49 40.5h1M54 40.5h2M63 40.5h1M7 41.5h1M16 41.5h2M21 41.5h1M23 41.5h1M28 41.5h2M34 41.5h1M40 41.5h1M48 41.5h3M53 41.5h2M64 41.5h1M75 41.5h1M0 42.5h1M7 42.5h1M29 42.5h1M39 42.5h1M66 42.5h1M17 43.5h1M25 43.5h1M50 43.5h1M62 43.5h1M65 43.5h1M19 44.5h4M31 44.5h3M54 44.5h1M60 44.5h7M71 44.5h1M73 44.5h1M0 45.5h1M7 45.5h3M23 45.5h1M27 45.5h1M31 45.5h2M34 45.5h1M41 45.5h1M47 45.5h1M53 45.5h1M60 45.5h3M73 45.5h1M24 46.5h2M39 46.5h1M50 46.5h1M60 46.5h3M67 46.5h1M72 46.5h4M15 47.5h2M22 47.5h1M43 47.5h2M47 47.5h2M50 47.5h3M59 47.5h2M67 47.5h1M72 47.5h1M0 48.5h1M39 48.5h1M46 48.5h1M51 48.5h1M61 48.5h1M67 48.5h1M72 48.5h1M23 49.5h1M25 49.5h3M30 49.5h1M34 49.5h1M61 49.5h1M13 50.5h1M25 50.5h2M38 50.5h1M47 50.5h4M60 50.5h7M8 51.5h1M32 51.5h1M40 51.5h2M44 51.5h1M59 51.5h5M67 51.5h4M26 52.5h2M36 52.5h1M44 52.5h1M49 52.5h3M58 52.5h1M62 52.5h6M20 53.5h3M33 53.5h5M45 53.5h3M56 53.5h1M69 53.5h7M1 54.5h1M40 54.5h1M42 54.5h2M54 54.5h2M73 54.5h3M0 55.5h1M12 55.5h1M22 55.5h1M30 55.5h2M41 55.5h2M44 55.5h1M53 55.5h2M59 55.5h3M64 55.5h1M24 56.5h1M30 56.5h1M32 56.5h1M41 56.5h3M51 56.5h5M60 56.5h7M18 57.5h1M29 57.5h1M40 57.5h2M48 57.5h1M51 57.5h6M59 57.5h3M66 57.5h1M19 58.5h1M24 58.5h2M28 58.5h2M41 58.5h1M48 58.5h2M53 58.5h1M58 58.5h2M64 58.5h2M75 58.5h1M22 59.5h1M25 59.5h1M35 59.5h1M53 59.5h1M58 59.5h1M63 59.5h3M74 59.5h1M76 59.5h1M0 60.5h2M28 60.5h5M35 60.5h4M47 60.5h1M50 60.5h1M65 60.5h2M72 60.5h2M77 60.5h1M0 61.5h1M14 61.5h2M18 61.5h1M24 61.5h1M43 61.5h3M47 61.5h1M50 61.5h2M65 61.5h3M16 62.5h1M19 62.5h1M26 62.5h1M39 62.5h1M43 62.5h2M50 62.5h1M53 62.5h5M63 62.5h2M7 63.5h2M29 63.5h6M38 63.5h1M45 63.5h1M49 63.5h1M56 63.5h2M63 63.5h1M15 64.5h2M24 64.5h1M35 64.5h1M59 64.5h2M99 64.5h5M21 65.5h1M28 65.5h1M48 65.5h1M55 65.5h3M0 66.5h1M23 66.5h1M59 66.5h1M63 66.5h1M110 66.5h2M0 67.5h1M37 67.5h1M39 67.5h1M47 67.5h1M57 67.5h1M65 67.5h1M10 68.5h1M15 68.5h1M26 68.5h4M40 68.5h1M45 68.5h1M58 68.5h2M72 68.5h1M4 69.5h1M23 69.5h2M30 69.5h1M32 69.5h1M35 69.5h2M39 69.5h1M47 69.5h1M62 69.5h5M70 69.5h1M76 69.5h1M25 70.5h1M28 70.5h1M35 70.5h2M43 70.5h1M57 70.5h1M62 70.5h3M73 70.5h2M76 70.5h1M8 71.5h1M24 71.5h1M28 71.5h2M34 71.5h1M40 71.5h2M47 71.5h1M52 71.5h1M58 71.5h1M62 71.5h4M23 72.5h1M37 72.5h1M47 72.5h2M52 72.5h1M61 72.5h4M67 72.5h1M0 73.5h1M9 73.5h1M22 73.5h1M26 73.5h1M38 73.5h1M42 73.5h1M47 73.5h2M55 73.5h1M62 73.5h1M64 73.5h1M68 73.5h1M11 74.5h1M27 74.5h1M31 74.5h1M35 74.5h1M37 74.5h1M44 74.5h1M47 74.5h1M50 74.5h1M53 74.5h1M62 74.5h1M72 74.5h1M0 75.5h2M12 75.5h1M31 75.5h1M45 75.5h1M57 75.5h7M12 76.5h2M56 76.5h1M62 76.5h4M23 77.5h1M25 77.5h1M28 77.5h2M43 77.5h1M48 77.5h1M56 77.5h1M61 77.5h1M98 77.5h3M10 78.5h1M39 78.5h1M50 78.5h1M60 78.5h4M69 78.5h3M99 78.5h2M17 79.5h2M21 79.5h1M27 79.5h2M33 79.5h1M35 79.5h2M47 79.5h1M54 79.5h1M60 79.5h2M64 79.5h1M72 79.5h1M8 80.5h1M31 80.5h1M36 80.5h1M54 80.5h1M59 80.5h1M63 80.5h1M70 80.5h1M0 81.5h1M33 81.5h1M40 81.5h1M46 81.5h1M53 81.5h1M55 81.5h1M67 81.5h1"/><path stroke="#7d7d7d" d="M31 0.5h1M40 0.5h2M67 0.5h1M97 0.5h2M100 0.5h2M31 1.5h1M40 1.5h2M67 1.5h1M97 1.5h2M100 1.5h2M21 2.5h1M24 2.5h1M34 2.5h1M40 2.5h1M51 2.5h1M58 2.5h2M63 2.5h2M0 3.5h3M14 3.5h1M17 3.5h1M21 3.5h1M27 3.5h1M33 3.5h1M35 3.5h2M61 3.5h3M13 4.5h1M18 4.5h1M29 4.5h1M35 4.5h1M40 4.5h1M42 4.5h1M63 4.5h1M27 5.5h1M40 5.5h2M68 5.5h2M16 6.5h1M32 6.5h1M35 6.5h2M47 6.5h1M65 6.5h1M70 6.5h2M0 7.5h2M16 7.5h1M23 7.5h1M46 7.5h4M58 7.5h4M68 7.5h2M4 8.5h3M29 8.5h4M34 8.5h1M37 8.5h1M40 8.5h2M52 8.5h1M61 8.5h3M68 8.5h2M9 9.5h2M15 9.5h1M18 9.5h1M25 9.5h1M30 9.5h1M36 9.5h1M41 9.5h1M50 9.5h1M54 9.5h6M61 9.5h2M0 10.5h1M19 10.5h1M26 10.5h1M35 10.5h1M42 10.5h1M53 10.5h1M56 10.5h2M62 10.5h1M2 11.5h1M37 11.5h2M51 11.5h1M62 11.5h1M4 12.5h1M7 12.5h1M11 12.5h1M17 12.5h2M28 12.5h3M32 12.5h1M34 12.5h1M42 12.5h1M46 12.5h4M62 12.5h1M3 13.5h1M11 13.5h1M22 13.5h3M43 13.5h1M62 13.5h2M4 14.5h3M31 14.5h1M58 14.5h1M63 14.5h1M9 15.5h2M16 15.5h1M34 15.5h1M58 15.5h1M71 15.5h2M14 16.5h1M23 16.5h1M29 16.5h2M32 16.5h1M34 16.5h1M45 16.5h1M51 16.5h4M59 16.5h2M66 16.5h2M70 16.5h1M7 17.5h2M22 17.5h1M27 17.5h1M31 17.5h1M46 17.5h1M54 17.5h1M59 17.5h8M15 18.5h1M19 18.5h1M27 18.5h1M34 18.5h1M45 18.5h1M58 18.5h1M20 19.5h1M35 19.5h1M49 19.5h1M52 19.5h1M60 19.5h1M68 19.5h1M12 20.5h1M52 20.5h1M65 20.5h1M1 21.5h1M39 21.5h1M45 21.5h1M66 21.5h1M18 22.5h5M38 22.5h2M42 22.5h1M56 22.5h1M67 22.5h2M1 23.5h1M14 23.5h1M33 23.5h1M42 23.5h1M44 23.5h1M63 23.5h1M23 24.5h1M28 24.5h4M42 24.5h1M54 24.5h1M62 24.5h1M64 24.5h1M0 25.5h1M25 25.5h1M32 25.5h1M44 25.5h1M47 25.5h3M53 25.5h1M55 25.5h2M61 25.5h1M64 25.5h1M2 26.5h1M25 26.5h1M43 26.5h4M50 26.5h1M63 26.5h3M21 27.5h1M23 27.5h1M27 27.5h2M33 27.5h4M47 27.5h1M58 27.5h1M62 27.5h3M67 27.5h1M2 28.5h1M25 28.5h1M30 28.5h1M37 28.5h1M39 28.5h3M59 28.5h2M65 28.5h1M69 28.5h1M12 29.5h1M25 29.5h1M27 29.5h1M31 29.5h3M40 29.5h2M46 29.5h2M66 29.5h5M3 30.5h1M5 30.5h1M23 30.5h1M30 30.5h1M39 30.5h1M45 30.5h1M60 30.5h6M71 30.5h2M3 31.5h1M14 31.5h1M20 31.5h1M27 31.5h1M36 31.5h3M53 31.5h1M70 31.5h1M73 31.5h1M8 32.5h1M22 32.5h1M33 32.5h1M38 32.5h1M42 32.5h1M47 32.5h1M56 32.5h1M73 32.5h1M0 33.5h1M8 33.5h1M14 33.5h1M29 33.5h1M33 33.5h3M45 33.5h1M56 33.5h1M61 33.5h1M72 33.5h1M18 34.5h1M21 34.5h1M29 34.5h1M32 34.5h1M37 34.5h1M51 34.5h1M56 34.5h1M63 34.5h1M13 35.5h2M33 35.5h1M46 35.5h8M55 35.5h1M61 35.5h3M68 35.5h1M27 36.5h1M33 36.5h2M38 36.5h4M50 36.5h1M56 36.5h1M62 36.5h1M68 36.5h1M4 37.5h3M13 37.5h1M28 37.5h1M50 37.5h1M55 37.5h1M65 37.5h1M67 37.5h2M2 38.5h1M6 38.5h1M12 38.5h1M21 38.5h1M35 38.5h1M45 38.5h1M51 38.5h1M53 38.5h4M0 39.5h1M28 39.5h2M37 39.5h1M39 39.5h1M59 39.5h2M2 40.5h1M22 40.5h1M29 40.5h1M58 40.5h1M8 41.5h1M14 41.5h2M18 41.5h1M27 41.5h1M30 41.5h4M47 41.5h1M51 41.5h2M55 41.5h2M8 42.5h1M18 42.5h1M23 42.5h1M28 42.5h1M30 42.5h1M36 42.5h3M53 42.5h1M62 42.5h4M16 43.5h1M18 43.5h1M23 43.5h1M26 43.5h1M37 43.5h1M51 43.5h2M1 44.5h1M17 44.5h2M39 44.5h1M72 44.5h1M1 45.5h1M6 45.5h1M25 45.5h2M35 45.5h1M40 45.5h1M48 45.5h1M55 45.5h1M59 45.5h1M63 45.5h4M72 45.5h1M7 46.5h1M17 46.5h2M22 46.5h2M37 46.5h1M53 46.5h2M59 46.5h1M63 46.5h2M66 46.5h1M2 47.5h1M14 47.5h1M17 47.5h1M28 47.5h2M33 47.5h4M42 47.5h1M49 47.5h1M53 47.5h6M61 47.5h1M36 48.5h3M47 48.5h2M50 48.5h1M62 48.5h1M13 49.5h1M32 49.5h2M38 49.5h1M62 49.5h1M69 49.5h1M15 50.5h1M20 50.5h5M32 50.5h1M37 50.5h1M42 50.5h1M67 50.5h1M70 50.5h1M24 51.5h1M30 51.5h2M45 51.5h1M50 51.5h1M35 52.5h1M48 52.5h1M59 52.5h1M61 52.5h1M26 53.5h1M32 53.5h1M57 53.5h1M63 53.5h6M32 54.5h1M34 54.5h1M41 54.5h1M56 54.5h1M63 54.5h10M13 55.5h1M43 55.5h1M55 55.5h2M58 55.5h1M62 55.5h2M29 56.5h1M33 56.5h1M39 56.5h2M56 56.5h4M0 57.5h1M13 57.5h1M17 57.5h1M27 57.5h2M37 57.5h1M39 57.5h1M57 57.5h2M62 57.5h4M0 58.5h1M13 58.5h2M20 58.5h1M40 58.5h1M47 58.5h1M60 58.5h4M8 59.5h3M23 59.5h1M32 59.5h1M50 59.5h1M52 59.5h1M62 59.5h1M75 59.5h1M22 60.5h1M25 60.5h1M33 60.5h2M39 60.5h1M43 60.5h2M51 60.5h1M56 60.5h2M64 60.5h1M74 60.5h3M1 61.5h2M7 61.5h2M23 61.5h1M33 61.5h2M37 61.5h3M42 61.5h1M46 61.5h1M57 61.5h8M17 62.5h2M35 62.5h1M37 62.5h1M48 62.5h2M65 62.5h2M9 63.5h1M25 63.5h4M20 64.5h1M25 64.5h1M31 64.5h1M50 64.5h1M20 65.5h1M30 65.5h1M42 65.5h1M45 65.5h1M49 65.5h6M21 66.5h1M24 66.5h1M28 66.5h1M35 66.5h1M46 66.5h1M60 66.5h3M1 67.5h1M29 67.5h1M35 67.5h2M46 67.5h1M58 67.5h1M64 67.5h1M4 68.5h1M11 68.5h1M30 68.5h2M41 68.5h1M60 68.5h12M8 69.5h1M22 69.5h1M31 69.5h1M71 69.5h1M74 69.5h2M19 70.5h6M29 70.5h1M42 70.5h1M52 70.5h1M56 70.5h1M75 70.5h1M0 71.5h1M30 71.5h4M45 71.5h1M57 71.5h1M22 72.5h1M28 72.5h2M42 72.5h1M46 72.5h1M60 72.5h1M65 72.5h2M7 73.5h2M12 73.5h1M18 73.5h1M27 73.5h1M36 73.5h2M46 73.5h1M56 73.5h1M65 73.5h1M67 73.5h1M26 74.5h1M38 74.5h1M43 74.5h1M54 74.5h4M11 75.5h1M29 75.5h2M32 75.5h1M37 75.5h3M50 75.5h1M26 76.5h1M47 76.5h1M51 76.5h5M14 77.5h1M22 77.5h1M26 77.5h2M30 77.5h2M42 77.5h1M49 77.5h2M55 77.5h1M62 77.5h1M8 78.5h1M23 78.5h2M34 78.5h1M40 78.5h2M48 78.5h1M51 78.5h4M58 78.5h2M64 78.5h1M68 78.5h1M26 79.5h1M46 79.5h1M50 79.5h1M53 79.5h1M65 79.5h1M71 79.5h1M7 80.5h1M35 80.5h1M45 80.5h1M48 80.5h2M53 80.5h1M55 80.5h1M64 80.5h2M67 80.5h3M4 81.5h1M8 81.5h5M15 81.5h1M20 81.5h1M37 81.5h1M56 81.5h1M61 81.5h6"/><path stroke="#828282" d="M29 0.5h2M99 0.5h1M29 1.5h2M99 1.5h1M30 2.5h1M39 2.5h1M60 2.5h3M18 3.5h1M32 3.5h1M2 4.5h1M19 4.5h1M23 4.5h2M41 4.5h1M0 5.5h1M10 5.5h1M12 5.5h1M22 5.5h1M2 6.5h1M21 6.5h1M23 6.5h2M28 6.5h1M34 6.5h1M37 6.5h1M39 6.5h1M43 6.5h4M66 6.5h4M3 7.5h1M25 7.5h1M45 7.5h1M0 8.5h1M13 8.5h1M17 8.5h1M19 8.5h3M28 8.5h1M48 8.5h4M22 9.5h2M34 9.5h2M53 9.5h1M60 9.5h1M32 10.5h1M37 10.5h1M50 10.5h1M52 10.5h1M3 11.5h1M21 11.5h1M44 11.5h1M59 11.5h1M61 11.5h1M0 12.5h1M3 12.5h1M22 12.5h1M26 12.5h2M33 12.5h1M40 12.5h1M59 12.5h1M61 12.5h1M2 13.5h1M5 13.5h1M8 13.5h1M29 13.5h1M44 13.5h1M47 13.5h1M59 13.5h1M61 13.5h1M2 14.5h2M22 14.5h1M42 14.5h1M48 14.5h2M62 14.5h1M0 15.5h1M14 15.5h1M20 15.5h3M33 15.5h1M59 15.5h2M66 15.5h5M13 16.5h1M31 16.5h1M37 16.5h1M42 16.5h1M55 16.5h4M68 16.5h2M4 17.5h3M16 17.5h1M32 17.5h1M34 17.5h1M42 17.5h1M45 17.5h1M67 17.5h1M70 17.5h1M12 18.5h1M14 18.5h1M20 18.5h1M33 18.5h1M40 18.5h1M44 18.5h1M59 18.5h1M62 18.5h2M70 18.5h1M19 19.5h1M21 19.5h1M24 19.5h1M34 19.5h1M50 19.5h2M61 19.5h2M67 19.5h1M48 20.5h4M59 20.5h1M64 20.5h1M7 21.5h2M21 21.5h1M42 21.5h1M46 21.5h2M49 21.5h1M58 21.5h1M65 21.5h1M3 22.5h1M32 22.5h1M34 22.5h1M40 22.5h2M66 22.5h1M2 23.5h1M7 23.5h1M24 23.5h1M43 23.5h1M9 24.5h2M44 24.5h1M63 24.5h1M10 25.5h1M19 25.5h2M26 25.5h1M43 25.5h1M54 25.5h1M62 25.5h2M24 26.5h1M29 26.5h1M1 27.5h1M25 27.5h1M29 27.5h1M32 27.5h1M40 27.5h2M50 27.5h1M65 27.5h2M36 28.5h1M45 28.5h1M66 28.5h3M0 29.5h1M13 29.5h1M30 29.5h1M10 30.5h1M16 30.5h1M21 30.5h1M24 30.5h1M40 30.5h2M44 30.5h1M5 31.5h1M13 31.5h1M15 31.5h1M21 31.5h1M54 31.5h4M71 31.5h1M1 32.5h1M23 32.5h1M26 32.5h4M46 32.5h1M57 32.5h1M62 32.5h1M72 32.5h1M7 33.5h1M9 33.5h4M18 33.5h1M30 33.5h1M32 33.5h1M36 33.5h1M59 33.5h2M22 34.5h3M30 34.5h1M35 34.5h2M62 34.5h1M64 34.5h3M19 35.5h1M34 35.5h1M40 35.5h1M56 35.5h5M64 35.5h1M18 36.5h1M35 36.5h1M37 36.5h1M51 36.5h1M63 36.5h1M67 36.5h1M7 37.5h1M11 37.5h1M14 37.5h2M33 37.5h1M41 37.5h1M53 37.5h2M66 37.5h1M7 38.5h2M13 38.5h1M18 38.5h1M42 38.5h1M46 38.5h1M52 38.5h1M1 39.5h1M12 39.5h1M20 39.5h1M25 39.5h1M38 39.5h1M28 40.5h1M37 40.5h1M62 40.5h1M6 41.5h1M24 41.5h3M41 41.5h1M46 41.5h1M57 41.5h2M62 41.5h2M6 42.5h1M31 42.5h2M34 42.5h2M54 42.5h1M60 42.5h2M27 43.5h1M53 43.5h2M61 43.5h1M0 44.5h1M16 44.5h1M27 44.5h1M55 44.5h1M59 44.5h1M2 45.5h1M10 45.5h1M21 45.5h1M24 45.5h1M36 45.5h1M49 45.5h2M52 45.5h1M0 46.5h1M16 46.5h1M19 46.5h1M21 46.5h1M38 46.5h1M51 46.5h2M55 46.5h1M58 46.5h1M65 46.5h1M6 47.5h1M13 47.5h1M30 47.5h3M37 47.5h1M40 47.5h2M62 47.5h2M1 48.5h1M7 48.5h2M21 48.5h3M35 48.5h1M49 48.5h1M63 48.5h4M0 49.5h1M6 49.5h1M22 49.5h1M31 49.5h1M42 49.5h1M63 49.5h6M8 50.5h1M27 50.5h1M30 50.5h1M36 50.5h1M39 50.5h1M68 50.5h2M25 51.5h5M49 51.5h1M25 52.5h1M28 52.5h1M34 52.5h1M60 52.5h1M1 53.5h1M7 53.5h2M19 53.5h1M27 53.5h5M58 53.5h1M61 53.5h2M7 54.5h1M57 54.5h6M14 55.5h1M21 55.5h1M29 55.5h1M40 55.5h1M57 55.5h1M38 56.5h1M12 57.5h1M14 57.5h1M22 57.5h2M26 57.5h1M42 57.5h1M47 57.5h1M12 58.5h1M37 58.5h1M42 58.5h1M50 58.5h1M52 58.5h1M11 59.5h1M24 59.5h1M34 59.5h1M51 59.5h1M59 59.5h1M61 59.5h1M10 60.5h1M13 60.5h1M21 60.5h1M23 60.5h1M42 60.5h1M45 60.5h2M52 60.5h2M55 60.5h1M58 60.5h1M62 60.5h2M22 61.5h1M25 61.5h1M35 61.5h2M52 61.5h1M15 62.5h1M30 62.5h1M32 62.5h1M38 62.5h1M5 63.5h1M10 63.5h1M24 63.5h1M19 64.5h1M26 64.5h1M30 64.5h1M48 64.5h2M7 65.5h1M11 65.5h2M25 65.5h1M33 65.5h4M39 65.5h1M13 66.5h2M36 66.5h3M6 67.5h1M40 67.5h1M45 67.5h1M59 67.5h1M62 67.5h2M0 68.5h1M3 68.5h1M9 68.5h1M12 68.5h1M14 68.5h1M17 68.5h1M22 68.5h1M25 68.5h1M35 68.5h1M42 68.5h1M44 68.5h1M5 69.5h1M7 69.5h1M9 69.5h1M19 69.5h1M21 69.5h1M40 69.5h1M43 69.5h4M72 69.5h2M18 70.5h1M40 70.5h1M53 70.5h1M9 71.5h1M17 71.5h1M46 71.5h1M4 72.5h1M36 72.5h1M45 72.5h1M59 72.5h1M5 73.5h1M31 73.5h5M45 73.5h1M66 73.5h1M10 74.5h1M12 74.5h1M21 74.5h1M32 74.5h1M48 74.5h2M58 74.5h1M61 74.5h1M5 75.5h1M10 75.5h1M13 75.5h1M20 75.5h1M33 75.5h1M35 75.5h2M40 75.5h1M44 75.5h1M51 75.5h1M56 75.5h1M14 76.5h1M20 76.5h1M32 76.5h1M39 76.5h1M48 76.5h1M50 76.5h1M0 77.5h1M13 77.5h1M15 77.5h1M32 77.5h2M38 77.5h2M41 77.5h1M51 77.5h4M63 77.5h4M16 78.5h1M22 78.5h1M29 78.5h1M55 78.5h3M65 78.5h1M67 78.5h1M8 79.5h1M13 79.5h1M22 79.5h1M29 79.5h1M51 79.5h2M55 79.5h1M59 79.5h1M66 79.5h2M70 79.5h1M11 80.5h1M24 80.5h3M30 80.5h1M32 80.5h1M47 80.5h1M50 80.5h1M52 80.5h1M56 80.5h1M58 80.5h1M66 80.5h1M26 81.5h2M32 81.5h1M39 81.5h1M47 81.5h1M52 81.5h1M57 81.5h4"/><path stroke="#868686" d="M49 0.5h6M66 0.5h1M49 1.5h6M66 1.5h1M20 2.5h1M25 2.5h1M35 2.5h1M38 2.5h1M8 3.5h1M13 3.5h1M31 3.5h1M20 4.5h3M30 4.5h1M34 4.5h1M1 5.5h2M9 5.5h1M11 5.5h1M3 6.5h1M14 6.5h2M22 6.5h1M33 6.5h1M6 7.5h1M14 7.5h1M24 7.5h1M40 7.5h1M44 7.5h1M18 8.5h1M22 8.5h3M35 8.5h2M0 9.5h1M8 9.5h1M19 9.5h1M21 9.5h1M24 9.5h1M31 9.5h3M18 10.5h1M38 10.5h1M51 10.5h1M58 10.5h1M61 10.5h1M39 11.5h1M60 11.5h1M1 12.5h1M5 12.5h2M12 12.5h1M16 12.5h1M19 12.5h1M21 12.5h1M23 12.5h1M41 12.5h1M60 12.5h1M0 13.5h2M7 13.5h1M34 13.5h2M45 13.5h1M60 13.5h1M10 14.5h1M18 14.5h4M59 14.5h1M61 14.5h1M13 15.5h1M17 16.5h1M22 16.5h1M35 16.5h1M44 16.5h1M3 17.5h1M33 17.5h1M68 17.5h2M11 18.5h1M13 18.5h1M28 18.5h1M32 18.5h1M41 18.5h3M60 18.5h2M64 18.5h1M2 19.5h1M13 19.5h1M22 19.5h2M33 19.5h1M63 19.5h2M66 19.5h1M4 20.5h3M60 20.5h4M2 21.5h1M11 21.5h2M17 21.5h2M40 21.5h1M48 21.5h1M64 21.5h1M13 22.5h1M17 22.5h1M33 22.5h1M57 22.5h2M62 22.5h4M3 23.5h1M9 23.5h1M13 23.5h1M15 23.5h1M23 23.5h1M0 24.5h1M11 24.5h1M20 24.5h1M26 24.5h2M43 24.5h1M9 25.5h1M18 25.5h1M27 25.5h1M18 26.5h1M47 26.5h1M20 27.5h1M24 27.5h1M30 27.5h1M59 27.5h1M61 27.5h1M0 28.5h2M5 28.5h1M12 28.5h1M15 28.5h1M20 28.5h5M31 28.5h1M35 28.5h1M50 28.5h1M19 29.5h1M24 29.5h1M0 30.5h2M6 30.5h1M15 30.5h1M25 30.5h1M29 30.5h1M42 30.5h2M7 31.5h1M22 31.5h1M26 31.5h1M62 31.5h1M72 31.5h1M13 32.5h1M24 32.5h2M32 32.5h1M43 32.5h1M45 32.5h1M5 33.5h2M25 33.5h1M31 33.5h1M37 33.5h1M44 33.5h1M57 33.5h2M9 34.5h2M17 34.5h1M31 34.5h1M57 34.5h2M61 34.5h1M4 35.5h1M23 35.5h1M25 35.5h1M39 35.5h1M67 35.5h1M0 36.5h1M8 36.5h1M19 36.5h4M36 36.5h1M52 36.5h2M55 36.5h1M64 36.5h1M3 37.5h1M8 37.5h1M16 37.5h1M20 37.5h1M29 37.5h1M51 37.5h2M14 38.5h1M22 38.5h1M11 39.5h1M13 39.5h1M0 40.5h2M11 40.5h1M27 40.5h1M41 40.5h1M59 40.5h1M61 40.5h1M9 41.5h1M13 41.5h1M19 41.5h2M42 41.5h1M45 41.5h1M59 41.5h1M61 41.5h1M3 42.5h1M17 42.5h1M33 42.5h1M55 42.5h2M58 42.5h2M3 43.5h1M22 43.5h1M36 43.5h1M55 43.5h1M60 43.5h1M7 44.5h2M30 44.5h1M34 44.5h1M38 44.5h1M16 45.5h1M51 45.5h1M9 46.5h1M11 46.5h2M20 46.5h1M56 46.5h1M1 47.5h1M12 47.5h1M18 47.5h1M27 47.5h1M38 47.5h2M64 47.5h3M6 48.5h1M20 48.5h1M24 48.5h6M5 49.5h1M12 49.5h1M14 49.5h1M39 49.5h1M9 50.5h1M35 50.5h1M20 51.5h1M46 51.5h3M6 52.5h1M29 52.5h2M33 52.5h1M45 52.5h1M47 52.5h1M18 53.5h1M59 53.5h2M6 54.5h1M8 54.5h1M13 54.5h2M20 54.5h1M29 54.5h3M37 54.5h1M6 55.5h1M9 55.5h1M23 55.5h1M28 55.5h1M12 56.5h2M28 56.5h1M34 56.5h1M1 57.5h1M8 57.5h1M19 57.5h1M21 57.5h1M24 57.5h2M38 57.5h1M1 58.5h1M11 58.5h1M23 58.5h1M45 58.5h2M51 58.5h1M4 59.5h1M33 59.5h1M60 59.5h1M9 60.5h1M40 60.5h2M54 60.5h1M61 60.5h1M13 61.5h1M28 61.5h1M40 61.5h2M56 61.5h1M12 62.5h1M27 62.5h1M34 62.5h1M19 63.5h2M44 63.5h1M2 64.5h1M7 64.5h2M17 64.5h1M23 64.5h1M27 64.5h3M32 64.5h1M34 64.5h1M39 64.5h1M46 64.5h2M6 65.5h1M8 65.5h1M13 65.5h1M31 65.5h2M37 65.5h1M44 65.5h1M15 66.5h1M20 66.5h1M25 66.5h1M27 66.5h1M39 66.5h1M45 66.5h1M2 67.5h1M41 67.5h2M44 67.5h1M60 67.5h2M1 68.5h2M13 68.5h1M23 68.5h2M43 68.5h1M6 69.5h1M16 69.5h1M42 69.5h1M8 70.5h1M41 70.5h1M55 70.5h1M7 71.5h1M18 71.5h1M53 71.5h1M56 71.5h1M12 72.5h1M17 72.5h2M21 72.5h1M43 72.5h2M53 72.5h1M58 72.5h1M1 73.5h1M17 73.5h1M21 73.5h1M23 73.5h1M25 73.5h1M30 73.5h1M43 73.5h2M57 73.5h1M61 73.5h1M3 74.5h1M34 74.5h1M39 74.5h1M42 74.5h1M59 74.5h2M2 75.5h2M6 75.5h1M19 75.5h1M28 75.5h1M34 75.5h1M41 75.5h3M52 75.5h1M11 76.5h1M19 76.5h1M36 76.5h1M49 76.5h1M12 77.5h1M16 77.5h1M34 77.5h1M37 77.5h1M40 77.5h1M7 78.5h1M15 78.5h1M17 78.5h1M28 78.5h1M33 78.5h1M45 78.5h1M47 78.5h1M66 78.5h1M10 79.5h1M14 79.5h1M25 79.5h1M32 79.5h1M56 79.5h1M58 79.5h1M68 79.5h2M2 80.5h2M9 80.5h2M12 80.5h1M27 80.5h1M46 80.5h1M51 80.5h1M57 80.5h1M1 81.5h1M7 81.5h1M14 81.5h1M16 81.5h1M21 81.5h1M24 81.5h2M28 81.5h2M38 81.5h1M48 81.5h1M51 81.5h1"/><path stroke="#8b8b8b" d="M0 0.5h1M28 0.5h1M39 0.5h1M48 0.5h1M55 0.5h2M58 0.5h8M0 1.5h1M28 1.5h1M39 1.5h1M48 1.5h1M55 1.5h2M58 1.5h8M1 2.5h1M10 2.5h2M36 2.5h2M19 3.5h1M28 3.5h1M30 3.5h1M8 4.5h1M33 4.5h1M26 5.5h1M0 6.5h2M12 6.5h2M25 6.5h1M38 6.5h1M5 7.5h1M17 7.5h1M21 7.5h1M43 7.5h1M7 8.5h1M7 9.5h1M11 9.5h1M51 9.5h2M5 10.5h1M34 10.5h1M39 10.5h1M59 10.5h1M1 11.5h1M4 11.5h4M43 11.5h1M2 12.5h1M20 12.5h1M25 12.5h1M12 13.5h1M21 13.5h1M33 13.5h1M36 13.5h1M42 13.5h1M46 13.5h1M0 14.5h2M9 14.5h1M27 14.5h1M32 14.5h1M36 14.5h1M41 14.5h1M1 15.5h1M8 15.5h1M11 15.5h1M17 15.5h1M19 15.5h1M4 16.5h1M12 16.5h1M36 16.5h1M2 17.5h1M15 17.5h1M30 17.5h1M44 17.5h1M10 18.5h1M29 18.5h2M65 18.5h5M1 19.5h1M14 19.5h1M18 19.5h1M65 19.5h1M3 20.5h1M3 21.5h1M19 21.5h2M41 21.5h1M63 21.5h1M14 22.5h1M59 22.5h1M61 22.5h1M1 24.5h1M4 24.5h1M8 24.5h1M21 24.5h1M17 25.5h1M28 25.5h1M17 26.5h1M19 26.5h1M23 26.5h1M48 26.5h2M31 27.5h1M48 27.5h1M60 27.5h1M11 28.5h1M32 28.5h1M46 28.5h1M3 29.5h1M14 29.5h1M28 29.5h2M2 30.5h1M9 30.5h1M11 30.5h1M26 30.5h3M2 31.5h1M8 31.5h1M12 31.5h1M16 31.5h1M19 31.5h1M58 31.5h1M0 32.5h1M18 32.5h1M21 32.5h1M30 32.5h1M44 32.5h1M58 32.5h1M4 33.5h1M15 33.5h1M17 33.5h1M21 33.5h1M38 33.5h1M43 33.5h1M8 34.5h1M12 34.5h1M15 34.5h2M59 34.5h2M8 35.5h2M32 35.5h1M38 35.5h1M65 35.5h1M7 36.5h1M25 36.5h1M28 36.5h1M32 36.5h1M54 36.5h1M65 36.5h2M17 37.5h1M19 37.5h1M32 37.5h1M37 37.5h1M17 38.5h1M23 38.5h1M37 38.5h1M14 39.5h1M21 39.5h1M24 39.5h1M6 40.5h1M10 40.5h1M12 40.5h1M23 40.5h1M26 40.5h1M38 40.5h3M0 41.5h1M44 41.5h1M60 41.5h1M9 42.5h1M57 42.5h1M12 43.5h1M15 43.5h1M28 43.5h1M34 43.5h2M56 43.5h1M58 43.5h2M15 44.5h1M58 44.5h1M5 45.5h1M11 45.5h1M15 45.5h1M37 45.5h1M39 45.5h1M56 45.5h1M58 45.5h1M10 46.5h1M15 46.5h1M57 46.5h1M0 47.5h1M21 47.5h1M23 47.5h1M2 48.5h1M18 48.5h2M34 48.5h1M7 49.5h1M10 49.5h2M18 49.5h1M21 49.5h1M40 49.5h2M7 50.5h1M10 50.5h1M40 50.5h2M0 51.5h1M7 51.5h1M23 51.5h1M5 52.5h1M16 52.5h3M24 52.5h1M31 52.5h2M2 54.5h1M12 54.5h1M19 54.5h1M24 54.5h1M1 55.5h1M17 55.5h2M37 55.5h1M0 56.5h2M4 56.5h3M11 56.5h1M14 56.5h1M21 56.5h1M25 56.5h1M35 56.5h1M37 56.5h1M11 57.5h1M16 57.5h1M20 57.5h1M43 57.5h1M10 58.5h1M21 58.5h1M39 58.5h1M43 58.5h2M7 59.5h1M12 59.5h1M15 59.5h1M11 60.5h2M14 60.5h1M18 60.5h1M20 60.5h1M24 60.5h1M59 60.5h2M6 61.5h1M19 61.5h1M21 61.5h1M26 61.5h2M53 61.5h1M55 61.5h1M11 62.5h1M11 63.5h1M17 63.5h2M3 64.5h1M18 64.5h1M21 64.5h1M45 64.5h1M9 65.5h2M14 65.5h2M27 65.5h1M38 65.5h1M43 65.5h1M1 66.5h1M12 66.5h1M26 66.5h1M40 66.5h1M5 67.5h1M28 67.5h1M43 67.5h1M5 68.5h1M3 69.5h1M10 69.5h1M20 69.5h1M41 69.5h1M17 70.5h1M54 70.5h1M4 71.5h1M16 71.5h1M23 71.5h1M3 72.5h1M11 72.5h1M16 72.5h1M19 72.5h1M28 73.5h1M58 73.5h1M4 75.5h1M14 75.5h1M27 75.5h1M53 75.5h1M55 75.5h1M35 76.5h1M37 76.5h2M1 77.5h1M21 77.5h1M35 77.5h2M4 78.5h1M11 78.5h1M21 78.5h1M9 79.5h1M23 79.5h1M30 79.5h1M57 79.5h1M0 80.5h1M4 80.5h1M23 80.5h1M34 80.5h1M13 81.5h1M19 81.5h1M23 81.5h1M30 81.5h2M49 81.5h2"/><path stroke="#909090" d="M22 0.5h1M32 0.5h1M36 0.5h2M42 0.5h1M47 0.5h1M57 0.5h1M22 1.5h1M32 1.5h1M36 1.5h2M42 1.5h1M47 1.5h1M57 1.5h1M9 2.5h1M12 2.5h1M19 2.5h1M26 2.5h1M9 3.5h1M12 3.5h1M20 3.5h1M29 3.5h1M7 4.5h1M31 4.5h2M4 6.5h1M27 6.5h1M4 7.5h1M7 7.5h1M41 7.5h2M25 8.5h1M1 9.5h1M6 9.5h1M20 9.5h1M17 10.5h1M33 10.5h1M40 10.5h2M60 10.5h1M0 11.5h1M8 11.5h1M18 11.5h1M20 11.5h1M42 11.5h1M15 12.5h1M24 12.5h1M6 13.5h1M30 13.5h1M11 14.5h1M30 14.5h1M35 14.5h1M40 14.5h1M60 14.5h1M12 15.5h1M18 15.5h1M25 15.5h1M5 16.5h1M7 16.5h1M21 16.5h1M43 16.5h1M21 17.5h1M43 17.5h1M9 18.5h1M31 18.5h1M0 19.5h1M10 19.5h1M12 19.5h1M23 20.5h1M6 21.5h1M13 21.5h1M16 21.5h1M59 21.5h1M62 21.5h1M12 22.5h1M60 22.5h1M4 23.5h1M22 23.5h1M2 24.5h2M19 24.5h1M22 24.5h1M11 25.5h1M29 25.5h3M20 26.5h2M49 27.5h1M13 28.5h2M16 28.5h1M34 28.5h1M47 28.5h1M49 28.5h1M1 29.5h1M20 30.5h1M6 31.5h1M23 31.5h1M25 31.5h1M61 31.5h1M7 32.5h1M31 32.5h1M61 32.5h1M16 33.5h1M39 33.5h4M0 34.5h1M7 34.5h1M11 34.5h1M0 35.5h1M10 35.5h1M30 35.5h1M35 35.5h1M66 35.5h1M11 36.5h1M17 36.5h1M23 36.5h1M2 37.5h1M9 37.5h2M18 37.5h1M30 37.5h1M40 37.5h1M1 38.5h1M24 38.5h1M29 38.5h3M34 38.5h1M41 38.5h1M2 39.5h1M5 39.5h2M15 39.5h1M19 39.5h1M22 39.5h2M25 40.5h1M60 40.5h1M10 41.5h1M43 41.5h1M5 42.5h1M24 42.5h1M27 42.5h1M11 43.5h1M21 43.5h1M33 43.5h1M57 43.5h1M2 44.5h1M6 44.5h1M9 44.5h1M56 44.5h1M3 45.5h1M6 46.5h1M7 47.5h1M11 47.5h1M26 47.5h1M9 48.5h1M17 48.5h1M30 48.5h4M9 49.5h1M19 49.5h1M12 50.5h1M16 50.5h1M19 50.5h1M33 50.5h2M19 51.5h1M21 51.5h1M4 52.5h1M19 52.5h1M46 52.5h1M6 53.5h1M9 54.5h1M11 54.5h1M15 54.5h1M28 54.5h1M5 55.5h1M15 55.5h2M19 55.5h2M24 55.5h1M2 56.5h2M7 56.5h2M36 56.5h1M7 57.5h1M15 57.5h1M44 57.5h3M9 58.5h1M38 58.5h1M0 59.5h1M3 59.5h1M13 59.5h2M16 59.5h1M21 59.5h1M8 60.5h1M19 60.5h1M3 61.5h1M9 61.5h1M29 61.5h1M0 62.5h1M33 62.5h1M2 63.5h2M16 63.5h1M23 63.5h1M39 63.5h1M0 64.5h2M4 64.5h3M14 64.5h1M33 64.5h1M44 64.5h1M0 65.5h1M26 65.5h1M44 66.5h1M3 67.5h1M13 67.5h4M18 68.5h1M15 69.5h1M0 70.5h1M4 70.5h1M7 70.5h1M12 70.5h1M1 71.5h1M10 71.5h1M55 71.5h1M13 72.5h3M20 72.5h1M56 72.5h2M13 73.5h1M19 73.5h1M29 73.5h1M59 73.5h2M5 74.5h2M9 74.5h1M33 74.5h1M40 74.5h1M54 75.5h1M21 76.5h1M33 76.5h2M17 77.5h1M3 78.5h1M5 78.5h2M14 78.5h1M18 78.5h1M25 78.5h1M3 79.5h2M1 80.5h1M5 80.5h2M28 80.5h2M33 80.5h1M3 81.5h1M5 81.5h1"/><path stroke="#949494" d="M1 0.5h1M21 0.5h1M23 0.5h1M35 0.5h1M38 0.5h1M1 1.5h1M21 1.5h1M23 1.5h1M35 1.5h1M38 1.5h1M27 2.5h1M29 2.5h1M3 3.5h1M10 3.5h2M0 4.5h2M9 4.5h1M3 5.5h1M8 5.5h1M26 6.5h1M13 7.5h1M1 8.5h1M3 8.5h1M27 8.5h1M5 9.5h1M11 10.5h2M16 10.5h1M19 11.5h1M40 11.5h1M32 13.5h1M7 14.5h1M17 14.5h1M37 14.5h1M7 15.5h1M23 15.5h1M3 16.5h1M6 16.5h1M8 16.5h1M11 16.5h1M18 16.5h1M9 17.5h1M11 17.5h1M17 17.5h1M28 17.5h1M0 18.5h1M8 18.5h1M6 19.5h1M9 19.5h1M11 19.5h1M17 19.5h1M0 20.5h1M2 20.5h1M13 20.5h1M20 20.5h1M4 21.5h2M9 21.5h1M14 21.5h2M60 21.5h2M4 22.5h1M5 23.5h1M10 23.5h1M16 23.5h1M21 23.5h1M12 24.5h1M8 25.5h1M16 25.5h1M22 26.5h1M16 27.5h1M19 27.5h1M3 28.5h1M7 28.5h1M19 28.5h1M33 28.5h1M48 28.5h1M8 29.5h1M11 29.5h1M15 29.5h1M18 29.5h1M17 30.5h1M19 30.5h1M1 31.5h1M11 31.5h1M24 31.5h1M59 31.5h1M12 32.5h1M14 32.5h1M59 32.5h1M12 35.5h1M24 35.5h1M37 35.5h1M12 36.5h1M29 36.5h3M31 37.5h1M15 38.5h2M28 38.5h1M32 38.5h1M3 39.5h1M10 39.5h1M15 40.5h2M21 40.5h1M1 41.5h1M12 41.5h1M16 42.5h1M25 42.5h1M19 43.5h1M29 43.5h1M10 44.5h2M28 44.5h1M37 44.5h1M20 45.5h1M38 45.5h1M57 45.5h1M4 46.5h2M5 47.5h1M25 47.5h1M5 48.5h1M15 48.5h2M1 49.5h1M4 49.5h1M8 49.5h1M17 49.5h1M20 49.5h1M1 50.5h1M4 50.5h1M11 50.5h1M28 50.5h1M1 51.5h1M16 51.5h1M22 51.5h1M0 52.5h1M7 52.5h1M9 52.5h1M15 52.5h1M20 52.5h1M23 52.5h1M2 53.5h1M5 53.5h1M9 53.5h1M17 53.5h1M10 54.5h1M21 54.5h1M23 54.5h1M25 54.5h1M35 54.5h1M25 55.5h1M27 55.5h1M39 55.5h1M15 56.5h1M8 58.5h1M22 58.5h1M1 59.5h1M2 60.5h1M32 61.5h1M54 61.5h1M13 62.5h2M28 62.5h2M12 63.5h1M15 63.5h1M21 63.5h1M43 63.5h1M9 64.5h1M22 64.5h1M43 64.5h1M5 65.5h1M16 65.5h1M19 65.5h1M11 66.5h1M16 66.5h1M41 66.5h3M7 67.5h1M12 67.5h1M17 67.5h8M8 68.5h1M21 68.5h1M32 68.5h1M0 69.5h1M1 70.5h1M3 70.5h1M11 70.5h1M13 70.5h1M16 70.5h1M15 71.5h1M19 71.5h1M5 72.5h1M8 72.5h1M32 72.5h1M35 72.5h1M54 72.5h2M4 73.5h1M20 73.5h1M24 73.5h1M13 74.5h1M17 74.5h2M41 74.5h1M15 75.5h1M21 75.5h1M26 75.5h1M4 76.5h1M18 76.5h1M18 77.5h3M2 78.5h1M12 78.5h2M27 78.5h1M30 78.5h1M32 78.5h1M46 78.5h1M2 79.5h1M24 79.5h1M31 79.5h1M21 80.5h2M22 81.5h1"/><path stroke="#999999" d="M16 0.5h2M24 0.5h1M34 0.5h1M46 0.5h1M16 1.5h2M24 1.5h1M34 1.5h1M46 1.5h1M8 2.5h1M18 2.5h1M28 2.5h1M7 3.5h1M7 5.5h1M23 5.5h1M5 6.5h1M7 6.5h1M11 6.5h1M18 7.5h1M8 8.5h1M26 8.5h1M4 9.5h1M12 9.5h1M10 10.5h1M13 10.5h3M14 11.5h1M17 11.5h1M41 11.5h1M13 12.5h2M31 13.5h1M41 13.5h1M12 14.5h1M34 14.5h1M39 14.5h1M19 16.5h2M12 17.5h1M3 19.5h1M1 20.5h1M19 20.5h1M10 21.5h1M6 23.5h1M20 23.5h1M5 26.5h1M16 26.5h1M32 26.5h1M15 27.5h1M16 29.5h2M12 30.5h1M18 30.5h1M60 31.5h1M9 32.5h1M11 32.5h1M17 32.5h1M19 32.5h1M60 32.5h1M1 33.5h1M22 33.5h3M6 34.5h1M7 35.5h1M15 35.5h1M18 35.5h1M36 35.5h1M6 36.5h1M9 36.5h1M0 37.5h2M39 37.5h1M0 38.5h1M25 38.5h1M27 38.5h1M33 38.5h1M40 38.5h1M4 39.5h1M16 39.5h1M3 40.5h1M5 40.5h1M9 40.5h1M24 40.5h1M2 41.5h1M11 41.5h1M10 42.5h1M26 42.5h1M4 43.5h2M32 43.5h1M29 44.5h1M35 44.5h1M57 44.5h1M12 45.5h1M17 45.5h1M1 46.5h1M13 46.5h2M3 47.5h1M3 48.5h1M10 48.5h1M14 48.5h1M29 50.5h1M9 51.5h1M15 51.5h1M17 51.5h2M8 52.5h1M10 52.5h1M21 52.5h1M3 53.5h2M5 54.5h1M16 54.5h1M18 54.5h1M27 54.5h1M26 55.5h1M9 56.5h2M16 56.5h2M27 56.5h1M9 57.5h1M7 58.5h1M2 59.5h1M5 59.5h1M17 60.5h1M5 61.5h1M20 61.5h1M1 62.5h1M10 62.5h1M4 63.5h1M13 63.5h2M1 65.5h1M10 66.5h1M19 66.5h1M11 67.5h1M27 67.5h1M6 68.5h1M1 69.5h1M11 69.5h1M14 69.5h1M2 70.5h1M14 70.5h2M54 71.5h1M2 72.5h1M7 72.5h1M9 72.5h2M2 73.5h2M4 74.5h1M9 75.5h1M18 75.5h1M0 76.5h1M3 76.5h1M5 76.5h1M15 76.5h1M4 77.5h2M7 77.5h1M0 78.5h1M19 78.5h2M0 79.5h1M7 79.5h1M13 80.5h1M20 80.5h1M6 81.5h1"/><path stroke="#9e9e9e" d="M2 0.5h1M18 0.5h3M27 0.5h1M33 0.5h1M43 0.5h1M45 0.5h1M2 1.5h1M18 1.5h3M27 1.5h1M33 1.5h1M43 1.5h1M45 1.5h1M7 2.5h1M13 2.5h5M3 4.5h1M6 4.5h1M10 4.5h1M12 4.5h1M25 5.5h1M6 6.5h1M8 6.5h1M8 7.5h1M12 7.5h1M19 7.5h2M12 8.5h1M3 9.5h1M14 9.5h1M9 10.5h1M9 11.5h1M13 11.5h1M13 13.5h1M18 13.5h1M37 13.5h1M8 14.5h1M33 14.5h1M38 14.5h1M6 15.5h1M2 16.5h1M9 16.5h1M10 17.5h1M18 17.5h1M29 17.5h1M1 18.5h1M7 18.5h1M5 19.5h1M15 19.5h2M14 20.5h1M11 22.5h1M15 22.5h2M19 23.5h1M7 24.5h1M1 25.5h1M12 25.5h1M2 27.5h1M10 27.5h1M2 29.5h1M7 30.5h2M14 30.5h1M0 31.5h1M9 31.5h1M17 31.5h1M20 32.5h1M1 34.5h1M4 34.5h2M11 35.5h1M31 35.5h1M1 36.5h1M4 36.5h2M10 36.5h1M24 36.5h1M26 38.5h1M38 38.5h2M13 40.5h2M5 41.5h1M4 42.5h1M6 43.5h1M13 43.5h2M20 43.5h1M30 43.5h1M5 44.5h1M12 44.5h1M14 44.5h1M4 45.5h1M19 45.5h1M8 47.5h1M19 47.5h1M24 47.5h1M13 48.5h1M22 52.5h1M13 53.5h2M3 54.5h1M17 54.5h1M22 54.5h1M26 54.5h1M36 54.5h1M18 56.5h1M26 56.5h1M2 57.5h1M10 57.5h1M2 58.5h1M6 58.5h1M10 61.5h1M4 62.5h5M22 63.5h1M10 64.5h4M40 64.5h1M42 64.5h1M9 66.5h1M4 67.5h1M8 67.5h3M25 67.5h1M7 68.5h1M34 68.5h1M2 69.5h1M12 69.5h2M9 70.5h1M3 71.5h1M5 71.5h1M20 71.5h1M14 73.5h1M16 73.5h1M7 74.5h2M16 74.5h1M19 74.5h2M16 75.5h2M25 75.5h1M1 76.5h2M6 76.5h1M17 76.5h1M22 76.5h1M25 76.5h1M2 77.5h2M6 77.5h1M8 77.5h1M11 77.5h1M1 78.5h1M26 78.5h1M31 78.5h1M1 79.5h1M19 80.5h1M2 81.5h1"/><path stroke="#a2a2a2" d="M15 0.5h1M25 0.5h1M44 0.5h1M15 1.5h1M25 1.5h1M44 1.5h1M6 2.5h1M4 5.5h3M2 8.5h1M9 8.5h1M2 9.5h1M6 10.5h3M17 13.5h1M19 13.5h2M40 13.5h1M24 15.5h1M10 16.5h1M1 17.5h1M14 17.5h1M19 17.5h2M2 18.5h1M7 19.5h2M15 20.5h4M21 20.5h1M12 23.5h1M5 24.5h1M13 24.5h1M18 24.5h1M4 25.5h1M15 25.5h1M15 26.5h1M30 26.5h1M6 27.5h1M9 27.5h1M11 27.5h1M17 27.5h2M10 28.5h1M10 31.5h1M18 31.5h1M5 32.5h1M10 32.5h1M2 34.5h2M1 35.5h1M5 35.5h1M16 35.5h2M38 37.5h1M11 42.5h1M15 42.5h1M7 43.5h1M31 43.5h1M3 44.5h1M13 44.5h1M36 44.5h1M18 45.5h1M20 47.5h1M11 48.5h1M3 49.5h1M15 49.5h1M5 50.5h2M4 51.5h1M14 51.5h1M14 52.5h1M10 53.5h1M7 55.5h1M38 55.5h1M3 58.5h1M5 58.5h1M6 59.5h1M3 60.5h1M15 60.5h1M12 61.5h1M30 61.5h1M9 62.5h1M2 65.5h1M8 66.5h1M26 67.5h1M19 68.5h1M5 70.5h1M10 70.5h1M14 71.5h1M21 71.5h2M6 72.5h1M14 74.5h2M22 75.5h2M7 76.5h2M10 76.5h1M16 76.5h1M17 81.5h1"/><path stroke="#a7a7a7" d="M3 0.5h1M5 0.5h1M26 0.5h1M3 1.5h1M5 1.5h1M26 1.5h1M5 2.5h1M11 4.5h1M15 11.5h2M14 13.5h1M13 14.5h1M28 14.5h2M2 15.5h1M5 15.5h1M0 17.5h1M13 17.5h1M3 18.5h4M22 20.5h1M5 22.5h1M11 23.5h1M17 23.5h1M7 25.5h1M11 26.5h2M12 27.5h1M8 28.5h2M13 30.5h1M3 35.5h1M13 36.5h1M9 39.5h1M17 39.5h2M7 40.5h1M8 43.5h1M14 45.5h1M3 46.5h1M10 47.5h1M4 48.5h1M12 48.5h1M2 49.5h1M16 49.5h1M17 50.5h2M3 51.5h1M11 52.5h1M15 53.5h2M4 55.5h1M8 55.5h1M3 57.5h2M6 57.5h1M17 59.5h1M20 59.5h1M7 60.5h1M16 60.5h1M4 61.5h1M11 61.5h1M2 62.5h2M0 63.5h2M42 63.5h1M41 64.5h1M3 65.5h2M2 66.5h1M20 68.5h1M33 68.5h1M6 71.5h1M11 71.5h1M1 72.5h1M15 73.5h1M24 75.5h1M14 80.5h1M18 80.5h1M18 81.5h1"/><path stroke="#acacac" d="M4 0.5h1M6 0.5h1M4 1.5h1M6 1.5h1M4 2.5h1M5 4.5h1M11 7.5h1M10 8.5h2M13 9.5h1M10 11.5h1M15 13.5h2M39 13.5h1M16 14.5h1M3 15.5h1M10 22.5h1M18 23.5h1M8 26.5h1M13 26.5h2M5 27.5h1M7 27.5h2M14 27.5h1M4 28.5h1M17 28.5h1M3 33.5h1M3 36.5h1M16 36.5h1M7 39.5h1M17 40.5h1M20 40.5h1M12 42.5h1M10 43.5h1M13 45.5h1M9 47.5h1M2 51.5h1M1 52.5h1M3 52.5h1M13 52.5h1M19 56.5h2M5 57.5h1M4 58.5h1M4 60.5h1M31 61.5h1M40 63.5h1M3 66.5h1M7 66.5h1M17 66.5h1M6 70.5h1M2 71.5h1M13 71.5h1M0 72.5h1M34 72.5h1M7 75.5h1M9 76.5h1M5 79.5h1M15 80.5h3"/><path stroke="#b0b0b0" d="M14 0.5h1M14 1.5h1M2 2.5h2M24 5.5h1M9 6.5h2M38 13.5h1M14 14.5h1M4 15.5h1M4 19.5h1M7 22.5h3M14 24.5h1M17 24.5h1M7 26.5h1M10 26.5h1M3 27.5h1M13 27.5h1M18 28.5h1M6 35.5h1M14 36.5h1M8 40.5h1M3 41.5h1M13 42.5h2M9 43.5h1M3 50.5h1M10 51.5h1M12 52.5h1M11 53.5h2M19 59.5h1M17 65.5h2M4 66.5h1M18 66.5h1M12 71.5h1M23 76.5h1"/><path stroke="#b5b5b5" d="M7 0.5h1M7 1.5h1M4 3.5h1M6 3.5h1M9 7.5h1M12 11.5h1M15 14.5h1M6 22.5h1M6 24.5h1M3 25.5h1M5 25.5h1M13 25.5h2M6 26.5h1M9 26.5h1M6 32.5h1M15 32.5h1M2 36.5h1M8 39.5h1M19 40.5h1M4 44.5h1M4 47.5h1M5 51.5h2M13 51.5h1M4 54.5h1M3 55.5h1M18 59.5h1M41 63.5h1M33 72.5h1"/><path stroke="#b9b9b9" d="M9 0.5h2M13 0.5h1M9 1.5h2M13 1.5h1M5 3.5h1M10 7.5h1M11 11.5h1M15 24.5h2M4 27.5h1M16 32.5h1M15 36.5h1M4 40.5h1M18 40.5h1M2 46.5h1M2 55.5h1M5 66.5h1M8 75.5h1M9 77.5h2"/><path stroke="#bebebe" d="M8 0.5h1M11 0.5h2M8 1.5h1M11 1.5h2M4 4.5h1M1 16.5h1M6 25.5h1M31 26.5h1M2 35.5h1M2 50.5h1M5 60.5h1M6 66.5h1M6 79.5h1"/><path stroke="#c3c3c3" d="M0 16.5h1M2 25.5h1M9 29.5h1M2 33.5h1M2 52.5h1M24 76.5h1"/><path stroke="#c7c7c7" d="M10 29.5h1M4 41.5h1M11 51.5h1M6 60.5h1"/><path stroke="#cccccc" d="M12 51.5h1"/></g><rect x="358" y="477.5" width="18" height="9.5" fill="#a4a4a4"/><rect x="375.5" y="477.5" width="19.5" height="9.5" fill="#dddddd"/></g></g>
<path fill="#000018" d="M80.7 384.8h1.3v2.2h-1.3zM83.9 407.7h1.3v2.1h-1.3zM134.2 477.8h1.3v1.4h-1.3zM93.8 116.0h1.3v2.6h-1.3zM88.5 103.2h1.3v2.2h-1.3zM104.1 500.4h1.3v2.3h-1.3zM109.0 213.1h1.3v2.0h-1.3zM126.7 398.6h1.3v2.3h-1.3zM114.0 362.5h1.3v1.8h-1.3zM103.5 195.5h1.3v1.4h-1.3zM92.1 263.0h1.3v2.2h-1.3zM103.9 328.1h1.3v1.9h-1.3zM109.6 345.2h1.3v2.5h-1.3zM97.1 409.4h1.3v2.4h-1.3zM103.8 321.2h1.3v2.5h-1.3zM111.8 355.2h1.3v1.3h-1.3zM108.7 106.4h1.3v2.5h-1.3zM106.0 247.9h1.3v2.0h-1.3zM108.6 382.9h1.3v1.4h-1.3zM110.9 477.7h1.3v2.2h-1.3zM108.4 243.3h1.3v1.8h-1.3zM110.6 430.1h1.3v2.2h-1.3zM114.2 299.5h1.3v2.4h-1.3zM103.0 471.7h1.3v1.9h-1.3zM104.8 319.3h1.3v1.5h-1.3zM105.8 122.3h1.3v2.2h-1.3zM100.3 88.7h1.3v2.3h-1.3zM83.3 335.7h1.3v2.6h-1.3zM110.5 494.3h1.3v2.1h-1.3zM103.5 481.9h1.3v1.6h-1.3zM147.5 385.8h1.3v1.9h-1.3zM108.4 256.8h1.3v1.2h-1.3zM124.4 167.6h1.3v1.4h-1.3zM80.5 330.3h1.3v2.1h-1.3zM111.9 187.3h1.3v1.8h-1.3zM107.9 281.6h1.3v2.5h-1.3zM90.6 270.7h1.3v1.3h-1.3zM82.0 171.1h1.3v2.2h-1.3zM105.8 336.0h1.3v1.9h-1.3zM130.1 429.6h1.3v1.4h-1.3zM107.7 331.1h1.3v1.7h-1.3zM82.9 233.7h1.3v1.3h-1.3zM90.0 153.8h1.3v2.6h-1.3zM108.3 404.5h1.3v1.7h-1.3zM106.2 239.5h1.3v1.4h-1.3zM124.4 413.6h1.3v2.3h-1.3zM142.8 451.5h1.3v2.1h-1.3zM144.8 315.6h1.3v2.1h-1.3zM138.2 382.9h1.3v2.0h-1.3zM95.3 339.1h1.3v1.3h-1.3zM140.4 279.3h1.3v1.5h-1.3zM88.5 333.6h1.3v2.5h-1.3zM118.2 319.7h1.3v1.6h-1.3zM110.6 393.9h1.3v2.2h-1.3zM82.2 276.4h1.3v1.9h-1.3zM124.3 286.5h1.3v1.4h-1.3zM109.5 118.3h1.3v2.0h-1.3zM107.1 172.3h1.3v1.4h-1.3zM92.7 147.0h1.3v1.8h-1.3zM128.0 488.5h1.3v1.4h-1.3zM136.2 353.2h1.3v1.8h-1.3zM123.0 454.1h1.3v2.1h-1.3zM135.7 432.4h1.3v1.4h-1.3zM109.5 214.5h1.3v1.4h-1.3zM105.8 403.6h1.3v1.3h-1.3zM96.2 194.6h1.3v1.3h-1.3zM126.8 174.0h1.3v1.8h-1.3zM107.6 204.3h1.3v1.6h-1.3zM112.7 287.0h1.3v2.5h-1.3zM88.4 215.1h1.3v2.6h-1.3zM81.6 303.8h1.3v1.2h-1.3zM144.9 364.5h1.3v2.2h-1.3zM110.6 336.0h1.3v2.4h-1.3zM91.5 149.7h1.3v1.4h-1.3zM148.6 460.7h1.3v1.5h-1.3zM90.5 374.4h1.3v1.9h-1.3zM132.6 136.0h1.3v1.7h-1.3zM106.4 294.8h1.3v1.5h-1.3zM99.3 473.4h1.3v2.1h-1.3zM106.0 156.7h1.3v2.6h-1.3zM420.5 385.1h2.1v2.5h-1.5zM446.8 491.9h2.1v3.2h-1.5zM323.5 150.8h1.8v2.4h-1.5zM447.1 183.3h1.3v2.0h-1.5zM474.4 475.2h2.2v2.6h-1.5zM428.3 303.4h2.0v3.3h-1.5zM499.2 419.2h1.6v3.1h-1.5zM398.4 307.1h1.4v2.7h-1.5zM462.4 404.5h2.1v2.4h-1.5zM345.8 375.2h2.0v2.2h-1.5zM405.8 137.4h2.1v2.2h-1.5zM311.0 130.3h1.3v2.0h-1.5zM360.1 442.1h1.5v1.6h-1.5zM453.9 307.2h1.3v2.1h-1.5z" clip-path="url(#pc)"/>
<rect x="80" y="59" width="520" height="16" fill="#000"/>
<rect x="599" y="505" width="1" height="5" fill="#fff"/>
<path class="t" d="M79.5 59V511M600.5 59V511M79 510.5H601M70 60.5H80M75 66.5H80M75 72.5H80M75 78.5H80M75 84.5H80M75 90.5H80M75 96.5H80M75 102.5H80M75 108.5H80M75 114.5H80M70 120.5H80M75 126.5H80M75 132.5H80M75 138.5H80M75 144.5H80M75 150.5H80M75 156.5H80M75 162.5H80M75 168.5H80M75 174.5H80M70 180.5H80M75 186.5H80M75 192.5H80M75 198.5H80M75 204.5H80M75 210.5H80M75 216.5H80M75 222.5H80M75 228.5H80M75 234.5H80M70 240.5H80M75 246.5H80M75 252.5H80M75 258.5H80M75 264.5H80M75 270.5H80M75 276.5H80M75 282.5H80M75 288.5H80M75 294.5H80M70 300.5H80M75 306.5H80M75 312.5H80M75 318.5H80M75 324.5H80M75 330.5H80M75 336.5H80M75 342.5H80M75 348.5H80M75 354.5H80M70 360.5H80M75 366.5H80M75 372.5H80M75 378.5H80M75 384.5H80M75 390.5H80M75 396.5H80M75 402.5H80M75 408.5H80M75 414.5H80M70 420.5H80M75 426.5H80M75 432.5H80M75 438.5H80M75 444.5H80M75 450.5H80M75 456.5H80M75 462.5H80M75 468.5H80M75 474.5H80M70 480.5H80M75 486.5H80M75 492.5H80M75 498.5H80M75 504.5H80M75 510.5H80M600 60.5H610M600 100.5H605M600 140.5H610M600 180.5H605M600 220.5H610M600 260.5H605M600 301.5H610M600 341.5H605M600 381.5H610M600 421.5H605M600 461.5H610M600 501.5H605M80.5 510V515M89.5 510V515M99.5 510V515M108.5 510V515M118.5 510V515M128.5 510V515M137.5 510V515M147.5 510V515M157.5 510V515M166.5 510V520M176.5 510V515M185.5 510V515M195.5 510V515M205.5 510V515M214.5 510V515M224.5 510V515M234.5 510V515M243.5 510V515M253.5 510V515M262.5 510V520M272.5 510V515M282.5 510V515M291.5 510V515M301.5 510V515M311.5 510V515M320.5 510V515M330.5 510V515M339.5 510V515M349.5 510V515M359.5 510V520M368.5 510V515M378.5 510V515M388.5 510V515M397.5 510V515M407.5 510V515M417.5 510V515M426.5 510V515M436.5 510V515M445.5 510V515M455.5 510V520M465.5 510V515M474.5 510V515M484.5 510V515M494.5 510V515M503.5 510V515M513.5 510V515M522.5 510V515M532.5 510V515M542.5 510V515M551.5 510V520M561.5 510V515M571.5 510V515M580.5 510V515M590.5 510V515M600.5 510V515"/>
<text x="56" y="65" textLength="12" lengthAdjust="spacing">0.</text>
<text x="56" y="125" textLength="12" lengthAdjust="spacing">1.</text>
<text x="56" y="185" textLength="12" lengthAdjust="spacing">2.</text>
<text x="56" y="245" textLength="12" lengthAdjust="spacing">3.</text>
<text x="56" y="305" textLength="12" lengthAdjust="spacing">4.</text>
<text x="56" y="365" textLength="12" lengthAdjust="spacing">5.</text>
<text x="56" y="425" textLength="12" lengthAdjust="spacing">6.</text>
<text x="56" y="485" textLength="12" lengthAdjust="spacing">7.</text>
<text x="612.5" y="64.5" textLength="12" lengthAdjust="spacing">0.</text>
<text x="612.5" y="144.9" textLength="28" lengthAdjust="spacing">200.</text>
<text x="612.5" y="225.2" textLength="28" lengthAdjust="spacing">400.</text>
<text x="612.5" y="305.6" textLength="28" lengthAdjust="spacing">600.</text>
<text x="612.5" y="385.9" textLength="28" lengthAdjust="spacing">800.</text>
<text x="612.5" y="466.3" textLength="36" lengthAdjust="spacing">1000.</text>
<text x="161.2" y="537" textLength="12" lengthAdjust="spacing">1.</text>
<text x="257.5" y="537" textLength="12" lengthAdjust="spacing">2.</text>
<text x="353.8" y="537" textLength="12" lengthAdjust="spacing">3.</text>
<text x="450.1" y="537" textLength="12" lengthAdjust="spacing">4.</text>
<text x="546.4" y="537" textLength="12" lengthAdjust="spacing">5.</text>
<text transform="translate(39.5,330) rotate(-90)" textLength="103" lengthAdjust="spacing">Time Delay (ms)</text>
<text transform="translate(653.5,217) rotate(90)" textLength="136" lengthAdjust="spacing">Apparent Range (km)</text>
<text x="293.5" y="557.5" textLength="109" lengthAdjust="spacing">Frequency (MHz)</text>
<text x="35" y="45" textLength="79" lengthAdjust="spacing">Orbit: 10576</text>
<text x="130" y="45" textLength="74" lengthAdjust="spacing">2012-04-20</text>
<text x="208" y="45" textLength="63" lengthAdjust="spacing">(Day 111)</text>
<text x="275" y="45" textLength="84" lengthAdjust="spacing">10:12:33.669</text>
<text x="375" y="45" textLength="30" lengthAdjust="spacing">SZA:</text>
<text x="413" y="45" textLength="36" lengthAdjust="spacing">51.40</text>
<text x="469" y="45" textLength="51" lengthAdjust="spacing">Altitude:</text>
<text x="536" y="45" textLength="32" lengthAdjust="spacing">1107</text>
<text x="588" y="45" textLength="24" lengthAdjust="spacing">Lat:</text>
<text x="620" y="45" textLength="36" lengthAdjust="spacing">11.05</text>
<text x="676" y="45" textLength="84" lengthAdjust="spacing">Long: 252.35</text>
<defs><linearGradient id="cb" x1="0" y1="60" x2="0" y2="508" gradientUnits="userSpaceOnUse">
<stop offset="0" stop-color="#ff0000"/>
<stop offset="0.366" stop-color="#ffff00"/>
<stop offset="0.507" stop-color="#00ff00"/>
<stop offset="0.752" stop-color="#00ffff"/>
<stop offset="0.879" stop-color="#0000ff"/>
<stop offset="1" stop-color="#000083"/>
</linearGradient></defs>
<rect x="740" y="60" width="21" height="450" fill="url(#cb)"/>
<rect x="740" y="508" width="21" height="2" fill="#000"/>
<path class="t" d="M739.5 60V511M760.5 60V511M739 510.5H761M730 510.5H740M761 510.5H770M735 493.5H740M761 493.5H765M735 483.5H740M761 483.5H765M735 476.5H740M761 476.5H765M735 470.5H740M761 470.5H765M735 466.5H740M761 466.5H765M735 462.5H740M761 462.5H765M735 459.5H740M761 459.5H765M735 456.5H740M761 456.5H765M730 453.5H740M761 453.5H770M735 436.5H740M761 436.5H765M735 426.5H740M761 426.5H765M735 419.5H740M761 419.5H765M735 414.5H740M761 414.5H765M735 409.5H740M761 409.5H765M735 406.5H740M761 406.5H765M735 402.5H740M761 402.5H765M735 400.5H740M761 400.5H765M730 397.5H740M761 397.5H770M735 380.5H740M761 380.5H765M735 370.5H740M761 370.5H765M735 363.5H740M761 363.5H765M735 358.5H740M761 358.5H765M735 353.5H740M761 353.5H765M735 349.5H740M761 349.5H765M735 346.5H740M761 346.5H765M735 343.5H740M761 343.5H765M730 341.5H740M761 341.5H770M735 324.5H740M761 324.5H765M735 314.5H740M761 314.5H765M735 307.5H740M761 307.5H765M735 301.5H740M761 301.5H765M735 297.5H740M761 297.5H765M735 293.5H740M761 293.5H765M735 290.5H740M761 290.5H765M735 287.5H740M761 287.5H765M730 285.5H740M761 285.5H770M735 268.5H740M761 268.5H765M735 258.5H740M761 258.5H765M735 251.5H740M761 251.5H765M735 245.5H740M761 245.5H765M735 241.5H740M761 241.5H765M735 237.5H740M761 237.5H765M735 234.5H740M761 234.5H765M735 231.5H740M761 231.5H765M730 228.5H740M761 228.5H770M735 211.5H740M761 211.5H765M735 201.5H740M761 201.5H765M735 194.5H740M761 194.5H765M735 189.5H740M761 189.5H765M735 184.5H740M761 184.5H765M735 181.5H740M761 181.5H765M735 177.5H740M761 177.5H765M735 175.5H740M761 175.5H765M730 172.5H740M761 172.5H770M735 155.5H740M761 155.5H765M735 145.5H740M761 145.5H765M735 138.5H740M761 138.5H765M735 133.5H740M761 133.5H765M735 128.5H740M761 128.5H765M735 124.5H740M761 124.5H765M735 121.5H740M761 121.5H765M735 118.5H740M761 118.5H765M730 116.5H740M761 116.5H770M735 99.5H740M761 99.5H765M735 89.5H740M761 89.5H765M735 82.5H740M761 82.5H765M735 76.5H740M761 76.5H765M735 72.5H740M761 72.5H765M735 68.5H740M761 68.5H765M735 65.5H740M761 65.5H765M735 62.5H740M761 62.5H765M730 60.5H740M761 60.5H770"/>
<text x="694" y="517.0" textLength="16" lengthAdjust="spacing">10</text>
<text x="710" y="510.5" textLength="21" lengthAdjust="spacing">-17</text>
<text x="694" y="460.8" textLength="16" lengthAdjust="spacing">10</text>
<text x="710" y="454.2" textLength="21" lengthAdjust="spacing">-16</text>
<text x="694" y="404.5" textLength="16" lengthAdjust="spacing">10</text>
<text x="710" y="398.0" textLength="21" lengthAdjust="spacing">-15</text>
<text x="694" y="348.2" textLength="16" lengthAdjust="spacing">10</text>
<text x="710" y="341.8" textLength="21" lengthAdjust="spacing">-14</text>
<text x="694" y="292.0" textLength="16" lengthAdjust="spacing">10</text>
<text x="710" y="285.5" textLength="21" lengthAdjust="spacing">-13</text>
<text x="694" y="235.8" textLength="16" lengthAdjust="spacing">10</text>
<text x="710" y="229.2" textLength="21" lengthAdjust="spacing">-12</text>
<text x="694" y="179.5" textLength="16" lengthAdjust="spacing">10</text>
<text x="710" y="173.0" textLength="21" lengthAdjust="spacing">-11</text>
<text x="694" y="123.2" textLength="16" lengthAdjust="spacing">10</text>
<text x="710" y="116.8" textLength="21" lengthAdjust="spacing">-10</text>
<text x="702" y="67.0" textLength="16" lengthAdjust="spacing">10</text>
<text x="718" y="60.5" textLength="13" lengthAdjust="spacing">-9</text>
<text x="712.5" y="551.5">V</text><text x="724.5" y="547" style="font-size:9px">2</text><text x="733" y="551.5">m</text><text x="747" y="547" style="font-size:9px">-2</text><text x="757.7" y="551.5">Hz</text><text x="776" y="547" style="font-size:9px">-1</text>
<text x="724" y="582" style="font-size:7px" textLength="58" lengthAdjust="spacing">UIOWA 20130124</text>
</svg></body></html>
